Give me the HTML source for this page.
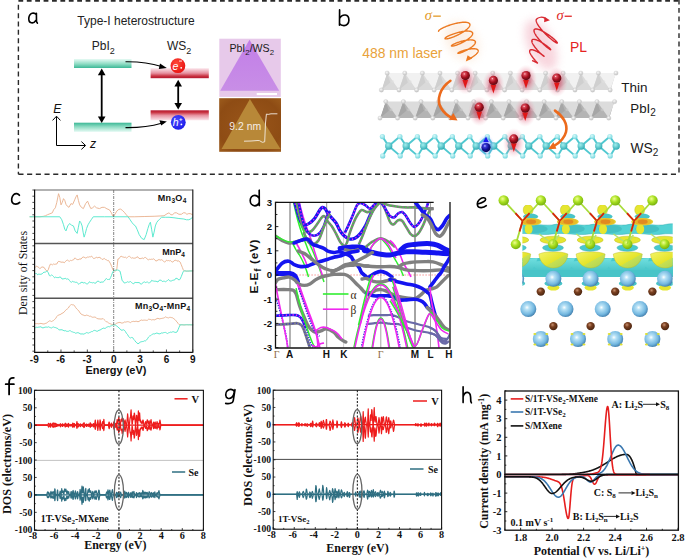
<!DOCTYPE html>
<html><head><meta charset="utf-8"><style>
html,body{margin:0;padding:0;background:#fff;width:685px;height:558px;overflow:hidden;}
svg{display:block;}

</style></head><body>
<svg width="685" height="558" viewBox="0 0 685 558">
<defs><linearGradient id="gT" x1="0" y1="0" x2="0" y2="1"><stop offset="0" stop-color="#e6faf4"/><stop offset="0.55" stop-color="#8fdcc4"/><stop offset="1" stop-color="#3cb896"/></linearGradient>
<linearGradient id="gTb" x1="0" y1="1" x2="0" y2="0"><stop offset="0" stop-color="#e6faf4"/><stop offset="0.55" stop-color="#8fdcc4"/><stop offset="1" stop-color="#3cb896"/></linearGradient>
<linearGradient id="gR" x1="0" y1="0" x2="0" y2="1"><stop offset="0" stop-color="#fbe6ec"/><stop offset="0.5" stop-color="#e6909f"/><stop offset="0.8" stop-color="#c8303f"/><stop offset="1" stop-color="#b41830"/></linearGradient>
<linearGradient id="gRb" x1="0" y1="1" x2="0" y2="0"><stop offset="0" stop-color="#fbe6ec"/><stop offset="0.5" stop-color="#e6909f"/><stop offset="0.8" stop-color="#c8303f"/><stop offset="1" stop-color="#b41830"/></linearGradient>
<radialGradient id="gEr" cx="0.4" cy="0.35" r="0.7"><stop offset="0" stop-color="#ff4a3a"/><stop offset="1" stop-color="#e81010"/></radialGradient>
<radialGradient id="gHb" cx="0.4" cy="0.35" r="0.7"><stop offset="0" stop-color="#4a4aff"/><stop offset="1" stop-color="#1a1ae8"/></radialGradient>
<linearGradient id="gPur" x1="0" y1="0" x2="0" y2="1"><stop offset="0" stop-color="#c27ee8"/><stop offset="1" stop-color="#c88ee6"/></linearGradient>
<radialGradient id="gAfm" cx="0.5" cy="0.5" r="0.75"><stop offset="0" stop-color="#9a561a"/><stop offset="0.7" stop-color="#8e4c14"/><stop offset="1" stop-color="#a0601e"/></radialGradient>
<filter id="blur2" x="-50%" y="-50%" width="200%" height="200%"><feGaussianBlur stdDeviation="2.2"/></filter>
<filter id="blur4" x="-50%" y="-50%" width="200%" height="200%"><feGaussianBlur stdDeviation="4"/></filter>
<radialGradient id="gGlowR"><stop offset="0" stop-color="#c81838" stop-opacity="0.75"/><stop offset="0.45" stop-color="#d84060" stop-opacity="0.42"/><stop offset="0.8" stop-color="#e88098" stop-opacity="0.15"/><stop offset="1" stop-color="#f0a0b0" stop-opacity="0"/></radialGradient>
<radialGradient id="gGlowB"><stop offset="0" stop-color="#1030ff" stop-opacity="0.8"/><stop offset="0.5" stop-color="#4060ff" stop-opacity="0.4"/><stop offset="1" stop-color="#a0b0ff" stop-opacity="0"/></radialGradient>
<radialGradient id="gBallR" cx="0.38" cy="0.32" r="0.7"><stop offset="0" stop-color="#fff0f0"/><stop offset="0.15" stop-color="#e05060"/><stop offset="0.55" stop-color="#a81020"/><stop offset="1" stop-color="#5a0810"/></radialGradient>
<radialGradient id="gBallB" cx="0.38" cy="0.32" r="0.7"><stop offset="0" stop-color="#e0e0ff"/><stop offset="0.18" stop-color="#4040e0"/><stop offset="0.6" stop-color="#101090"/><stop offset="1" stop-color="#080850"/></radialGradient>
<radialGradient id="gAtomW" cx="0.4" cy="0.35" r="0.7"><stop offset="0" stop-color="#f8f8f8"/><stop offset="1" stop-color="#bcbcbc"/></radialGradient>
<radialGradient id="gS" cx="0.4" cy="0.35" r="0.7"><stop offset="0" stop-color="#d8fafa"/><stop offset="1" stop-color="#6cd4dc"/></radialGradient>
<radialGradient id="gW" cx="0.4" cy="0.35" r="0.7"><stop offset="0" stop-color="#a0eeee"/><stop offset="1" stop-color="#2aa8b0"/></radialGradient>
<clipPath id="cl73"><polygon points="387.2,72.1 616,72.1 610.2,91 381.4,91"/></clipPath>
<clipPath id="cl101"><polygon points="385.8,100.6 614.6,100.6 608.8,119.1 380,119.1"/></clipPath>
<clipPath id="cpd"><rect x="275.5" y="202.3" width="174.1" height="145.3"/></clipPath>
<radialGradient id="gLB" cx="0.42" cy="0.4" r="0.62"><stop offset="0" stop-color="#ffffff"/><stop offset="0.22" stop-color="#b8e2f6"/><stop offset="0.7" stop-color="#74b8e0"/><stop offset="0.92" stop-color="#4e8ebc"/><stop offset="1" stop-color="#3c78a4"/></radialGradient>
<radialGradient id="gBr" cx="0.4" cy="0.35" r="0.65"><stop offset="0" stop-color="#c89070"/><stop offset="0.4" stop-color="#7a4020"/><stop offset="1" stop-color="#4a2410"/></radialGradient>
<radialGradient id="gGr" cx="0.4" cy="0.35" r="0.65"><stop offset="0" stop-color="#f0ff90"/><stop offset="0.5" stop-color="#a8e020"/><stop offset="1" stop-color="#78b010"/></radialGradient>
<linearGradient id="gYel" x1="0" y1="0" x2="1" y2="1"><stop offset="0" stop-color="#f4f468"/><stop offset="0.55" stop-color="#e4e42a"/><stop offset="0.56" stop-color="#c8e050"/><stop offset="1" stop-color="#a8d058"/></linearGradient>
<linearGradient id="gCy" x1="0" y1="0" x2="0" y2="1"><stop offset="0" stop-color="#70e0e0"/><stop offset="1" stop-color="#38b8bc"/></linearGradient>
<clipPath id="cpe"><rect x="522.4" y="205" width="150.3" height="90"/></clipPath></defs>
<g stroke="#2a2a2a" stroke-width="1.4" fill="none"><line x1="18.4" y1="0.8" x2="679" y2="0.8" stroke-width="1.7" stroke-dasharray="4.8 3.6"/><line x1="18.4" y1="4.8" x2="18.4" y2="174.3" stroke-dasharray="5 3.35"/><line x1="679" y1="0" x2="679" y2="174.3" stroke-dasharray="4.8 3.6" stroke-dashoffset="0.4"/><line x1="18.4" y1="174.3" x2="679" y2="174.3" stroke-dasharray="5.1 3.6"/></g>
<path d="M36.3,14.6 C34.6,12.3 29.4,12.2 28.8,18.2 C28.4,23.6 33.6,24.2 35.6,20.6 M36.4,13.2 L36.5,21.6 L37.4,23.2" fill="none" stroke="#000" stroke-width="1.6" stroke-linecap="round" stroke-linejoin="round"/>
<text x="77.3" y="25.2" font-family="Liberation Sans" font-size="12" font-weight="normal" fill="#222" text-anchor="start" >Type-I heterostructure</text>
<text x="91.8" y="49.9" font-family="Liberation Sans" font-size="12" font-weight="normal" fill="#222" text-anchor="start" >PbI<tspan font-size="9" dy="3.6">2</tspan></text>
<text x="167" y="49.9" font-family="Liberation Sans" font-size="12" font-weight="normal" fill="#222" text-anchor="start" >WS<tspan font-size="9" dy="3.6">2</tspan></text>
<rect x="74" y="59" width="57.5" height="9" fill="url(#gT)"/>
<rect x="74" y="122.7" width="57.5" height="9.2" fill="url(#gTb)"/>
<rect x="150.6" y="68.2" width="58.2" height="10" fill="url(#gR)"/>
<rect x="150.6" y="110.3" width="58.2" height="10" fill="url(#gRb)"/>
<line x1="101.7" y1="73.6" x2="101.7" y2="118" stroke="#000" stroke-width="1.8"/>
<path d="M101.7,68.6 l-3.8,6.6 l7.6,0 z" fill="#000"/>
<path d="M101.7,123 l-3.8,-6.6 l7.6,0 z" fill="#000"/>
<line x1="178.2" y1="84.8" x2="178.2" y2="104.6" stroke="#000" stroke-width="1.8"/>
<path d="M178.2,79.8 l-3.8,6.6 l7.6,0 z" fill="#000"/>
<path d="M178.2,109.6 l-3.8,-6.6 l7.6,0 z" fill="#000"/>
<path d="M125.5,61.8 C140,61.6 152,63.5 161.5,66.6" fill="none" stroke="#000" stroke-width="1.1"/>
<path d="M166.8,68 l-6.8,-4.6 l-1.2,5.6 z" fill="#000"/>
<path d="M125.5,127.6 C140,127.8 152,126 161.5,123.2" fill="none" stroke="#000" stroke-width="1.1"/>
<path d="M166.8,121.4 l-7.4,-1.2 l1.8,5.4 z" fill="#000"/>
<circle cx="177.9" cy="65.7" r="7.4" fill="url(#gEr)"/>
<circle cx="178.3" cy="122.3" r="7.4" fill="url(#gHb)"/>
<text x="172.6" y="69.6" font-family="Liberation Sans" font-size="10.5" font-weight="normal" fill="#fff" text-anchor="start" font-style="italic">e</text>
<rect x="179" y="60.6" width="3" height="0.9" fill="#fff"/><circle cx="181.2" cy="67.8" r="0.9" fill="#fff"/>
<text x="172.8" y="126.4" font-family="Liberation Sans" font-size="10.5" font-weight="normal" fill="#fff" text-anchor="start" font-style="italic">h</text>
<text x="179" y="121" font-family="Liberation Sans" font-size="6" font-weight="bold" fill="#fff" text-anchor="start" >+</text>
<circle cx="181.4" cy="124.4" r="0.9" fill="#fff"/>
<path d="M56.5,116.5 L56.5,145.5 L85,145.5" fill="none" stroke="#000" stroke-width="1"/>
<path d="M52.6,120.4 L56.5,116.2 L60.4,120.4 M81.4,141.6 L85.6,145.5 L81.4,149.4" fill="none" stroke="#000" stroke-width="1"/>
<text x="53.2" y="112.6" font-family="Liberation Sans" font-size="12.3" font-weight="normal" fill="#111" text-anchor="start" font-style="italic">E</text>
<text x="90" y="148" font-family="Liberation Sans" font-size="12.3" font-weight="normal" fill="#111" text-anchor="start" font-style="italic">z</text>
<rect x="219.3" y="38.7" width="61.5" height="58.2" fill="#e7c9ea"/>
<path d="M249.5,39.7 L279.2,90.8 L220.2,90.8 Z" fill="url(#gPur)"/>
<rect x="256.7" y="93" width="20.3" height="2.1" fill="#fff"/>
<text x="229.4" y="52" font-family="Liberation Sans" font-size="10.6" font-weight="normal" fill="#1a1a1a" text-anchor="start" >PbI<tspan font-size="7.8" dy="2.5">2</tspan><tspan dy="-2.5">/WS</tspan><tspan font-size="7.8" dy="2.5">2</tspan></text>
<rect x="219.2" y="98.2" width="61.8" height="53.6" fill="url(#gAfm)"/>
<path d="M249.9,99.1 L280.5,148.9 L221.5,148.9 Z" fill="#b88838"/>
<text x="229.3" y="130.1" font-family="Liberation Sans" font-size="10.4" font-weight="normal" fill="#f6eee6" text-anchor="start" >9.2 nm</text>
<polyline points="244,141.2 251,141 258,140.5 259.6,140.7 262.3,142.3 264.7,141.8 265.5,123 266.4,114.1 268.2,114.4 271,113.8 277.4,113.8" fill="none" stroke="#f4ece4" stroke-width="0.9"/>
<path d="M339.6,9.9 L339.5,25.2 M339.6,18.5 C341.2,15.2 344,14.9 345.4,15 C348,15.3 348.9,18 348.9,20.3 C348.9,23.4 346.6,25.6 344,25.6 C342,25.6 340.3,24.6 339.6,23.6" fill="none" stroke="#000" stroke-width="1.65" stroke-linecap="round" stroke-linejoin="round"/>
<ellipse cx="462" cy="41" rx="15" ry="22" transform="rotate(-35 462 41)" fill="#fbe6d4" opacity="0.6" filter="url(#blur4)"/>
<ellipse cx="541" cy="45" rx="13" ry="27" transform="rotate(-25 541 45)" fill="#f4c0cc" opacity="0.65" filter="url(#blur4)"/>
<g clip-path="url(#cl73)">
<polygon points="387.2,73.1 616,73.1 610.2,90 381.4,90" fill="#f1f1f1"/>
<polygon points="387.2,73.1 399,90 381.4,90" fill="#dadada"/>
<polygon points="387.2,73.1 381.4,90 390.2,82.39" fill="#cfcfcf"/>
<polygon points="404.8,73.1 416.6,90 399,90" fill="#dadada"/>
<polygon points="404.8,73.1 399,90 407.8,82.39" fill="#cfcfcf"/>
<polygon points="422.4,73.1 434.2,90 416.6,90" fill="#dadada"/>
<polygon points="422.4,73.1 416.6,90 425.4,82.39" fill="#cfcfcf"/>
<polygon points="440,73.1 451.8,90 434.2,90" fill="#dadada"/>
<polygon points="440,73.1 434.2,90 443,82.39" fill="#cfcfcf"/>
<polygon points="457.6,73.1 469.4,90 451.8,90" fill="#dadada"/>
<polygon points="457.6,73.1 451.8,90 460.6,82.39" fill="#cfcfcf"/>
<polygon points="475.2,73.1 487,90 469.4,90" fill="#dadada"/>
<polygon points="475.2,73.1 469.4,90 478.2,82.39" fill="#cfcfcf"/>
<polygon points="492.8,73.1 504.6,90 487,90" fill="#dadada"/>
<polygon points="492.8,73.1 487,90 495.8,82.39" fill="#cfcfcf"/>
<polygon points="510.4,73.1 522.2,90 504.6,90" fill="#dadada"/>
<polygon points="510.4,73.1 504.6,90 513.4,82.39" fill="#cfcfcf"/>
<polygon points="528,73.1 539.8,90 522.2,90" fill="#dadada"/>
<polygon points="528,73.1 522.2,90 531,82.39" fill="#cfcfcf"/>
<polygon points="545.6,73.1 557.4,90 539.8,90" fill="#dadada"/>
<polygon points="545.6,73.1 539.8,90 548.6,82.39" fill="#cfcfcf"/>
<polygon points="563.2,73.1 575,90 557.4,90" fill="#dadada"/>
<polygon points="563.2,73.1 557.4,90 566.2,82.39" fill="#cfcfcf"/>
<polygon points="580.8,73.1 592.6,90 575,90" fill="#dadada"/>
<polygon points="580.8,73.1 575,90 583.8,82.39" fill="#cfcfcf"/>
<polygon points="598.4,73.1 610.2,90 592.6,90" fill="#dadada"/>
<polygon points="598.4,73.1 592.6,90 601.4,82.39" fill="#cfcfcf"/>
<polygon points="616,73.1 627.8,90 610.2,90" fill="#dadada"/>
<polygon points="616,73.1 610.2,90 619,82.39" fill="#cfcfcf"/>
<circle cx="392.5" cy="81.55" r="1.5" fill="#e0e0e0" opacity="0.6"/>
<circle cx="410.1" cy="81.55" r="1.5" fill="#e0e0e0" opacity="0.6"/>
<circle cx="427.7" cy="81.55" r="1.5" fill="#e0e0e0" opacity="0.6"/>
<circle cx="445.3" cy="81.55" r="1.5" fill="#e0e0e0" opacity="0.6"/>
<circle cx="462.9" cy="81.55" r="1.5" fill="#e0e0e0" opacity="0.6"/>
<circle cx="480.5" cy="81.55" r="1.5" fill="#e0e0e0" opacity="0.6"/>
<circle cx="498.1" cy="81.55" r="1.5" fill="#e0e0e0" opacity="0.6"/>
<circle cx="515.7" cy="81.55" r="1.5" fill="#e0e0e0" opacity="0.6"/>
<circle cx="533.3" cy="81.55" r="1.5" fill="#e0e0e0" opacity="0.6"/>
<circle cx="550.9" cy="81.55" r="1.5" fill="#e0e0e0" opacity="0.6"/>
<circle cx="568.5" cy="81.55" r="1.5" fill="#e0e0e0" opacity="0.6"/>
<circle cx="586.1" cy="81.55" r="1.5" fill="#e0e0e0" opacity="0.6"/>
<circle cx="603.7" cy="81.55" r="1.5" fill="#e0e0e0" opacity="0.6"/>
<circle cx="621.3" cy="81.55" r="1.5" fill="#e0e0e0" opacity="0.6"/>
</g>
<circle cx="387.2" cy="73.1" r="2.2" fill="url(#gAtomW)" stroke="#c8c8c8" stroke-width="0.3"/>
<circle cx="404.8" cy="73.1" r="2.2" fill="url(#gAtomW)" stroke="#c8c8c8" stroke-width="0.3"/>
<circle cx="422.4" cy="73.1" r="2.2" fill="url(#gAtomW)" stroke="#c8c8c8" stroke-width="0.3"/>
<circle cx="440" cy="73.1" r="2.2" fill="url(#gAtomW)" stroke="#c8c8c8" stroke-width="0.3"/>
<circle cx="457.6" cy="73.1" r="2.2" fill="url(#gAtomW)" stroke="#c8c8c8" stroke-width="0.3"/>
<circle cx="475.2" cy="73.1" r="2.2" fill="url(#gAtomW)" stroke="#c8c8c8" stroke-width="0.3"/>
<circle cx="492.8" cy="73.1" r="2.2" fill="url(#gAtomW)" stroke="#c8c8c8" stroke-width="0.3"/>
<circle cx="510.4" cy="73.1" r="2.2" fill="url(#gAtomW)" stroke="#c8c8c8" stroke-width="0.3"/>
<circle cx="528" cy="73.1" r="2.2" fill="url(#gAtomW)" stroke="#c8c8c8" stroke-width="0.3"/>
<circle cx="545.6" cy="73.1" r="2.2" fill="url(#gAtomW)" stroke="#c8c8c8" stroke-width="0.3"/>
<circle cx="563.2" cy="73.1" r="2.2" fill="url(#gAtomW)" stroke="#c8c8c8" stroke-width="0.3"/>
<circle cx="580.8" cy="73.1" r="2.2" fill="url(#gAtomW)" stroke="#c8c8c8" stroke-width="0.3"/>
<circle cx="598.4" cy="73.1" r="2.2" fill="url(#gAtomW)" stroke="#c8c8c8" stroke-width="0.3"/>
<circle cx="616" cy="73.1" r="2.2" fill="url(#gAtomW)" stroke="#c8c8c8" stroke-width="0.3"/>
<circle cx="381.4" cy="90" r="2.2" fill="url(#gAtomW)" stroke="#c8c8c8" stroke-width="0.3"/>
<circle cx="399" cy="90" r="2.2" fill="url(#gAtomW)" stroke="#c8c8c8" stroke-width="0.3"/>
<circle cx="416.6" cy="90" r="2.2" fill="url(#gAtomW)" stroke="#c8c8c8" stroke-width="0.3"/>
<circle cx="434.2" cy="90" r="2.2" fill="url(#gAtomW)" stroke="#c8c8c8" stroke-width="0.3"/>
<circle cx="451.8" cy="90" r="2.2" fill="url(#gAtomW)" stroke="#c8c8c8" stroke-width="0.3"/>
<circle cx="469.4" cy="90" r="2.2" fill="url(#gAtomW)" stroke="#c8c8c8" stroke-width="0.3"/>
<circle cx="487" cy="90" r="2.2" fill="url(#gAtomW)" stroke="#c8c8c8" stroke-width="0.3"/>
<circle cx="504.6" cy="90" r="2.2" fill="url(#gAtomW)" stroke="#c8c8c8" stroke-width="0.3"/>
<circle cx="522.2" cy="90" r="2.2" fill="url(#gAtomW)" stroke="#c8c8c8" stroke-width="0.3"/>
<circle cx="539.8" cy="90" r="2.2" fill="url(#gAtomW)" stroke="#c8c8c8" stroke-width="0.3"/>
<circle cx="557.4" cy="90" r="2.2" fill="url(#gAtomW)" stroke="#c8c8c8" stroke-width="0.3"/>
<circle cx="575" cy="90" r="2.2" fill="url(#gAtomW)" stroke="#c8c8c8" stroke-width="0.3"/>
<circle cx="592.6" cy="90" r="2.2" fill="url(#gAtomW)" stroke="#c8c8c8" stroke-width="0.3"/>
<circle cx="610.2" cy="90" r="2.2" fill="url(#gAtomW)" stroke="#c8c8c8" stroke-width="0.3"/>
<g clip-path="url(#cl101)">
<polygon points="385.8,101.6 614.6,101.6 608.8,118.1 380,118.1" fill="#dcdcdc"/>
<polygon points="385.8,101.6 397.6,118.1 380,118.1" fill="#b4b4b4"/>
<polygon points="385.8,101.6 380,118.1 388.8,110.67" fill="#a6a6a6"/>
<polygon points="403.4,101.6 415.2,118.1 397.6,118.1" fill="#b4b4b4"/>
<polygon points="403.4,101.6 397.6,118.1 406.4,110.67" fill="#a6a6a6"/>
<polygon points="421,101.6 432.8,118.1 415.2,118.1" fill="#b4b4b4"/>
<polygon points="421,101.6 415.2,118.1 424,110.67" fill="#a6a6a6"/>
<polygon points="438.6,101.6 450.4,118.1 432.8,118.1" fill="#b4b4b4"/>
<polygon points="438.6,101.6 432.8,118.1 441.6,110.67" fill="#a6a6a6"/>
<polygon points="456.2,101.6 468,118.1 450.4,118.1" fill="#b4b4b4"/>
<polygon points="456.2,101.6 450.4,118.1 459.2,110.67" fill="#a6a6a6"/>
<polygon points="473.8,101.6 485.6,118.1 468,118.1" fill="#b4b4b4"/>
<polygon points="473.8,101.6 468,118.1 476.8,110.67" fill="#a6a6a6"/>
<polygon points="491.4,101.6 503.2,118.1 485.6,118.1" fill="#b4b4b4"/>
<polygon points="491.4,101.6 485.6,118.1 494.4,110.67" fill="#a6a6a6"/>
<polygon points="509,101.6 520.8,118.1 503.2,118.1" fill="#b4b4b4"/>
<polygon points="509,101.6 503.2,118.1 512,110.67" fill="#a6a6a6"/>
<polygon points="526.6,101.6 538.4,118.1 520.8,118.1" fill="#b4b4b4"/>
<polygon points="526.6,101.6 520.8,118.1 529.6,110.67" fill="#a6a6a6"/>
<polygon points="544.2,101.6 556,118.1 538.4,118.1" fill="#b4b4b4"/>
<polygon points="544.2,101.6 538.4,118.1 547.2,110.67" fill="#a6a6a6"/>
<polygon points="561.8,101.6 573.6,118.1 556,118.1" fill="#b4b4b4"/>
<polygon points="561.8,101.6 556,118.1 564.8,110.67" fill="#a6a6a6"/>
<polygon points="579.4,101.6 591.2,118.1 573.6,118.1" fill="#b4b4b4"/>
<polygon points="579.4,101.6 573.6,118.1 582.4,110.67" fill="#a6a6a6"/>
<polygon points="597,101.6 608.8,118.1 591.2,118.1" fill="#b4b4b4"/>
<polygon points="597,101.6 591.2,118.1 600,110.67" fill="#a6a6a6"/>
<polygon points="614.6,101.6 626.4,118.1 608.8,118.1" fill="#b4b4b4"/>
<polygon points="614.6,101.6 608.8,118.1 617.6,110.67" fill="#a6a6a6"/>
<circle cx="391.1" cy="109.85" r="1.5" fill="#cccccc" opacity="0.6"/>
<circle cx="408.7" cy="109.85" r="1.5" fill="#cccccc" opacity="0.6"/>
<circle cx="426.3" cy="109.85" r="1.5" fill="#cccccc" opacity="0.6"/>
<circle cx="443.9" cy="109.85" r="1.5" fill="#cccccc" opacity="0.6"/>
<circle cx="461.5" cy="109.85" r="1.5" fill="#cccccc" opacity="0.6"/>
<circle cx="479.1" cy="109.85" r="1.5" fill="#cccccc" opacity="0.6"/>
<circle cx="496.7" cy="109.85" r="1.5" fill="#cccccc" opacity="0.6"/>
<circle cx="514.3" cy="109.85" r="1.5" fill="#cccccc" opacity="0.6"/>
<circle cx="531.9" cy="109.85" r="1.5" fill="#cccccc" opacity="0.6"/>
<circle cx="549.5" cy="109.85" r="1.5" fill="#cccccc" opacity="0.6"/>
<circle cx="567.1" cy="109.85" r="1.5" fill="#cccccc" opacity="0.6"/>
<circle cx="584.7" cy="109.85" r="1.5" fill="#cccccc" opacity="0.6"/>
<circle cx="602.3" cy="109.85" r="1.5" fill="#cccccc" opacity="0.6"/>
<circle cx="619.9" cy="109.85" r="1.5" fill="#cccccc" opacity="0.6"/>
</g>
<circle cx="385.8" cy="101.6" r="2.2" fill="url(#gAtomW)" stroke="#c8c8c8" stroke-width="0.3"/>
<circle cx="403.4" cy="101.6" r="2.2" fill="url(#gAtomW)" stroke="#c8c8c8" stroke-width="0.3"/>
<circle cx="421" cy="101.6" r="2.2" fill="url(#gAtomW)" stroke="#c8c8c8" stroke-width="0.3"/>
<circle cx="438.6" cy="101.6" r="2.2" fill="url(#gAtomW)" stroke="#c8c8c8" stroke-width="0.3"/>
<circle cx="456.2" cy="101.6" r="2.2" fill="url(#gAtomW)" stroke="#c8c8c8" stroke-width="0.3"/>
<circle cx="473.8" cy="101.6" r="2.2" fill="url(#gAtomW)" stroke="#c8c8c8" stroke-width="0.3"/>
<circle cx="491.4" cy="101.6" r="2.2" fill="url(#gAtomW)" stroke="#c8c8c8" stroke-width="0.3"/>
<circle cx="509" cy="101.6" r="2.2" fill="url(#gAtomW)" stroke="#c8c8c8" stroke-width="0.3"/>
<circle cx="526.6" cy="101.6" r="2.2" fill="url(#gAtomW)" stroke="#c8c8c8" stroke-width="0.3"/>
<circle cx="544.2" cy="101.6" r="2.2" fill="url(#gAtomW)" stroke="#c8c8c8" stroke-width="0.3"/>
<circle cx="561.8" cy="101.6" r="2.2" fill="url(#gAtomW)" stroke="#c8c8c8" stroke-width="0.3"/>
<circle cx="579.4" cy="101.6" r="2.2" fill="url(#gAtomW)" stroke="#c8c8c8" stroke-width="0.3"/>
<circle cx="597" cy="101.6" r="2.2" fill="url(#gAtomW)" stroke="#c8c8c8" stroke-width="0.3"/>
<circle cx="614.6" cy="101.6" r="2.2" fill="url(#gAtomW)" stroke="#c8c8c8" stroke-width="0.3"/>
<circle cx="380" cy="118.1" r="2.2" fill="url(#gAtomW)" stroke="#c8c8c8" stroke-width="0.3"/>
<circle cx="397.6" cy="118.1" r="2.2" fill="url(#gAtomW)" stroke="#c8c8c8" stroke-width="0.3"/>
<circle cx="415.2" cy="118.1" r="2.2" fill="url(#gAtomW)" stroke="#c8c8c8" stroke-width="0.3"/>
<circle cx="432.8" cy="118.1" r="2.2" fill="url(#gAtomW)" stroke="#c8c8c8" stroke-width="0.3"/>
<circle cx="450.4" cy="118.1" r="2.2" fill="url(#gAtomW)" stroke="#c8c8c8" stroke-width="0.3"/>
<circle cx="468" cy="118.1" r="2.2" fill="url(#gAtomW)" stroke="#c8c8c8" stroke-width="0.3"/>
<circle cx="485.6" cy="118.1" r="2.2" fill="url(#gAtomW)" stroke="#c8c8c8" stroke-width="0.3"/>
<circle cx="503.2" cy="118.1" r="2.2" fill="url(#gAtomW)" stroke="#c8c8c8" stroke-width="0.3"/>
<circle cx="520.8" cy="118.1" r="2.2" fill="url(#gAtomW)" stroke="#c8c8c8" stroke-width="0.3"/>
<circle cx="538.4" cy="118.1" r="2.2" fill="url(#gAtomW)" stroke="#c8c8c8" stroke-width="0.3"/>
<circle cx="556" cy="118.1" r="2.2" fill="url(#gAtomW)" stroke="#c8c8c8" stroke-width="0.3"/>
<circle cx="573.6" cy="118.1" r="2.2" fill="url(#gAtomW)" stroke="#c8c8c8" stroke-width="0.3"/>
<circle cx="591.2" cy="118.1" r="2.2" fill="url(#gAtomW)" stroke="#c8c8c8" stroke-width="0.3"/>
<circle cx="608.8" cy="118.1" r="2.2" fill="url(#gAtomW)" stroke="#c8c8c8" stroke-width="0.3"/>
<ellipse cx="465.3" cy="79.6" rx="11" ry="15" fill="url(#gGlowR)"/>
<ellipse cx="493.4" cy="84.4" rx="11" ry="15" fill="url(#gGlowR)"/>
<ellipse cx="526" cy="79.6" rx="11" ry="15" fill="url(#gGlowR)"/>
<ellipse cx="556.8" cy="82" rx="11" ry="15" fill="url(#gGlowR)"/>
<ellipse cx="479.2" cy="111.2" rx="11" ry="15" fill="url(#gGlowR)"/>
<ellipse cx="525.2" cy="112" rx="11" ry="15" fill="url(#gGlowR)"/>
<line x1="388.7" y1="146" x2="382.4" y2="136.6" stroke="#50c8d0" stroke-width="1.9"/>
<line x1="388.7" y1="146" x2="382.7" y2="155.9" stroke="#50c8d0" stroke-width="1.9"/>
<line x1="388.7" y1="146" x2="399.9" y2="136.6" stroke="#50c8d0" stroke-width="1.9"/>
<line x1="388.7" y1="146" x2="400.2" y2="155.9" stroke="#50c8d0" stroke-width="1.9"/>
<line x1="406.2" y1="146" x2="399.9" y2="136.6" stroke="#50c8d0" stroke-width="1.9"/>
<line x1="406.2" y1="146" x2="400.2" y2="155.9" stroke="#50c8d0" stroke-width="1.9"/>
<line x1="406.2" y1="146" x2="417.4" y2="136.6" stroke="#50c8d0" stroke-width="1.9"/>
<line x1="406.2" y1="146" x2="417.7" y2="155.9" stroke="#50c8d0" stroke-width="1.9"/>
<line x1="423.7" y1="146" x2="417.4" y2="136.6" stroke="#50c8d0" stroke-width="1.9"/>
<line x1="423.7" y1="146" x2="417.7" y2="155.9" stroke="#50c8d0" stroke-width="1.9"/>
<line x1="423.7" y1="146" x2="434.9" y2="136.6" stroke="#50c8d0" stroke-width="1.9"/>
<line x1="423.7" y1="146" x2="435.2" y2="155.9" stroke="#50c8d0" stroke-width="1.9"/>
<line x1="441.2" y1="146" x2="434.9" y2="136.6" stroke="#50c8d0" stroke-width="1.9"/>
<line x1="441.2" y1="146" x2="435.2" y2="155.9" stroke="#50c8d0" stroke-width="1.9"/>
<line x1="441.2" y1="146" x2="452.4" y2="136.6" stroke="#50c8d0" stroke-width="1.9"/>
<line x1="441.2" y1="146" x2="452.7" y2="155.9" stroke="#50c8d0" stroke-width="1.9"/>
<line x1="458.7" y1="146" x2="452.4" y2="136.6" stroke="#50c8d0" stroke-width="1.9"/>
<line x1="458.7" y1="146" x2="452.7" y2="155.9" stroke="#50c8d0" stroke-width="1.9"/>
<line x1="458.7" y1="146" x2="469.9" y2="136.6" stroke="#50c8d0" stroke-width="1.9"/>
<line x1="458.7" y1="146" x2="470.2" y2="155.9" stroke="#50c8d0" stroke-width="1.9"/>
<line x1="476.2" y1="146" x2="469.9" y2="136.6" stroke="#50c8d0" stroke-width="1.9"/>
<line x1="476.2" y1="146" x2="470.2" y2="155.9" stroke="#50c8d0" stroke-width="1.9"/>
<line x1="476.2" y1="146" x2="487.4" y2="136.6" stroke="#50c8d0" stroke-width="1.9"/>
<line x1="476.2" y1="146" x2="487.7" y2="155.9" stroke="#50c8d0" stroke-width="1.9"/>
<line x1="493.7" y1="146" x2="487.4" y2="136.6" stroke="#50c8d0" stroke-width="1.9"/>
<line x1="493.7" y1="146" x2="487.7" y2="155.9" stroke="#50c8d0" stroke-width="1.9"/>
<line x1="493.7" y1="146" x2="504.9" y2="136.6" stroke="#50c8d0" stroke-width="1.9"/>
<line x1="493.7" y1="146" x2="505.2" y2="155.9" stroke="#50c8d0" stroke-width="1.9"/>
<line x1="511.2" y1="146" x2="504.9" y2="136.6" stroke="#50c8d0" stroke-width="1.9"/>
<line x1="511.2" y1="146" x2="505.2" y2="155.9" stroke="#50c8d0" stroke-width="1.9"/>
<line x1="511.2" y1="146" x2="522.4" y2="136.6" stroke="#50c8d0" stroke-width="1.9"/>
<line x1="511.2" y1="146" x2="522.7" y2="155.9" stroke="#50c8d0" stroke-width="1.9"/>
<line x1="528.7" y1="146" x2="522.4" y2="136.6" stroke="#50c8d0" stroke-width="1.9"/>
<line x1="528.7" y1="146" x2="522.7" y2="155.9" stroke="#50c8d0" stroke-width="1.9"/>
<line x1="528.7" y1="146" x2="539.9" y2="136.6" stroke="#50c8d0" stroke-width="1.9"/>
<line x1="528.7" y1="146" x2="540.2" y2="155.9" stroke="#50c8d0" stroke-width="1.9"/>
<line x1="546.2" y1="146" x2="539.9" y2="136.6" stroke="#50c8d0" stroke-width="1.9"/>
<line x1="546.2" y1="146" x2="540.2" y2="155.9" stroke="#50c8d0" stroke-width="1.9"/>
<line x1="546.2" y1="146" x2="557.4" y2="136.6" stroke="#50c8d0" stroke-width="1.9"/>
<line x1="546.2" y1="146" x2="557.7" y2="155.9" stroke="#50c8d0" stroke-width="1.9"/>
<line x1="563.7" y1="146" x2="557.4" y2="136.6" stroke="#50c8d0" stroke-width="1.9"/>
<line x1="563.7" y1="146" x2="557.7" y2="155.9" stroke="#50c8d0" stroke-width="1.9"/>
<line x1="563.7" y1="146" x2="574.9" y2="136.6" stroke="#50c8d0" stroke-width="1.9"/>
<line x1="563.7" y1="146" x2="575.2" y2="155.9" stroke="#50c8d0" stroke-width="1.9"/>
<line x1="581.2" y1="146" x2="574.9" y2="136.6" stroke="#50c8d0" stroke-width="1.9"/>
<line x1="581.2" y1="146" x2="575.2" y2="155.9" stroke="#50c8d0" stroke-width="1.9"/>
<line x1="581.2" y1="146" x2="592.4" y2="136.6" stroke="#50c8d0" stroke-width="1.9"/>
<line x1="581.2" y1="146" x2="592.7" y2="155.9" stroke="#50c8d0" stroke-width="1.9"/>
<line x1="598.7" y1="146" x2="592.4" y2="136.6" stroke="#50c8d0" stroke-width="1.9"/>
<line x1="598.7" y1="146" x2="592.7" y2="155.9" stroke="#50c8d0" stroke-width="1.9"/>
<line x1="598.7" y1="146" x2="609.9" y2="136.6" stroke="#50c8d0" stroke-width="1.9"/>
<line x1="598.7" y1="146" x2="610.2" y2="155.9" stroke="#50c8d0" stroke-width="1.9"/>
<line x1="616.2" y1="146" x2="609.9" y2="136.6" stroke="#50c8d0" stroke-width="1.9"/>
<line x1="616.2" y1="146" x2="610.2" y2="155.9" stroke="#50c8d0" stroke-width="1.9"/>
<circle cx="382.4" cy="136.6" r="2.6" fill="url(#gS)"/>
<circle cx="382.7" cy="155.9" r="2.6" fill="url(#gS)"/>
<circle cx="399.9" cy="136.6" r="2.6" fill="url(#gS)"/>
<circle cx="400.2" cy="155.9" r="2.6" fill="url(#gS)"/>
<circle cx="417.4" cy="136.6" r="2.6" fill="url(#gS)"/>
<circle cx="417.7" cy="155.9" r="2.6" fill="url(#gS)"/>
<circle cx="434.9" cy="136.6" r="2.6" fill="url(#gS)"/>
<circle cx="435.2" cy="155.9" r="2.6" fill="url(#gS)"/>
<circle cx="452.4" cy="136.6" r="2.6" fill="url(#gS)"/>
<circle cx="452.7" cy="155.9" r="2.6" fill="url(#gS)"/>
<circle cx="469.9" cy="136.6" r="2.6" fill="url(#gS)"/>
<circle cx="470.2" cy="155.9" r="2.6" fill="url(#gS)"/>
<circle cx="487.4" cy="136.6" r="2.6" fill="url(#gS)"/>
<circle cx="487.7" cy="155.9" r="2.6" fill="url(#gS)"/>
<circle cx="504.9" cy="136.6" r="2.6" fill="url(#gS)"/>
<circle cx="505.2" cy="155.9" r="2.6" fill="url(#gS)"/>
<circle cx="522.4" cy="136.6" r="2.6" fill="url(#gS)"/>
<circle cx="522.7" cy="155.9" r="2.6" fill="url(#gS)"/>
<circle cx="539.9" cy="136.6" r="2.6" fill="url(#gS)"/>
<circle cx="540.2" cy="155.9" r="2.6" fill="url(#gS)"/>
<circle cx="557.4" cy="136.6" r="2.6" fill="url(#gS)"/>
<circle cx="557.7" cy="155.9" r="2.6" fill="url(#gS)"/>
<circle cx="574.9" cy="136.6" r="2.6" fill="url(#gS)"/>
<circle cx="575.2" cy="155.9" r="2.6" fill="url(#gS)"/>
<circle cx="592.4" cy="136.6" r="2.6" fill="url(#gS)"/>
<circle cx="592.7" cy="155.9" r="2.6" fill="url(#gS)"/>
<circle cx="609.9" cy="136.6" r="2.6" fill="url(#gS)"/>
<circle cx="610.2" cy="155.9" r="2.6" fill="url(#gS)"/>
<circle cx="388.7" cy="146" r="3.7" fill="url(#gW)"/>
<circle cx="406.2" cy="146" r="3.7" fill="url(#gW)"/>
<circle cx="423.7" cy="146" r="3.7" fill="url(#gW)"/>
<circle cx="441.2" cy="146" r="3.7" fill="url(#gW)"/>
<circle cx="458.7" cy="146" r="3.7" fill="url(#gW)"/>
<circle cx="476.2" cy="146" r="3.7" fill="url(#gW)"/>
<circle cx="493.7" cy="146" r="3.7" fill="url(#gW)"/>
<circle cx="511.2" cy="146" r="3.7" fill="url(#gW)"/>
<circle cx="528.7" cy="146" r="3.7" fill="url(#gW)"/>
<circle cx="546.2" cy="146" r="3.7" fill="url(#gW)"/>
<circle cx="563.7" cy="146" r="3.7" fill="url(#gW)"/>
<circle cx="581.2" cy="146" r="3.7" fill="url(#gW)"/>
<circle cx="598.7" cy="146" r="3.7" fill="url(#gW)"/>
<circle cx="616.2" cy="146" r="3.7" fill="url(#gW)"/>
<ellipse cx="513.8" cy="142.9" rx="11" ry="15" fill="url(#gGlowR)" opacity="0.85"/>
<ellipse cx="486" cy="145.5" rx="9" ry="11" fill="url(#gGlowB)" opacity="0.85"/>
<path d="M462.5,80 l5.6,0 l-2.8,8.6 z" fill="#e01818"/>
<circle cx="465.3" cy="75.6" r="4.6" fill="url(#gBallR)"/>
<path d="M490.6,84.8 l5.6,0 l-2.8,8.6 z" fill="#e01818"/>
<circle cx="493.4" cy="80.4" r="4.6" fill="url(#gBallR)"/>
<path d="M523.2,80 l5.6,0 l-2.8,8.6 z" fill="#e01818"/>
<circle cx="526" cy="75.6" r="4.6" fill="url(#gBallR)"/>
<path d="M554,82.4 l5.6,0 l-2.8,8.6 z" fill="#e01818"/>
<circle cx="556.8" cy="78" r="4.6" fill="url(#gBallR)"/>
<path d="M476.4,111.6 l5.6,0 l-2.8,8.6 z" fill="#e01818"/>
<circle cx="479.2" cy="107.2" r="4.6" fill="url(#gBallR)"/>
<path d="M522.4,112.4 l5.6,0 l-2.8,8.6 z" fill="#e01818"/>
<circle cx="525.2" cy="108" r="4.6" fill="url(#gBallR)"/>
<path d="M511,143.3 l5.6,0 l-2.8,8.6 z" fill="#e01818"/>
<circle cx="513.8" cy="138.9" r="4.6" fill="url(#gBallR)"/>
<path d="M483.2,142 l5.6,0 l-2.8,-5.4 z" fill="#1818f0"/>
<circle cx="486" cy="147.6" r="4.6" fill="url(#gBallB)"/>
<path d="M450.4,80.8 C440,88 436,100 441,108 C444,113 448,116 452,118" fill="none" stroke="#ec6a1c" stroke-width="2.6" stroke-linecap="round"/>
<path d="M457.5,120.5 l-8.5,-0.8 l4.3,-6.6 z" fill="#ec6a1c"/>
<path d="M555,110.6 C563,116 568,124 566,132 C564.5,138 559,143 554,146" fill="none" stroke="#ec6a1c" stroke-width="2.6" stroke-linecap="round"/>
<path d="M548.2,149.2 l5.2,-7.2 l3,6.8 z" fill="#ec6a1c"/>
<polyline points="438.56,31.23 438.57,31.08 438.63,30.91 438.74,30.71 438.91,30.51 439.12,30.28 439.39,30.04 439.71,29.79 440.08,29.52 440.5,29.25 440.96,28.96 441.47,28.66 442.03,28.36 442.62,28.05 443.25,27.73 443.93,27.42 444.63,27.1 445.37,26.78 446.14,26.46 446.94,26.14 447.76,25.83 448.6,25.52 449.46,25.22 450.34,24.93 451.23,24.65 452.12,24.37 453.03,24.11 453.94,23.86 454.85,23.63 455.76,23.41 456.66,23.21 457.55,23.02 458.44,22.85 459.3,22.7 460.15,22.57 460.98,22.46 461.79,22.37 462.57,22.3 463.32,22.25 464.04,22.23 464.73,22.23 465.38,22.25 466,22.29 466.57,22.36 467.11,22.45 467.6,22.56 468.05,22.69 468.45,22.85 468.81,23.03 469.11,23.23 469.37,23.45 469.58,23.7 469.74,23.96 469.85,24.24 469.91,24.54 469.92,24.86 469.88,25.19 469.79,25.54 469.65,25.9 469.47,26.28 469.24,26.67 468.96,27.07 468.63,27.48 468.26,27.9 467.86,28.33 467.41,28.77 466.92,29.21 466.4,29.65 465.84,30.1 465.25,30.54 464.63,30.99 463.98,31.44 463.31,31.88 462.62,32.32 461.91,32.75 461.18,33.18 460.44,33.6 459.69,34.01 458.93,34.41 458.16,34.79 457.39,35.17 456.63,35.53 455.86,35.88 455.11,36.21 454.36,36.53 453.62,36.83 452.9,37.11 452.2,37.37 451.52,37.61 450.86,37.84 450.22,38.04 449.61,38.22 449.03,38.39 448.49,38.53 447.98,38.65 447.5,38.74 447.06,38.82 446.66,38.88 446.3,38.91 445.98,38.92 445.71,38.92 445.48,38.89 445.29,38.84 445.15,38.77 445.06,38.69 445.02,38.58 445.02,38.46 445.06,38.32 445.16,38.17 445.3,38 445.48,37.81 445.71,37.62 445.99,37.41 446.31,37.18 446.67,36.95 447.08,36.71 447.52,36.46 448,36.21 448.52,35.95 449.07,35.68 449.66,35.42 450.27,35.15 450.92,34.88 451.59,34.61 452.29,34.34 453,34.08 453.74,33.82 454.5,33.56 455.27,33.32 456.05,33.08 456.83,32.84 457.63,32.62 458.43,32.41 459.23,32.22 460.03,32.03 460.82,31.86 461.61,31.7 462.39,31.56 463.15,31.44 463.9,31.33 464.63,31.24 465.35,31.17 466.04,31.11 466.7,31.08 467.34,31.06 467.95,31.07 468.53,31.09 469.08,31.13 469.6,31.2 470.08,31.28 470.52,31.39 470.92,31.51 471.28,31.65 471.61,31.81 471.89,31.99 472.13,32.19 472.33,32.41 472.48,32.64 472.59,32.89 472.66,33.16 472.68,33.44 472.66,33.74 472.6,34.05 472.49,34.37 472.35,34.71 472.16,35.06 471.93,35.41 471.66,35.78 471.36,36.15 471.02,36.53 470.64,36.92 470.23,37.31 469.79,37.7 469.32,38.1 468.82,38.49 468.29,38.89 467.74,39.29 467.17,39.68 466.59,40.07 465.98,40.46 465.36,40.84 464.72,41.21 464.08,41.58 463.43,41.94 462.78,42.29 462.12,42.62 461.46,42.95 460.81,43.26 460.16,43.56 459.52,43.85 458.89,44.12 458.27,44.38 457.66,44.62 457.08,44.84 456.51,45.05 455.96,45.24 455.44,45.41 454.94,45.56 454.47,45.7 454.03,45.82 453.62,45.91 453.24,46 452.89,46.06 452.58,46.1 452.31,46.13 452.07,46.14 451.87,46.13 451.71,46.1 451.59,46.05 451.51,45.99 451.46,45.92 451.46,45.83 451.5,45.72 451.58,45.6 451.7,45.47 451.86,45.32 452.05,45.17 452.29,45 452.56,44.82 452.87,44.64 453.22,44.44 453.6,44.24 454.01,44.04 454.45,43.82 454.93,43.61 455.43,43.39 455.96,43.17 456.51,42.95 457.09,42.73 457.69,42.51 458.31,42.3 458.94,42.09 459.59,41.88 460.25,41.68 460.92,41.48 461.6,41.29 462.29,41.11 462.98,40.94 463.67,40.78 464.36,40.63 465.04,40.5 465.72,40.37 466.39,40.26 467.05,40.16 467.7,40.08 468.33,40.01 468.95,39.96 469.55,39.92 470.13,39.9 470.69,39.89 471.22,39.9 471.72,39.93 472.2,39.98 472.65,40.04 473.07,40.12 473.46,40.21 473.82,40.33 474.14,40.46 474.43,40.6 474.68,40.76 474.9,40.94 475.08,41.13 475.22,41.34 475.33,41.56 475.4,41.8 475.43,42.05 475.43,42.31 475.39,42.58 475.32,42.87 475.2,43.16 475.06,43.46 474.88,43.78 474.66,44.1 474.42,44.42 474.14,44.75 473.83,45.09 473.5,45.43 473.14,45.78 472.75,46.12 472.34,46.47 471.91,46.82 471.46,47.17 470.98,47.51 470.5,47.85 469.99,48.19 469.48,48.53 468.95,48.86 468.42,49.18 467.88,49.49 467.33,49.8 466.79,50.1 466.24,50.39 465.69,50.66 465.15,50.93 464.62,51.19 464.09,51.43 463.58,51.66 463.07,51.88 462.58,52.08 462.11,52.27 461.65,52.44 461.22,52.6 460.8,52.74 460.41,52.87 460.04,52.99 459.7,53.09 459.38,53.17 459.1,53.24 458.84,53.29 458.61,53.32 458.41,53.35 458.24,53.35 458.11,53.34 458.01,53.32 457.94,53.29 457.91,53.24 457.91,53.18 457.94,53.1 458.01,53.02 458.11,52.92 458.24,52.81 458.41,52.7 458.61,52.57 458.84,52.44 459.1,52.3 459.39,52.15 459.71,51.99 460.05,51.84 460.43,51.67 460.82,51.51 461.25,51.34 461.69,51.17 462.16,51 462.64,50.83 463.14,50.66 463.66,50.49 464.19,50.33 464.74,50.17 465.29,50.01 465.86,49.86 466.43,49.72 467,49.58 467.58,49.45 468.16,49.33 468.74,49.22 469.32,49.12 469.89,49.02 470.45,48.94 471.01,48.87 471.55,48.81 472.09,48.77 472.61,48.73 473.12,48.71 473.6,48.71 474.07,48.71 474.52,48.74 474.95,48.77 475.36,48.82 475.74,48.88 476.1,48.96 476.43,49.05 476.74,49.15 477.02,49.27 477.27,49.4 477.49,49.54 477.68,49.7 477.84,49.87 477.97,50.05 478.07,50.25 478.14,50.45 478.18,50.67 478.19,50.9 478.17,51.13 478.12,51.38 478.04,51.63 477.94,51.89 477.8,52.16 477.64,52.44 477.45,52.72 477.23,53 477,53.29 476.73,53.58 476.45,53.88 476.14,54.18 475.82,54.47 475.48,54.77 475.12,55.07 474.74,55.37 474.35,55.66 473.95,55.95 473.54,56.24 473.12,56.52 472.7,56.8 472.27,57.07 471.83,57.33 471.39,57.59 470.96,57.84 470.52,58.08 470.09,58.32 469.66,58.54 469.24,58.75" fill="none" stroke="#ec7a22" stroke-width="1.4" stroke-linejoin="round" stroke-linecap="round" />
<path d="M465.8,61.6 l1.8,-6.4 l4.6,3.4 z" fill="#ec7a22"/>
<text x="424.8" y="20.2" font-family="Liberation Serif" font-size="14.5" font-weight="normal" fill="#e39a2a" text-anchor="start" font-style="italic">σ</text>
<rect x="433.2" y="15.5" width="7.6" height="1.3" fill="#e39a2a"/>
<text x="362.2" y="58.3" font-family="Liberation Sans" font-size="13.9" font-weight="normal" fill="#e9a23a" text-anchor="start" >488 nm laser</text>
<polyline points="532.64,60.73 532.91,60.84 533.18,60.95 533.45,61.07 533.72,61.19 533.98,61.31 534.24,61.43 534.49,61.55 534.74,61.67 534.98,61.79 535.22,61.91 535.45,62.03 535.66,62.14 535.87,62.25 536.07,62.36 536.26,62.46 536.44,62.56 536.6,62.64 536.75,62.73 536.89,62.8 537.02,62.87 537.13,62.92 537.23,62.97 537.31,63 537.38,63.03 537.43,63.05 537.47,63.05 537.49,63.04 537.49,63.02 537.48,62.98 537.46,62.94 537.42,62.88 537.36,62.8 537.29,62.72 537.2,62.61 537.1,62.5 536.98,62.37 536.86,62.23 536.71,62.07 536.56,61.9 536.39,61.72 536.21,61.53 536.02,61.32 535.82,61.1 535.61,60.87 535.4,60.62 535.17,60.37 534.94,60.1 534.7,59.83 534.46,59.54 534.21,59.25 533.96,58.95 533.71,58.64 533.46,58.33 533.2,58.01 532.95,57.68 532.7,57.35 532.46,57.02 532.21,56.68 531.98,56.35 531.75,56.01 531.53,55.67 531.31,55.34 531.11,55 530.91,54.67 530.73,54.35 530.56,54.02 530.4,53.71 530.25,53.4 530.12,53.1 530.01,52.8 529.91,52.52 529.83,52.25 529.76,51.98 529.71,51.73 529.68,51.49 529.67,51.26 529.68,51.05 529.7,50.85 529.75,50.67 529.82,50.5 529.9,50.34 530,50.21 530.13,50.08 530.27,49.98 530.43,49.89 530.61,49.82 530.81,49.76 531.03,49.72 531.26,49.7 531.51,49.7 531.78,49.71 532.06,49.74 532.36,49.78 532.67,49.84 532.99,49.92 533.33,50.01 533.68,50.12 534.04,50.24 534.41,50.37 534.78,50.52 535.17,50.67 535.55,50.84 535.95,51.02 536.35,51.21 536.75,51.41 537.15,51.62 537.55,51.83 537.95,52.05 538.34,52.27 538.73,52.5 539.12,52.73 539.5,52.96 539.87,53.2 540.24,53.43 540.59,53.66 540.93,53.89 541.26,54.11 541.58,54.33 541.88,54.55 542.16,54.75 542.43,54.95 542.68,55.14 542.91,55.32 543.13,55.49 543.32,55.64 543.49,55.79 543.65,55.91 543.78,56.03 543.88,56.13 543.97,56.21 544.03,56.28 544.07,56.32 544.09,56.36 544.08,56.37 544.05,56.36 544,56.33 543.92,56.29 543.82,56.22 543.7,56.14 543.56,56.03 543.39,55.9 543.21,55.76 543,55.59 542.78,55.4 542.53,55.2 542.27,54.97 541.99,54.73 541.7,54.46 541.39,54.18 541.07,53.88 540.74,53.57 540.39,53.24 540.04,52.89 539.68,52.53 539.31,52.16 538.93,51.77 538.55,51.38 538.17,50.97 537.79,50.55 537.4,50.13 537.02,49.7 536.64,49.26 536.27,48.82 535.9,48.37 535.54,47.92 535.19,47.47 534.85,47.03 534.52,46.58 534.21,46.14 533.91,45.7 533.62,45.26 533.35,44.84 533.11,44.42 532.88,44.01 532.67,43.61 532.48,43.23 532.31,42.85 532.17,42.49 532.05,42.15 531.96,41.82 531.89,41.51 531.85,41.22 531.84,40.94 531.85,40.69 531.89,40.46 531.95,40.24 532.04,40.05 532.16,39.88 532.31,39.74 532.48,39.61 532.68,39.51 532.91,39.43 533.16,39.38 533.43,39.35 533.73,39.34 534.05,39.36 534.4,39.39 534.77,39.46 535.15,39.54 535.56,39.65 535.99,39.77 536.43,39.92 536.89,40.09 537.36,40.28 537.85,40.48 538.34,40.71 538.85,40.95 539.36,41.2 539.89,41.47 540.41,41.76 540.94,42.05 541.47,42.36 542.01,42.68 542.54,43 543.06,43.33 543.58,43.67 544.1,44.01 544.6,44.35 545.1,44.7 545.58,45.04 546.05,45.38 546.51,45.72 546.94,46.06 547.36,46.38 547.76,46.7 548.14,47.02 548.5,47.31 548.83,47.6 549.14,47.88 549.43,48.14 549.69,48.38 549.92,48.61 550.12,48.82 550.29,49.01 550.43,49.17 550.55,49.32 550.63,49.45 550.68,49.55 550.7,49.63 550.69,49.68 550.65,49.71 550.58,49.71 550.48,49.69 550.35,49.64 550.19,49.56 550,49.46 549.78,49.33 549.53,49.17 549.26,48.99 548.96,48.78 548.63,48.54 548.29,48.28 547.92,48 547.52,47.69 547.11,47.35 546.68,47 546.24,46.62 545.78,46.22 545.31,45.8 544.82,45.36 544.33,44.9 543.82,44.43 543.32,43.94 542.8,43.43 542.29,42.92 541.77,42.39 541.26,41.86 540.75,41.31 540.25,40.76 539.75,40.21 539.26,39.65 538.79,39.09 538.33,38.53 537.88,37.97 537.45,37.41 537.04,36.86 536.64,36.32 536.27,35.79 535.93,35.26 535.6,34.75 535.31,34.25 535.04,33.77 534.8,33.3 534.59,32.85 534.41,32.42 534.26,32.01 534.15,31.62 534.06,31.25 534.02,30.91 534,30.59 534.02,30.3 534.08,30.04 534.17,29.8 534.29,29.59 534.45,29.41 534.64,29.26 534.87,29.14 535.13,29.05 535.42,28.98 535.75,28.95 536.1,28.95 536.49,28.98 536.91,29.04 537.35,29.12 537.82,29.24 538.32,29.38 538.84,29.55 539.38,29.75 539.94,29.97 540.53,30.22 541.13,30.49 541.74,30.79 542.37,31.11 543,31.44 543.65,31.8 544.31,32.17 544.97,32.56 545.63,32.97 546.29,33.38 546.95,33.81 547.61,34.25 548.26,34.69 548.91,35.14 549.54,35.59 550.16,36.05 550.77,36.51 551.36,36.96 551.94,37.41 552.49,37.86 553.02,38.3 553.53,38.72 554.01,39.14 554.46,39.55 554.89,39.94 555.28,40.31 555.64,40.67 555.97,41.01 556.27,41.32 556.53,41.62 556.76,41.89 556.95,42.13 557.1,42.35 557.21,42.55 557.29,42.71 557.32,42.84 557.32,42.95 557.28,43.02 557.2,43.06 557.09,43.07 556.93,43.04 556.74,42.98 556.51,42.89 556.25,42.77 555.95,42.61 555.61,42.42 555.25,42.2 554.85,41.94 554.42,41.65 553.97,41.34 553.49,40.99 552.98,40.61 552.45,40.2 551.9,39.76 551.32,39.3 550.74,38.81 550.13,38.3 549.52,37.76 548.89,37.2 548.25,36.63 547.61,36.03 546.97,35.42 546.32,34.8 545.68,34.16 545.03,33.51 544.4,32.85 543.77,32.19 543.15,31.52 542.55,30.85 541.96,30.18 541.39,29.51 540.84,28.84 540.31,28.18 539.8,27.52 539.32,26.88 538.87,26.25 538.45,25.63 538.06,25.02 537.7,24.44 537.37,23.87 537.09,23.32 536.84,22.8 536.62,22.3 536.45,21.82 536.32,21.38 536.23,20.96 536.18,20.57 536.17,20.22 536.2,19.89 536.28,19.6 536.4,19.34" fill="none" stroke="#d82830" stroke-width="1.4" stroke-linejoin="round" stroke-linecap="round" />
<path d="M536.4,19.34 C538.4,16.84 542.4,16.84 545.4,18.34" fill="none" stroke="#d82830" stroke-width="1.4"/>
<path d="M549.9,20.34 l-5.4,-3.6 l-0.4,5.4 z" fill="#d82830"/>
<text x="556.6" y="20.2" font-family="Liberation Serif" font-size="14.5" font-weight="normal" fill="#e02828" text-anchor="start" font-style="italic">σ</text>
<rect x="564.6" y="15.6" width="7.2" height="1.3" fill="#e02828"/>
<text x="570" y="52" font-family="Liberation Sans" font-size="13.9" font-weight="normal" fill="#e52222" text-anchor="start" >PL</text>
<text x="621.2" y="92" font-family="Liberation Sans" font-size="13.5" font-weight="normal" fill="#1a1a1a" text-anchor="start" >Thin</text>
<text x="630.3" y="112.5" font-family="Liberation Sans" font-size="13.3" font-weight="normal" fill="#1a1a1a" text-anchor="start" >PbI<tspan font-size="10" dy="3.2">2</tspan></text>
<text x="630.6" y="152.7" font-family="Liberation Sans" font-size="13.8" font-weight="normal" fill="#1a1a1a" text-anchor="start" >WS<tspan font-size="10" dy="3.2">2</tspan></text>
<path d="M19.4,195.3 C18.3,193.5 15.6,193 13.7,194.6 C11.6,196.5 11.1,200.4 12.3,202.5 C13.6,204.7 17.6,204.8 19.7,202.4" fill="none" stroke="#000" stroke-width="1.65" stroke-linecap="round" stroke-linejoin="round"/>
<text transform="translate(26.6,315) rotate(-90)" font-family="Liberation Serif" font-size="12" fill="#111" textLength="84" lengthAdjust="spacingAndGlyphs">Den sity of States</text>
<polyline points="30,216.77 39.93,216.77 43.65,216.27 45.39,215.78 47.37,214.78 49.86,213.79 52.34,212.8 53.58,209.82 55.32,207.83 56.81,202.37 58.54,193.69 59.78,197.41 61.03,204.86 62.27,202.37 63.51,198.65 64.75,200.39 65.99,204.36 67.23,206.1 68.97,207.34 70.95,203.62 72.69,204.36 74.68,199.89 75.92,196.91 77.16,194.93 78.4,200.39 79.64,204.86 81.38,207.34 83.36,208.58 85.6,203.62 87.58,201.13 89.07,204.86 90.81,208.58 92.55,207.83 94.53,206.1 96.52,207.83 99.5,208.58 101.98,207.34 104.46,207.34 106.94,208.83 109.42,209.82 111.41,212.8 113.15,216.77 114.88,214.29 116.87,211.06 118.86,209.32 120.59,209.08 122.33,210.32 124.32,212.3 126.3,214.78 128.04,216.77 134.24,216.77 144.17,216.52 154.1,216.27 164.03,215.78 167.01,213.79 168.99,212.8 170.98,214.78 172.72,214.78 174.45,212.8 176.44,212.8 178.92,214.29 181.4,214.29 183.39,212.8 185.13,212.8 186.86,214.29 188.85,213.54 190.83,213.79 192.57,214.78" fill="none" stroke="#e9b08c" stroke-width="0.9" stroke-linejoin="round" stroke-linecap="round" />
<polyline points="30,216.77 44.89,216.77 59.78,216.77 61.77,219.75 63.51,224.71 64.75,229.18 65.99,230.92 67.73,225.95 69.71,223.47 71.45,225.21 73.44,225.95 75.17,230.92 77.16,233.4 78.4,227.19 79.64,220.99 80.88,222.73 82.12,225.95 83.11,232.16 84.11,237.12 85.35,233.4 86.59,228.44 88.08,224.71 89.57,222.23 91.55,219.25 93.29,216.77 104.46,216.77 128.04,216.77 129.78,219.25 131.76,222.23 133.75,224.71 135.49,225.95 137.22,229.68 139.21,234.64 141.69,238.36 144.17,239.6 146.16,234.64 147.9,228.44 149.14,224.71 150.38,222.23 151.62,229.18 152.86,237.12 154.1,232.16 155.34,225.95 156.58,222.73 157.82,220.99 159.56,219.25 161.55,217.27 165.27,217.27 168.99,217.27 173.96,217.76 178.92,218.51 183.88,219 186.37,219.75 188.85,219.75 190.83,218.76 192.57,217.27" fill="none" stroke="#5eead0" stroke-width="1" stroke-linejoin="round" stroke-linecap="round" />
<polyline points="34.6,266.56 35.65,267.05 36.71,266.21 37.76,266.82 38.82,267.45 39.87,268.71 40.93,267.73 41.98,266.91 43.04,267.11 44.09,267.44 45.15,269.13 46.2,270.53 47.26,271.06 48.31,269.66 49.37,266.36 50.42,264.1 51.48,264.32 52.53,264.84 53.59,263.98 54.64,264.35 55.7,264.13 56.75,264.05 57.81,262.01 58.86,261.27 59.92,261.76 60.97,262.07 62.02,262.31 63.08,261.92 64.13,262.87 65.19,261.73 66.24,260.7 67.3,260.01 68.35,260.79 69.41,261.26 70.46,260.37 71.52,260.62 72.57,260.09 73.63,259.75 74.68,258.08 75.74,258.44 76.79,259.45 77.85,259.67 78.9,259.47 79.96,258.79 81.01,259.2 82.07,257.66 83.12,257.04 84.18,257 85.23,258.06 86.29,258.02 87.34,256.93 88.39,257.18 89.45,256.77 90.5,256.84 91.56,256.09 92.61,257.49 93.67,258.5 94.72,258.29 95.78,257.68 96.83,257.23 97.89,258 98.94,257.14 100,257.63 101.05,258.3 102.11,259.49 103.16,259.12 104.22,258.42 105.27,259.37 106.33,259.76 107.38,260.55 108.44,260.45 109.49,261.97 110.55,263.81 111.6,266.33 112.66,269.18 113.71,270.88 114.76,271.03 115.82,270.94 116.87,268.67 117.93,258.99 118.98,258.82 120.04,257.16 121.09,256.05 122.15,256.8 123.2,257 124.26,257.45 125.31,257.07 126.37,258.12 127.42,257.45 128.48,256.48 129.53,256.33 130.59,257.19 131.64,258.33 132.7,257.65 133.75,258.27 134.81,258.12 135.86,258 136.92,256.81 137.97,257.05 139.03,258.48 140.08,258.58 141.13,258.59 142.19,257.92 143.24,258.66 144.3,257.74 145.35,257.42 146.41,258.1 147.46,259.38 148.52,260.05 149.57,258.99 150.63,259.46 151.68,259.2 152.74,259.31 153.79,258.76 154.85,259.84 155.9,261.12 156.96,260.6 158.01,260.07 159.07,259.39 160.12,260.26 161.18,259.62 162.23,260.07 163.29,261.08 164.34,261.97 165.4,261.64 166.45,260.19 167.5,260.7 168.56,260.54 169.61,260.89 170.67,260.62 171.72,261.76 172.78,262.15 173.83,260.92 174.89,260.33 175.94,260.12 177,261.26 178.05,260.68 179.11,261.25 180.16,262.1 181.22,264.66 182.27,267.29 183.33,269.91 184.38,270.97 185.44,271 186.49,271.06 187.55,271.01 188.6,271.13 189.66,271.06 190.71,270.87 191.77,270.86 192.82,270.95" fill="none" stroke="#e9b08c" stroke-width="0.9" stroke-linejoin="round" stroke-linecap="round" />
<polyline points="34.6,273.98 35.65,273.52 36.71,273.7 37.76,274.82 38.82,274 39.87,274.33 40.93,274.24 41.98,273.97 43.04,272.76 44.09,272.13 45.15,272.35 46.2,271.33 47.26,271.24 48.31,272.72 49.37,275.6 50.42,275.89 51.48,274.99 52.53,275.47 53.59,276.57 54.64,277.84 55.7,277.05 56.75,277.6 57.81,277.57 58.86,277.56 59.92,276.94 60.97,277.41 62.02,279.03 63.08,278.87 64.13,278.78 65.19,278.19 66.24,279.14 67.3,278.84 68.35,279.05 69.41,280.42 70.46,281.71 71.52,282.34 72.57,281.19 73.63,281.86 74.68,281.99 75.74,282.4 76.79,282.32 77.85,283.31 78.9,284.34 79.96,283.26 81.01,282.65 82.07,282.06 83.12,283.06 84.18,282.61 85.23,282.89 86.29,283.72 87.34,283.92 88.39,283.27 89.45,281.71 90.5,282.49 91.56,282.56 92.61,282.87 93.67,282.55 94.72,283.15 95.78,283.18 96.83,281.57 97.89,281.22 98.94,281.3 100,282.61 101.05,282.05 102.11,282.12 103.16,282.04 104.22,281.15 105.27,279.72 106.33,278.41 107.38,279.53 108.44,279.48 109.49,279.58 110.55,277.62 111.6,275.21 112.66,272.12 113.71,270.83 114.76,270.53 115.82,270.05 116.87,270.29 117.93,269.82 118.98,270.67 120.04,271.14 121.09,275.56 122.15,280.67 123.2,281.27 124.26,283.06 125.31,282.77 126.37,282.49 127.42,281.74 128.48,282.23 129.53,281.93 130.59,281.49 131.64,282.69 132.7,283.42 133.75,283.85 134.81,282.32 135.86,282.52 136.92,282.59 137.97,282.57 139.03,282.59 140.08,283.16 141.13,284.41 142.19,283.19 143.24,282.49 144.3,281.82 145.35,282.54 146.41,282.21 147.46,282 148.52,282.87 149.57,282.69 150.63,282.07 151.68,280.29 152.74,280.89 153.79,281.12 154.85,281.25 155.9,281.21 156.96,281.58 158.01,282.01 159.07,280.36 160.12,280.13 161.18,280.27 162.23,281.53 163.29,281.24 164.34,281.2 165.4,281.76 166.45,281.18 167.5,280.49 168.56,279.46 169.61,280.85 170.67,281.04 171.72,280.84 172.78,280.25 173.83,280.09 174.89,279.78 175.94,278.14 177,278.56 178.05,279.12 179.11,280.15 180.16,278.99 181.22,276.7 182.27,273.96 183.33,271.35 184.38,270.89 185.44,270.88 186.49,271.15 187.55,271.12 188.6,271.04 189.66,270.95 190.71,270.97 191.77,270.96 192.82,270.85" fill="none" stroke="#5eead0" stroke-width="1" stroke-linejoin="round" stroke-linecap="round" />
<polyline points="34.6,323.66 35.65,323.6 36.71,323.7 37.76,323.63 38.82,323.85 39.87,323.56 40.93,323.4 41.98,323.68 43.04,323.92 44.09,324.03 45.15,323.48 46.2,323.29 47.26,322.56 48.31,321.7 49.37,320.89 50.42,320.99 51.48,321.52 52.53,321.01 53.59,320.5 54.64,319.34 55.7,318.44 56.75,316.58 57.81,315.39 58.86,315.03 59.92,314.6 60.97,314.2 62.02,313.24 63.08,313.04 64.13,311.94 65.19,310.82 66.24,309.61 67.3,308.95 68.35,308.03 69.41,306.16 70.46,305.18 71.52,304.53 72.57,304.84 73.63,304.81 74.68,305.97 75.74,307.66 76.79,308.93 77.85,309.98 78.9,310.9 79.96,312.9 81.01,313.86 82.07,314.68 83.12,314.92 84.18,315.54 85.23,315.68 86.29,315.11 87.34,315.37 88.39,315.61 89.45,316.31 90.5,316.17 91.56,316.81 92.61,317.28 93.67,317.18 94.72,317.08 95.78,317.3 96.83,318.55 97.89,318.69 98.94,318.96 100,318.91 101.05,319.12 102.11,318.85 103.16,318.62 104.22,319.71 105.27,320.73 106.33,321.81 107.38,321.95 108.44,322.88 109.49,323.44 110.55,323.83 111.6,324.29 112.66,324.67 113.71,324.91 114.76,324.59 115.82,323.91 116.87,323.04 117.93,322.8 118.98,322.47 120.04,322.33 121.09,322.96 122.15,323.04 123.2,322.89 124.26,322 125.31,322.14 126.37,321.91 127.42,321.66 128.48,321.75 129.53,322.16 130.59,322.6 131.64,321.71 132.7,321.51 133.75,321.32 134.81,321.59 135.86,321.26 136.92,321.3 137.97,321.8 139.03,321.37 140.08,320.77 141.13,319.9 142.19,320.34 143.24,320.2 144.3,320.11 145.35,320.18 146.41,320.35 147.46,320.26 148.52,319.22 149.57,319.36 150.63,319.53 151.68,320 152.74,319.66 153.79,319.71 154.85,319.88 155.9,319.15 156.96,318.61 158.01,318.2 159.07,318.96 160.12,318.74 161.18,318.52 162.23,318.32 163.29,318.17 164.34,317.73 165.4,316.86 166.45,317.37 167.5,317.65 168.56,317.93 169.61,317.35 170.67,317.38 171.72,317.66 172.78,317.89 173.83,318.76 174.89,319.53 175.94,320.82 177,321.83 178.05,323.4 179.11,324.6 180.16,324.79 181.22,324.76 182.27,324.72 183.33,324.85 184.38,324.88 185.44,324.87 186.49,324.75 187.55,324.77 188.6,324.78 189.66,324.74 190.71,324.79 191.77,324.84 192.82,324.92" fill="none" stroke="#e9b08c" stroke-width="0.9" stroke-linejoin="round" stroke-linecap="round" />
<polyline points="34.6,327.89 35.65,327.67 36.71,327.19 37.76,327.41 38.82,327.08 39.87,327.01 40.93,326.74 41.98,327.66 43.04,327.89 44.09,327.52 45.15,327.16 46.2,327.04 47.26,327.3 48.31,326.76 49.37,327.25 50.42,327.65 51.48,327.98 52.53,327.32 53.59,326.96 54.64,327.48 55.7,327.62 56.75,328.15 57.81,328.53 58.86,329.79 59.92,329.93 60.97,329.72 62.02,329.79 63.08,330.26 64.13,330.86 65.19,330.56 66.24,331.17 67.3,331.33 68.35,331.36 69.41,330.68 70.46,330.8 71.52,331.65 72.57,331.91 73.63,332.38 74.68,332.55 75.74,333.32 76.79,332.88 77.85,332.65 78.9,332.97 79.96,333.67 81.01,334.13 82.07,333.76 83.12,334.19 84.18,333.87 85.23,333.47 86.29,332.62 87.34,332.77 88.39,333.13 89.45,332.61 90.5,332.2 91.56,331.56 92.61,331.53 93.67,330.55 94.72,330.36 95.78,330.76 96.83,331.29 97.89,331.1 98.94,330.2 100,330.13 101.05,329.35 102.11,328.8 103.16,328.07 104.22,328.37 105.27,328.35 106.33,327.45 107.38,326.93 108.44,326.57 109.49,326.81 110.55,326.09 111.6,325.69 112.66,325.17 113.71,324.89 114.76,325 115.82,325.28 116.87,326.18 117.93,326.9 118.98,327.99 120.04,328.8 121.09,330.11 122.15,330.28 123.2,329.66 124.26,330.14 125.31,331.31 126.37,333.22 127.42,334.34 128.48,336.24 129.53,337.52 130.59,337.96 131.64,337.43 132.7,337.65 133.75,339.37 134.81,340.57 135.86,342.03 136.92,342.89 137.97,343.8 139.03,343.21 140.08,342.18 141.13,341.82 142.19,341.57 143.24,341.52 144.3,340.78 145.35,340.97 146.41,340.17 147.46,338.82 148.52,337.09 149.57,336.05 150.63,335.74 151.68,334.61 152.74,334.12 153.79,333.74 154.85,333.95 155.9,333.29 156.96,333.01 158.01,333.53 159.07,333.84 160.12,333.82 161.18,332.95 162.23,333.12 163.29,332.75 164.34,332.53 165.4,332.38 166.45,332.96 167.5,333.54 168.56,332.84 169.61,332.53 170.67,332.1 171.72,332.3 172.78,331.72 173.83,331.82 174.89,332.36 175.94,332.38 177,332 178.05,329.79 179.11,327.12 180.16,324.92 181.22,324.78 182.27,324.8 183.33,324.88 184.38,324.89 185.44,324.75 186.49,324.74 187.55,324.74 188.6,324.83 189.66,324.78 190.71,324.83 191.77,324.88 192.82,324.83" fill="none" stroke="#5eead0" stroke-width="1" stroke-linejoin="round" stroke-linecap="round" />
<line x1="113.7" y1="190" x2="113.7" y2="352" stroke="#333" stroke-width="0.6" stroke-dasharray="3 1 1 1"/>
<line x1="34.6" y1="190" x2="192.8" y2="190" stroke="#666" stroke-width="1.2"/>
<line x1="34.6" y1="243.4" x2="192.8" y2="243.4" stroke="#555" stroke-width="1.5"/>
<line x1="34.6" y1="298.2" x2="192.8" y2="298.2" stroke="#555" stroke-width="1.5"/>
<line x1="34.6" y1="352.4" x2="192.8" y2="352.4" stroke="#111" stroke-width="1.3"/>
<line x1="34.6" y1="189.4" x2="34.6" y2="353" stroke="#111" stroke-width="1.2"/>
<line x1="192.8" y1="189.4" x2="192.8" y2="353" stroke="#222" stroke-width="1.2"/>
<path d="M34,190 h-1.6 M34,196.2 h-1.6 M34,202.4 h-1.6 M34,208.6 h-1.6 M34,214.8 h-1.6 M34,221 h-1.6 M34,227.2 h-1.6 M34,233.4 h-1.6 M34,239.6 h-1.6 M34,245.8 h-1.6 M34,252 h-1.6 M34,258.2 h-1.6 M34,264.4 h-1.6 M34,270.6 h-1.6 M34,276.8 h-1.6 M34,283 h-1.6 M34,289.2 h-1.6 M34,295.4 h-1.6 M34,301.6 h-1.6 M34,307.8 h-1.6 M34,314 h-1.6 M34,320.2 h-1.6 M34,326.4 h-1.6 M34,332.6 h-1.6 M34,338.8 h-1.6 M34,345 h-1.6 M34,351.2 h-1.6" stroke="#222" stroke-width="0.8"/>
<path d="M34.6,352 v-2.5 M47.78,352 v-1.6 M60.97,352 v-2.5 M74.16,352 v-1.6 M87.34,352 v-2.5 M100.53,352 v-1.6 M113.71,352 v-2.5 M126.89,352 v-1.6 M140.08,352 v-2.5 M153.26,352 v-1.6 M166.45,352 v-2.5 M179.63,352 v-1.6 M192.82,352 v-2.5" stroke="#222" stroke-width="0.8"/>
<text x="34.3" y="362.6" font-family="Liberation Sans" font-size="10" font-weight="bold" fill="#111" text-anchor="middle" >-9</text>
<text x="60.67" y="362.6" font-family="Liberation Sans" font-size="10" font-weight="bold" fill="#111" text-anchor="middle" >-6</text>
<text x="87.04" y="362.6" font-family="Liberation Sans" font-size="10" font-weight="bold" fill="#111" text-anchor="middle" >-3</text>
<text x="113.71" y="362.6" font-family="Liberation Sans" font-size="10" font-weight="bold" fill="#111" text-anchor="middle" >0</text>
<text x="140.08" y="362.6" font-family="Liberation Sans" font-size="10" font-weight="bold" fill="#111" text-anchor="middle" >3</text>
<text x="166.45" y="362.6" font-family="Liberation Sans" font-size="10" font-weight="bold" fill="#111" text-anchor="middle" >6</text>
<text x="192.82" y="362.6" font-family="Liberation Sans" font-size="10" font-weight="bold" fill="#111" text-anchor="middle" >9</text>
<text x="85.4" y="374.2" font-family="Liberation Sans" font-size="10.8" font-weight="bold" fill="#111" text-anchor="start" textLength="61" lengthAdjust="spacingAndGlyphs">Energy (eV)</text>
<text x="157.8" y="201.2" font-family="Liberation Sans" font-size="9" font-weight="bold" fill="#111" text-anchor="start" textLength="28.5" lengthAdjust="spacing">Mn<tspan font-size="6.5" dy="2">3</tspan><tspan dy="-2">O</tspan><tspan font-size="6.5" dy="2">4</tspan></text>
<text x="162.3" y="255.1" font-family="Liberation Sans" font-size="9" font-weight="bold" fill="#111" text-anchor="start" textLength="22.6" lengthAdjust="spacing">MnP<tspan font-size="6.5" dy="2">4</tspan></text>
<text x="135" y="308.8" font-family="Liberation Sans" font-size="9" font-weight="bold" fill="#111" text-anchor="start" textLength="55" lengthAdjust="spacing">Mn<tspan font-size="6.5" dy="2">3</tspan><tspan dy="-2">O</tspan><tspan font-size="6.5" dy="2">4</tspan><tspan dy="-2">-MnP</tspan><tspan font-size="6.5" dy="2">4</tspan></text>
<path d="M259.2,190.2 L259.3,205.6 M259.2,198.5 C258.2,196.2 256.5,195.3 254.8,195.3 C252.2,195.3 250.2,197.6 250.2,200.6 C250.2,203.6 252.2,205.8 254.8,205.8 C256.6,205.8 258.3,204.8 259.2,202.6" fill="none" stroke="#000" stroke-width="1.65" stroke-linecap="round" stroke-linejoin="round"/>
<text transform="translate(257.8,293.6) rotate(-90)" font-family="Liberation Sans" font-size="11.8" font-weight="bold" fill="#111" textLength="54" lengthAdjust="spacing">E-E<tspan font-size="9.5" dy="3">f</tspan><tspan dy="-3"> (eV)</tspan></text>
<text x="272" y="205.8" font-family="Liberation Sans" font-size="9.6" font-weight="bold" fill="#111" text-anchor="end" >3</text>
<text x="272" y="230" font-family="Liberation Sans" font-size="9.6" font-weight="bold" fill="#111" text-anchor="end" >2</text>
<text x="272" y="254.2" font-family="Liberation Sans" font-size="9.6" font-weight="bold" fill="#111" text-anchor="end" >1</text>
<text x="272" y="278.4" font-family="Liberation Sans" font-size="9.6" font-weight="bold" fill="#111" text-anchor="end" >0</text>
<text x="272" y="302.6" font-family="Liberation Sans" font-size="9.6" font-weight="bold" fill="#111" text-anchor="end" >-1</text>
<text x="272" y="326.8" font-family="Liberation Sans" font-size="9.6" font-weight="bold" fill="#111" text-anchor="end" >-2</text>
<text x="272" y="351" font-family="Liberation Sans" font-size="9.6" font-weight="bold" fill="#111" text-anchor="end" >-3</text>
<g clip-path="url(#cpd)">
<line x1="290" y1="202" x2="290" y2="348" stroke="#555" stroke-width="0.9"/>
<line x1="326.7" y1="202" x2="326.7" y2="348" stroke="#888" stroke-width="0.9"/>
<line x1="343.6" y1="202" x2="343.6" y2="348" stroke="#ccc" stroke-width="0.9"/>
<line x1="380.8" y1="202" x2="380.8" y2="348" stroke="#999" stroke-width="0.9"/>
<line x1="415" y1="202" x2="415" y2="348" stroke="#333" stroke-width="0.9"/>
<line x1="430.5" y1="202" x2="430.5" y2="348" stroke="#999" stroke-width="0.9"/>
<line x1="275.5" y1="275" x2="449.6" y2="275" stroke="#f04040" stroke-width="0.7" stroke-dasharray="1.2 1.8"/>
<path d="M294,200 C294.42,202.17 295.5,209.17 296.5,213 C297.5,216.83 298.75,219.83 300,223 C301.25,226.17 302.73,229.17 304,232 C305.27,234.83 306.43,237.5 307.6,240 C308.77,242.5 309.93,244.67 311,247 C312.07,249.33 313,251.5 314,254 C315,256.5 316,259.33 317,262 C318,264.67 318.83,266.67 320,270 C321.17,273.33 323.33,280 324,282" fill="none" stroke="#30ee30" stroke-width="1.5"/>
<path d="M298.5,200 C298.92,201.5 300.17,206 301,209 C301.83,212 302.58,215 303.5,218 C304.42,221 305.58,224.33 306.5,227 C307.42,229.67 308.17,231.67 309,234 C309.83,236.33 310.75,238.67 311.5,241 C312.25,243.33 312.75,245.5 313.5,248 C314.25,250.5 315.08,253.17 316,256 C316.92,258.83 317.83,261.5 319,265 C320.17,268.5 322.33,275 323,277" fill="none" stroke="#f028f0" stroke-width="1.6"/>
<path d="M293,200 C293.38,201.67 294.47,206.5 295.3,210 C296.13,213.5 297.05,217.5 298,221 C298.95,224.5 300.07,228.17 301,231 C301.93,233.83 302.72,235.67 303.6,238 C304.48,240.33 305.4,242.67 306.3,245 C307.2,247.33 308.05,249.83 309,252 C309.95,254.17 311.5,257 312,258" fill="none" stroke="#30ee30" stroke-width="1.5"/>
<path d="M292.5,243 C293.1,244.17 294.85,247.83 296.1,250 C297.35,252.17 298.75,253.83 300,256 C301.25,258.17 302.55,260.67 303.6,263 C304.65,265.33 305.48,267.67 306.3,270 C307.12,272.33 308.13,275.83 308.5,277" fill="none" stroke="#30ee30" stroke-width="1.5"/>
<path d="M295,241 C295.58,242 297.33,244.83 298.5,247 C299.67,249.17 300.85,251.67 302,254 C303.15,256.33 304.4,258.67 305.4,261 C306.4,263.33 307.57,266.83 308,268" fill="none" stroke="#f028f0" stroke-width="1.6"/>
<path d="M294.2,200 C294.75,202.02 296.38,208.52 297.5,212.1 C298.62,215.68 299.77,219.37 300.9,221.5 C302.03,223.63 302.95,224.57 304.3,224.9 C305.65,225.23 307.32,224.52 309,223.5 C310.68,222.48 312.62,221.03 314.4,218.8 C316.18,216.57 318.37,212 319.7,210.1 C321.03,208.2 321.5,207.63 322.4,207.4 C323.3,207.17 324.32,207.92 325.1,208.7 C325.88,209.48 326.2,210.8 327.1,212.1 C328,213.4 329.02,214.7 330.5,216.5 C331.98,218.3 334.4,220.5 336,222.9 C337.6,225.3 338.75,228.77 340.1,230.9 C341.45,233.03 342.53,234.35 344.1,235.7 C345.67,237.05 347.7,238.57 349.5,239 C351.3,239.43 353.1,239.2 354.9,238.3 C356.7,237.4 358.52,235.72 360.3,233.6 C362.08,231.48 364.03,228.52 365.6,225.6 C367.17,222.68 368.35,219.02 369.7,216.1 C371.05,213.18 372.37,210.38 373.7,208.1 C375.03,205.82 377.03,203.35 377.7,202.4" fill="none" stroke="#1414f0" stroke-width="3.2"/>
<path d="M294.2,200 C294.75,202.02 296.38,208.52 297.5,212.1 C298.62,215.68 299.77,219.37 300.9,221.5 C302.03,223.63 302.95,224.57 304.3,224.9 C305.65,225.23 307.32,224.52 309,223.5 C310.68,222.48 312.62,221.03 314.4,218.8 C316.18,216.57 318.37,212 319.7,210.1 C321.03,208.2 321.5,207.63 322.4,207.4 C323.3,207.17 324.32,207.92 325.1,208.7 C325.88,209.48 326.2,210.8 327.1,212.1 C328,213.4 329.02,214.7 330.5,216.5 C331.98,218.3 334.4,220.5 336,222.9 C337.6,225.3 338.75,228.77 340.1,230.9 C341.45,233.03 342.53,234.35 344.1,235.7 C345.67,237.05 347.7,238.57 349.5,239 C351.3,239.43 353.1,239.2 354.9,238.3 C356.7,237.4 358.52,235.72 360.3,233.6 C362.08,231.48 364.03,228.52 365.6,225.6 C367.17,222.68 368.35,219.02 369.7,216.1 C371.05,213.18 372.37,210.38 373.7,208.1 C375.03,205.82 377.03,203.35 377.7,202.4" fill="none" stroke="#f020f0" stroke-width="1.6" stroke-dasharray="1.2 2.6"/>
<path d="M296.2,200 C296.65,202.25 297.88,209.47 298.9,213.5 C299.92,217.53 301.07,221.18 302.3,224.2 C303.53,227.22 304.73,230.48 306.3,231.6 C307.87,232.72 309.92,232.13 311.7,230.9 C313.48,229.67 315.22,226.55 317,224.2 C318.78,221.85 321.05,218.03 322.4,216.8 C323.75,215.57 324.2,216.02 325.1,216.8 C326,217.58 326.65,219.88 327.8,221.5 C328.95,223.12 330.63,224.48 332,226.5 C333.37,228.52 334.65,231.07 336,233.6 C337.35,236.13 338.75,239.68 340.1,241.7 C341.45,243.72 342.98,245.48 344.1,245.7 C345.22,245.92 345.9,245.02 346.8,243 C347.7,240.98 348.38,236.95 349.5,233.6 C350.62,230.25 352.15,226.03 353.5,222.9 C354.85,219.77 356.25,216.93 357.6,214.8 C358.95,212.67 360.03,210.55 361.6,210.1 C363.17,209.65 365.43,211.98 367,212.1 C368.57,212.22 369.67,211.92 371,210.8 C372.33,209.68 373.65,206.87 375,205.4 C376.35,203.93 378.42,202.57 379.1,202" fill="none" stroke="#808080" stroke-width="2.6"/>
<path d="M296.2,200 C296.65,202.25 297.88,209.47 298.9,213.5 C299.92,217.53 301.07,221.18 302.3,224.2 C303.53,227.22 304.73,230.48 306.3,231.6 C307.87,232.72 309.92,232.13 311.7,230.9 C313.48,229.67 315.22,226.55 317,224.2 C318.78,221.85 321.05,218.03 322.4,216.8 C323.75,215.57 324.2,216.02 325.1,216.8 C326,217.58 326.65,219.88 327.8,221.5 C328.95,223.12 330.63,224.48 332,226.5 C333.37,228.52 334.65,231.07 336,233.6 C337.35,236.13 338.75,239.68 340.1,241.7 C341.45,243.72 342.98,245.48 344.1,245.7 C345.22,245.92 345.9,245.02 346.8,243 C347.7,240.98 348.38,236.95 349.5,233.6 C350.62,230.25 352.15,226.03 353.5,222.9 C354.85,219.77 356.25,216.93 357.6,214.8 C358.95,212.67 360.03,210.55 361.6,210.1 C363.17,209.65 365.43,211.98 367,212.1 C368.57,212.22 369.67,211.92 371,210.8 C372.33,209.68 373.65,206.87 375,205.4 C376.35,203.93 378.42,202.57 379.1,202" fill="none" stroke="#30e030" stroke-width="1.5" stroke-dasharray="1.2 2.2"/>
<path d="M298.2,200 C298.65,202.25 299.88,209.23 300.9,213.5 C301.92,217.77 302.95,222.25 304.3,225.6 C305.65,228.95 307.32,231.92 309,233.6 C310.68,235.28 312.62,235.8 314.4,235.7 C316.18,235.6 318.13,234.58 319.7,233 C321.27,231.42 322.78,228.33 323.8,226.2 C324.82,224.07 325.13,222.07 325.8,220.2 C326.47,218.33 327.1,216.53 327.8,215 C328.5,213.47 329.63,211.67 330,211" fill="none" stroke="#1a1af0" stroke-width="2.6"/>
<path d="M298.2,200 C298.65,202.25 299.88,209.23 300.9,213.5 C301.92,217.77 302.95,222.25 304.3,225.6 C305.65,228.95 307.32,231.92 309,233.6 C310.68,235.28 312.62,235.8 314.4,235.7 C316.18,235.6 318.13,234.58 319.7,233 C321.27,231.42 322.78,228.33 323.8,226.2 C324.82,224.07 325.13,222.07 325.8,220.2 C326.47,218.33 327.1,216.53 327.8,215 C328.5,213.47 329.63,211.67 330,211" fill="none" stroke="#f020f0" stroke-width="1.6" stroke-dasharray="1.2 2.2"/>
<path d="M303.6,232.3 C304.17,233.58 305.65,237.98 307,240 C308.35,242.02 309.8,244.33 311.7,244.4 C313.6,244.47 316.38,243.32 318.4,240.4 C320.42,237.48 322.45,230.27 323.8,226.9 C325.15,223.53 325.47,222.35 326.5,220.2 C327.53,218.05 329.42,215.03 330,214" fill="none" stroke="#808080" stroke-width="2.6"/>
<path d="M303.6,232.3 C304.17,233.58 305.65,237.98 307,240 C308.35,242.02 309.8,244.33 311.7,244.4 C313.6,244.47 316.38,243.32 318.4,240.4 C320.42,237.48 322.45,230.27 323.8,226.9 C325.15,223.53 325.47,222.35 326.5,220.2 C327.53,218.05 329.42,215.03 330,214" fill="none" stroke="#30e030" stroke-width="1.5" stroke-dasharray="1.2 2.2"/>
<path d="M344.8,233 C345.58,231.32 348.05,226.15 349.5,222.9 C350.95,219.65 352.27,216.42 353.5,213.5 C354.73,210.58 355.77,207.15 356.9,205.4 C358.03,203.65 358.85,203 360.3,203 C361.75,203 364.03,204.45 365.6,205.4 C367.17,206.35 368.57,208.48 369.7,208.7 C370.83,208.92 371.28,207.7 372.4,206.7 C373.52,205.7 375.73,203.37 376.4,202.7" fill="none" stroke="#1a1af0" stroke-width="2.6"/>
<path d="M344.8,233 C345.58,231.32 348.05,226.15 349.5,222.9 C350.95,219.65 352.27,216.42 353.5,213.5 C354.73,210.58 355.77,207.15 356.9,205.4 C358.03,203.65 358.85,203 360.3,203 C361.75,203 364.03,204.45 365.6,205.4 C367.17,206.35 368.57,208.48 369.7,208.7 C370.83,208.92 371.28,207.7 372.4,206.7 C373.52,205.7 375.73,203.37 376.4,202.7" fill="none" stroke="#f020f0" stroke-width="1.6" stroke-dasharray="1.2 2.2"/>
<path d="M358.9,244.4 C359.57,242.83 361.55,238.37 362.9,235 C364.25,231.63 365.65,227.57 367,224.2 C368.35,220.83 369.67,217.48 371,214.8 C372.33,212.12 373.65,210 375,208.1 C376.35,206.2 378.13,204.37 379.1,203.4 C380.07,202.43 379.9,201.52 380.8,202.3 C381.7,203.08 383.43,206.02 384.5,208.1 C385.57,210.18 386.32,212.57 387.2,214.8 C388.08,217.03 389,219.93 389.8,221.5 C390.6,223.07 391.3,223.75 392,224.2 C392.7,224.65 392.98,224.87 394,224.2 C395.02,223.53 396.75,220.77 398.1,220.2 C399.45,219.63 400.77,219.68 402.1,220.8 C403.43,221.92 404.75,224.77 406.1,226.9 C407.45,229.03 408.85,232.08 410.2,233.6 C411.55,235.12 412.87,236 414.2,236 C415.53,236 416.85,235.12 418.2,233.6 C419.55,232.08 420.95,229.58 422.3,226.9 C423.65,224.22 425.18,219.97 426.3,217.5 C427.42,215.03 428.33,213.45 429,212.1 C429.67,210.75 430.08,209.85 430.3,209.4" fill="none" stroke="#808080" stroke-width="2.6"/>
<path d="M358.9,244.4 C359.57,242.83 361.55,238.37 362.9,235 C364.25,231.63 365.65,227.57 367,224.2 C368.35,220.83 369.67,217.48 371,214.8 C372.33,212.12 373.65,210 375,208.1 C376.35,206.2 378.13,204.37 379.1,203.4 C380.07,202.43 379.9,201.52 380.8,202.3 C381.7,203.08 383.43,206.02 384.5,208.1 C385.57,210.18 386.32,212.57 387.2,214.8 C388.08,217.03 389,219.93 389.8,221.5 C390.6,223.07 391.3,223.75 392,224.2 C392.7,224.65 392.98,224.87 394,224.2 C395.02,223.53 396.75,220.77 398.1,220.2 C399.45,219.63 400.77,219.68 402.1,220.8 C403.43,221.92 404.75,224.77 406.1,226.9 C407.45,229.03 408.85,232.08 410.2,233.6 C411.55,235.12 412.87,236 414.2,236 C415.53,236 416.85,235.12 418.2,233.6 C419.55,232.08 420.95,229.58 422.3,226.9 C423.65,224.22 425.18,219.97 426.3,217.5 C427.42,215.03 428.33,213.45 429,212.1 C429.67,210.75 430.08,209.85 430.3,209.4" fill="none" stroke="#30e030" stroke-width="1.5" stroke-dasharray="1.2 2.2"/>
<path d="M380.8,202.3 C381.33,202.92 383.13,204.72 384,206 C384.87,207.28 385.25,208.67 386,210 C386.75,211.33 387.83,212.98 388.5,214 C389.17,215.02 389.08,215.52 390,216.1 C390.92,216.68 392.65,217.93 394,217.5 C395.35,217.07 396.75,214.4 398.1,213.5 C399.45,212.6 400.77,211.67 402.1,212.1 C403.43,212.53 404.75,214.3 406.1,216.1 C407.45,217.9 408.85,221.1 410.2,222.9 C411.55,224.7 412.87,226.68 414.2,226.9 C415.53,227.12 416.85,225.77 418.2,224.2 C419.55,222.63 420.95,220.18 422.3,217.5 C423.65,214.82 425.3,210.68 426.3,208.1 C427.3,205.52 427.97,203.02 428.3,202" fill="none" stroke="#1a1af0" stroke-width="2.6"/>
<path d="M380.8,202.3 C381.33,202.92 383.13,204.72 384,206 C384.87,207.28 385.25,208.67 386,210 C386.75,211.33 387.83,212.98 388.5,214 C389.17,215.02 389.08,215.52 390,216.1 C390.92,216.68 392.65,217.93 394,217.5 C395.35,217.07 396.75,214.4 398.1,213.5 C399.45,212.6 400.77,211.67 402.1,212.1 C403.43,212.53 404.75,214.3 406.1,216.1 C407.45,217.9 408.85,221.1 410.2,222.9 C411.55,224.7 412.87,226.68 414.2,226.9 C415.53,227.12 416.85,225.77 418.2,224.2 C419.55,222.63 420.95,220.18 422.3,217.5 C423.65,214.82 425.3,210.68 426.3,208.1 C427.3,205.52 427.97,203.02 428.3,202" fill="none" stroke="#f020f0" stroke-width="1.6" stroke-dasharray="1.2 2.2"/>
<path d="M380.8,202.3 C382,202.75 385.12,204.27 388,205 C390.88,205.73 395.08,206.3 398.1,206.7 C401.12,207.1 403.42,207.28 406.1,207.4 C408.78,207.52 411.5,207.28 414.2,207.4 C416.9,207.52 420.05,207.88 422.3,208.1 C424.55,208.32 425.8,208.6 427.7,208.7 C429.6,208.8 432.7,208.7 433.7,208.7" fill="none" stroke="#808080" stroke-width="2.6"/>
<path d="M380.8,202.3 C382,202.75 385.12,204.27 388,205 C390.88,205.73 395.08,206.3 398.1,206.7 C401.12,207.1 403.42,207.28 406.1,207.4 C408.78,207.52 411.5,207.28 414.2,207.4 C416.9,207.52 420.05,207.88 422.3,208.1 C424.55,208.32 425.8,208.6 427.7,208.7 C429.6,208.8 432.7,208.7 433.7,208.7" fill="none" stroke="#30e030" stroke-width="1.5" stroke-dasharray="1.2 2.2"/>
<path d="M415.6,202.7 C416.48,203.82 419.33,207.38 420.9,209.4 C422.47,211.42 423.43,213.23 425,214.8 C426.57,216.37 428.73,216.78 430.3,218.8 C431.87,220.82 433.05,225.1 434.4,226.9 C435.75,228.7 437.05,229.82 438.4,229.6 C439.75,229.38 441.15,227.4 442.5,225.6 C443.85,223.8 445.32,220.48 446.5,218.8 C447.68,217.12 449.08,216.05 449.6,215.5" fill="none" stroke="#1414f0" stroke-width="3.6" stroke-linecap="round"/>
<path d="M422.3,214.8 C423.2,215.47 426.13,217 427.7,218.8 C429.27,220.6 430.37,223.13 431.7,225.6 C433.03,228.07 434.35,231.82 435.7,233.6 C437.05,235.38 438.45,236.52 439.8,236.3 C441.15,236.08 442.47,234.32 443.8,232.3 C445.13,230.28 446.83,226.08 447.8,224.2 C448.77,222.32 449.3,221.53 449.6,221" fill="none" stroke="#808080" stroke-width="3.4" stroke-linecap="round"/>
<rect x="428" y="207" width="5.5" height="3.4" fill="#808080"/>
<path d="M275.5,236.3 C276.6,236.98 279.88,239.28 282.1,240.4 C284.32,241.52 286.78,242.67 288.8,243 C290.82,243.33 292.18,242.83 294.2,242.4 C296.22,241.97 298.88,240.97 300.9,240.4 C302.92,239.83 304.83,239.12 306.3,239 C307.77,238.88 309.13,239.58 309.7,239.7" fill="none" stroke="#808080" stroke-width="3.4" stroke-linecap="round"/>
<path d="M275.5,235.6 C276.6,236.23 279.88,238.33 282.1,239.4 C284.32,240.47 286.82,241.65 288.8,242 C290.78,242.35 293.13,241.58 294,241.5" fill="none" stroke="#30ee30" stroke-width="1.5"/>
<path d="M294.2,243 C295.32,242.57 298.88,241.07 300.9,240.4 C302.92,239.73 304.95,239 306.3,239 C307.65,239 307.88,239.5 309,240.4 C310.12,241.3 311.43,243.4 313,244.4 C314.57,245.4 316.6,245.73 318.4,246.4 C320.2,247.07 322.23,247.62 323.8,248.4 C325.37,249.18 326.1,250.42 327.8,251.1 C329.5,251.78 332.18,252.38 334,252.5 C335.82,252.62 336.78,251.58 338.7,251.8 C340.62,252.02 343.48,253.02 345.5,253.8 C347.52,254.58 349.47,255.38 350.8,256.5 C352.13,257.62 352.15,258.7 353.5,260.5 C354.85,262.3 357.55,265.28 358.9,267.3 C360.25,269.32 360.48,271.15 361.6,272.6 C362.72,274.05 364.37,274.93 365.6,276 C366.83,277.07 368.43,278.5 369,279" fill="none" stroke="#1414f0" stroke-width="3.6" stroke-linecap="round"/>
<path d="M340.1,248.4 C341,248.3 343.48,248.02 345.5,247.8 C347.52,247.58 349.97,247.22 352.2,247.1 C354.43,246.98 356.88,246.88 358.9,247.1 C360.92,247.32 362.5,247.62 364.3,248.4 C366.1,249.18 368.35,251.12 369.7,251.8 C371.05,252.48 371.95,252.38 372.4,252.5" fill="none" stroke="#1414f0" stroke-width="5" stroke-linecap="round"/>
<path d="M345.5,249.8 C346.62,250.02 350.18,251.1 352.2,251.1 C354.22,251.1 356.7,250.02 357.6,249.8" fill="none" stroke="#808080" stroke-width="3.4" stroke-linecap="round"/>
<path d="M365.6,247.1 C366.73,246.2 369.87,243.17 372.4,241.7 C374.93,240.23 378.12,238.3 380.8,238.3 C383.48,238.3 386.63,240.68 388.5,241.7 C390.37,242.72 390.92,243.52 392,244.4 C393.08,245.28 394.5,246.57 395,247" fill="none" stroke="#808080" stroke-width="2.6"/>
<path d="M365.6,247.1 C366.73,246.2 369.87,243.17 372.4,241.7 C374.93,240.23 378.12,238.3 380.8,238.3 C383.48,238.3 386.63,240.68 388.5,241.7 C390.37,242.72 390.92,243.52 392,244.4 C393.08,245.28 394.5,246.57 395,247" fill="none" stroke="#30e030" stroke-width="1.5" stroke-dasharray="1.2 2.2"/>
<path d="M365.6,256.5 C366.73,254.7 370.38,248.38 372.4,245.7 C374.42,243.02 376.3,241.52 377.7,240.4 C379.1,239.28 379.9,239 380.8,239 C381.7,239 381.82,239.05 383.1,240.4 C384.38,241.75 387.02,244.87 388.5,247.1 C389.98,249.33 390.75,251.48 392,253.8 C393.25,256.12 394.67,258.63 396,261 C397.33,263.37 398.77,265.5 400,268 C401.23,270.5 402.83,274.67 403.4,276" fill="none" stroke="#30ee30" stroke-width="1.5"/>
<path d="M367,256 C368.07,254 371.1,246.9 373.4,244 C375.7,241.1 378.37,238.6 380.8,238.6 C383.23,238.6 386.13,241.93 388,244 C389.87,246.07 390.67,248.67 392,251 C393.33,253.33 395.33,256.83 396,258" fill="none" stroke="#f028f0" stroke-width="1.6"/>
<path d="M390,240.4 C390.67,241.07 392.65,242.62 394,244.4 C395.35,246.18 396.97,249.08 398.1,251.1 C399.23,253.12 399.92,254.48 400.8,256.5 C401.68,258.52 402.28,260.95 403.4,263.2 C404.52,265.45 406.23,267.7 407.5,270 C408.77,272.3 410.42,275.83 411,277" fill="none" stroke="#f028f0" stroke-width="1.6"/>
<path d="M275.5,271.3 C276.6,269.95 279.88,264.88 282.1,263.2 C284.32,261.52 286.78,260.97 288.8,261.2 C290.82,261.43 292.18,263.7 294.2,264.6 C296.22,265.5 298.67,266.38 300.9,266.6 C303.13,266.82 305.35,266.47 307.6,265.9 C309.85,265.33 312.15,263.98 314.4,263.2 C316.65,262.42 318.87,261.87 321.1,261.2 C323.33,260.53 325.65,259.87 327.8,259.2 C329.95,258.53 331.97,257.73 334,257.2 C336.03,256.67 338.17,256.53 340,256 C341.83,255.47 343,254.67 345,254 C347,253.33 349.83,252.5 352,252 C354.17,251.5 357,251.17 358,251" fill="none" stroke="#1414f0" stroke-width="3.6" stroke-linecap="round"/>
<path d="M275.5,273.6 C277.93,273.6 286.9,273.23 290.1,273.6 C293.3,273.97 293.48,274.52 294.7,275.8 C295.92,277.08 296.95,280.38 297.4,281.3" fill="none" stroke="#1414f0" stroke-width="5" stroke-linecap="round"/>
<path d="M369,277 C370,276.37 373.03,274.13 375,273.2 C376.97,272.27 378.88,271.4 380.8,271.4 C382.72,271.4 384.63,272.27 386.5,273.2 C388.37,274.13 391.08,276.37 392,277" fill="none" stroke="#1414f0" stroke-width="3.6" stroke-linecap="round"/>
<path d="M400.8,249.8 C401.68,249.12 403.87,246.6 406.1,245.7 C408.33,244.8 411.5,244.73 414.2,244.4 C416.9,244.07 419.62,243.82 422.3,243.7 C424.98,243.58 427.83,243.47 430.3,243.7 C432.77,243.93 434.85,244.32 437.1,245.1 C439.35,245.88 441.72,247.4 443.8,248.4 C445.88,249.4 448.63,250.65 449.6,251.1" fill="none" stroke="#1414f0" stroke-width="5" stroke-linecap="round"/>
<path d="M364.3,250.5 C365.65,250.83 369.65,251.88 372.4,252.5 C375.15,253.12 377.87,253.77 380.8,254.2 C383.73,254.63 387.12,255.28 390,255.1 C392.88,254.92 395.42,253.65 398.1,253.1 C400.78,252.55 403.42,252.02 406.1,251.8 C408.78,251.58 411.5,251.73 414.2,251.8 C416.9,251.87 419.62,252.08 422.3,252.2 C424.98,252.32 427.62,252.35 430.3,252.5 C432.98,252.65 435.18,252.88 438.4,253.1 C441.62,253.32 447.73,253.68 449.6,253.8" fill="none" stroke="#1414f0" stroke-width="5" stroke-linecap="round"/>
<path d="M398.1,267.3 C398.98,266.73 401.38,264.7 403.4,263.9 C405.42,263.1 407.95,262.83 410.2,262.5 C412.45,262.17 414.43,262.05 416.9,261.9 C419.37,261.75 422.32,261.6 425,261.6 C427.68,261.6 430.32,261.4 433,261.9 C435.68,262.4 438.33,263.48 441.1,264.6 C443.87,265.72 448.18,267.93 449.6,268.6" fill="none" stroke="#808080" stroke-width="3.4" stroke-linecap="round"/>
<path d="M364.3,265.9 C365.58,266 369.25,266.35 372,266.5 C374.75,266.65 377.8,266.8 380.8,266.8 C383.8,266.8 387.12,266.42 390,266.5 C392.88,266.58 395.42,266.73 398.1,267.3 C400.78,267.87 402.97,269.35 406.1,269.9 C409.23,270.45 412.87,270.48 416.9,270.6 C420.93,270.72 426.27,270.72 430.3,270.6 C434.33,270.48 437.88,269.78 441.1,269.9 C444.32,270.02 448.18,271.07 449.6,271.3" fill="none" stroke="#808080" stroke-width="3.4" stroke-linecap="round"/>
<path d="M449.6,257.8 C449.08,258.7 447.47,261.62 446.5,263.2 C445.53,264.78 444.7,265.73 443.8,267.3 C442.9,268.87 442.02,271.18 441.1,272.6 C440.18,274.02 439.45,274.35 438.3,275.8 C437.15,277.25 435.58,279.47 434.2,281.3 C432.82,283.13 430.7,285.88 430,286.8" fill="none" stroke="#1414f0" stroke-width="3.6" stroke-linecap="round"/>
<path d="M311.7,259.2 C312.82,260.1 316.17,263.03 318.4,264.6 C320.63,266.17 322.5,267.6 325.1,268.6 C327.7,269.6 330.6,271.05 334,270.6 C337.4,270.15 342.47,266.8 345.5,265.9 C348.53,265 349.97,265.42 352.2,265.2 C354.43,264.98 356.88,264.48 358.9,264.6 C360.92,264.72 362.73,265.68 364.3,265.9 C365.87,266.12 367.63,265.9 368.3,265.9" fill="none" stroke="#808080" stroke-width="3.4" stroke-linecap="round"/>
<path d="M298.2,251.1 C299.32,251.55 302.65,252.45 304.9,253.8 C307.15,255.15 310.57,258.3 311.7,259.2" fill="none" stroke="#808080" stroke-width="3.4" stroke-linecap="round"/>
<path d="M332,272.6 C333.12,271.93 336.45,269.93 338.7,268.6 C340.95,267.27 343.25,265.5 345.5,264.6 C347.75,263.7 349.97,263.98 352.2,263.2 C354.43,262.42 356.67,261.02 358.9,259.9 C361.13,258.78 363.35,257.73 365.6,256.5 C367.85,255.27 371.27,253.17 372.4,252.5" fill="none" stroke="#808080" stroke-width="3.4" stroke-linecap="round"/>
<path d="M275.5,282.7 C275.93,282.12 276.73,280.02 278.1,279.2 C279.47,278.38 281.85,278.15 283.7,277.8 C285.55,277.45 287.37,276.75 289.2,277.1 C291.03,277.45 293.1,278.75 294.7,279.9 C296.3,281.05 297.2,283.08 298.8,284 C300.4,284.92 302.45,285.4 304.3,285.4 C306.15,285.4 308.05,284.92 309.9,284 C311.75,283.08 313.57,281.05 315.4,279.9 C317.23,278.75 318.6,277.9 320.9,277.1 C323.2,276.3 327.02,275.55 329.2,275.1 C331.38,274.65 331.47,274.52 334,274.4 C336.53,274.28 341.75,273.95 344.4,274.4 C347.05,274.85 348.07,275.72 349.9,277.1 C351.73,278.48 353.55,280.85 355.4,282.7 C357.25,284.55 359.38,286.6 361,288.2 C362.62,289.8 363.27,291.62 365.1,292.3 C366.93,292.98 370.17,292.65 372,292.3 C373.83,291.95 374.63,290.65 376.1,290.2 C377.57,289.75 379.18,289.48 380.8,289.6 C382.42,289.72 383.8,290.08 385.8,290.9 C387.8,291.72 390.72,293.57 392.8,294.5 C394.88,295.43 396,295.93 398.3,296.5 C400.6,297.07 403.83,297.57 406.6,297.9 C409.37,298.23 412.6,298.97 414.9,298.5 C417.2,298.03 418.57,296.47 420.4,295.1 C422.23,293.73 424.07,291.33 425.9,290.3 C427.73,289.27 429.57,289.48 431.4,288.9 C433.23,288.32 435.05,288.07 436.9,286.8 C438.75,285.53 440.65,283.13 442.5,281.3 C444.35,279.47 446.62,276.95 448,275.8 C449.38,274.65 450.33,274.63 450.8,274.4" fill="none" stroke="#808080" stroke-width="3.4" stroke-linecap="round"/>
<path d="M362,279 C362.75,278.92 364.6,278.12 366.5,278.5 C368.4,278.88 371.02,280.72 373.4,281.3 C375.78,281.88 378.5,282.12 380.8,282 C383.1,281.88 385.33,281.07 387.2,280.6 C389.07,280.13 390.7,279.3 392,279.2 C393.3,279.1 394.5,279.87 395,280" fill="none" stroke="#808080" stroke-width="3.4" stroke-linecap="round"/>
<path d="M390,279.5 C391.38,279.92 395.53,281.25 398.3,282 C401.07,282.75 403.83,283.43 406.6,284 C409.37,284.57 412.37,284.7 414.9,285.4 C417.43,286.1 419.73,287.05 421.8,288.2 C423.87,289.35 425.93,291.15 427.3,292.3 C428.67,293.45 429.32,293.72 430,295.1 C430.68,296.48 430.7,297.83 431.4,300.6 C432.1,303.37 433.28,308.47 434.2,311.7 C435.12,314.93 436.45,318.62 436.9,320" fill="none" stroke="#1414f0" stroke-width="3.6" stroke-linecap="round"/>
<path d="M366.5,293.7 C367.65,294.05 371.02,295.45 373.4,295.8 C375.78,296.15 378.5,295.8 380.8,295.8 C383.1,295.8 385.33,295.7 387.2,295.8 C389.07,295.9 390.15,295.72 392,296.4 C393.85,297.08 395.87,299.32 398.3,299.9 C400.73,300.48 403.83,300.02 406.6,299.9 C409.37,299.78 412.6,299.08 414.9,299.2 C417.2,299.32 418.8,299.9 420.4,300.6 C422,301.3 423.35,302.25 424.5,303.4 C425.65,304.55 426.15,306.23 427.3,307.5 C428.45,308.77 430.72,310.42 431.4,311" fill="none" stroke="#1414f0" stroke-width="3.6" stroke-linecap="round"/>
<path d="M427.3,307.5 C427.98,308.2 430.02,310.32 431.4,311.7 C432.78,313.08 434.22,314.2 435.6,315.8 C436.98,317.4 438.32,319.45 439.7,321.3 C441.08,323.15 442.52,325.52 443.9,326.9 C445.28,328.28 447.32,329.15 448,329.6" fill="none" stroke="#808080" stroke-width="3.4" stroke-linecap="round"/>
<path d="M275.5,289.6 C277.55,289.6 284.83,289.5 287.8,289.6 C290.77,289.7 291.92,289.52 293.3,290.2 C294.68,290.88 295.3,291.97 296.1,293.7 C296.9,295.43 297.42,298.3 298.1,300.6 C298.78,302.9 299.38,305.2 300.2,307.5 C301.02,309.8 301.85,311.65 303,314.4 C304.15,317.15 305.73,321.47 307.1,324 C308.47,326.53 309.82,328.22 311.2,329.6 C312.58,330.98 313.78,332.08 315.4,332.3 C317.02,332.52 319.07,331.47 320.9,330.9 C322.73,330.33 324.22,328.67 326.4,328.9 C328.58,329.13 332.15,331.05 334,332.3 C335.85,333.55 336,335.02 337.5,336.4 C339,337.78 341.62,339.67 343,340.6 C344.38,341.53 345.33,341.77 345.8,342" fill="none" stroke="#808080" stroke-width="3.4" stroke-linecap="round"/>
<path d="M275.5,297.8 C275.93,298.95 277.2,301.93 278.1,304.7 C279,307.47 279.97,310.95 280.9,314.4 C281.83,317.85 282.78,321.5 283.7,325.4 C284.62,329.3 285.72,334.03 286.4,337.8 C287.08,341.57 287.57,346.3 287.8,348" fill="none" stroke="#3030e0" stroke-width="1.6" stroke-dasharray="1.4 1.2"/>
<path d="M275.5,284 C275.93,286.3 277.2,293.2 278.1,297.8 C279,302.4 279.97,307 280.9,311.6 C281.83,316.2 282.78,320.8 283.7,325.4 C284.62,330 285.72,335.43 286.4,339.2 C287.08,342.97 287.57,346.53 287.8,348" fill="none" stroke="#f028f0" stroke-width="1.6"/>
<path d="M275.5,315.8 C277.55,315.68 284.37,315.22 287.8,315.1 C291.23,314.98 294.03,314.77 296.1,315.1 C298.17,315.43 299.05,316.07 300.2,317.1 C301.35,318.13 302.08,319.45 303,321.3 C303.92,323.15 304.78,325.68 305.7,328.2 C306.62,330.72 307.58,333.65 308.5,336.4 C309.42,339.15 310.4,342.73 311.2,344.7 C312,346.67 312.95,347.62 313.3,348.2" fill="none" stroke="#3030e0" stroke-width="1.6" stroke-dasharray="1.4 1.2"/>
<path d="M275.5,315.8 C277.55,315.68 284.37,315.22 287.8,315.1 C291.23,314.98 294.03,314.77 296.1,315.1 C298.17,315.43 299.05,316.07 300.2,317.1 C301.35,318.13 302.08,319.45 303,321.3 C303.92,323.15 305.25,327.05 305.7,328.2" fill="none" stroke="#1a1af0" stroke-width="2.6"/>
<path d="M275.5,315.8 C277.55,315.68 284.37,315.22 287.8,315.1 C291.23,314.98 294.03,314.77 296.1,315.1 C298.17,315.43 299.05,316.07 300.2,317.1 C301.35,318.13 302.08,319.45 303,321.3 C303.92,323.15 305.25,327.05 305.7,328.2" fill="none" stroke="#f020f0" stroke-width="1.6" stroke-dasharray="1.2 2.2"/>
<path d="M275.5,324.7 C277.55,324.58 284.15,324.23 287.8,324 C291.45,323.77 295.1,323.07 297.4,323.3 C299.7,323.53 300.45,324.13 301.6,325.4 C302.75,326.67 303.38,328.6 304.3,330.9 C305.22,333.2 306.17,336.35 307.1,339.2 C308.03,342.05 309.43,346.53 309.9,348" fill="none" stroke="#7a7a8a" stroke-width="2.8"/>
<path d="M275.5,324.7 C277.55,324.58 284.15,324.23 287.8,324 C291.45,323.77 295.1,323.07 297.4,323.3 C299.7,323.53 300.45,324.13 301.6,325.4 C302.75,326.67 303.38,328.6 304.3,330.9 C305.22,333.2 306.17,336.35 307.1,339.2 C308.03,342.05 309.43,346.53 309.9,348" fill="none" stroke="#3030d0" stroke-width="1.2" stroke-dasharray="1 2.4"/>
<path d="M296.1,288.2 C296.55,290.27 297.88,296.93 298.8,300.6 C299.72,304.27 300.68,306.98 301.6,310.2 C302.52,313.42 303.38,316.9 304.3,319.9 C305.22,322.9 306.17,325.45 307.1,328.2 C308.03,330.95 308.98,333.88 309.9,336.4 C310.82,338.92 311.68,341.37 312.6,343.3 C313.52,345.23 314.93,347.22 315.4,348" fill="none" stroke="#30ee30" stroke-width="1.5"/>
<path d="M297.4,284 C298.1,285.85 300.22,291.42 301.6,295.1 C302.98,298.78 304.32,302.43 305.7,306.1 C307.08,309.77 308.52,313.42 309.9,317.1 C311.28,320.78 312.85,324.98 314,328.2 C315.15,331.42 316.12,333.1 316.8,336.4 C317.48,339.7 317.88,346.07 318.1,348" fill="none" stroke="#f028f0" stroke-width="1.6"/>
<path d="M298.8,288.2 C299.5,290.27 301.62,296.47 303,300.6 C304.38,304.73 305.73,309.1 307.1,313 C308.47,316.9 309.82,320.78 311.2,324 C312.58,327.22 314.02,330.23 315.4,332.3 C316.78,334.37 318.82,335.72 319.5,336.4" fill="none" stroke="#3030e0" stroke-width="1.6" stroke-dasharray="1.4 1.2"/>
<path d="M299.5,286 C300.2,288 302.28,294 303.7,298 C305.12,302 306.53,306 308,310 C309.47,314 311.08,318 312.5,322 C313.92,326 315.25,329.67 316.5,334 C317.75,338.33 319.42,345.67 320,348" fill="none" stroke="#f028f0" stroke-width="1.6"/>
<path d="M315.4,330.9 C316.32,330.33 319.07,328.07 320.9,327.5 C322.73,326.93 324.78,327.15 326.4,327.5 C328.02,327.85 329.33,329.03 330.6,329.6 C331.87,330.17 332.77,330.17 334,330.9 C335.23,331.63 336.67,332.65 338,334 C339.33,335.35 341.33,338.17 342,339" fill="none" stroke="#f028f0" stroke-width="1.6"/>
<path d="M312,345 C312.67,345.33 314.67,347.17 316,347 C317.33,346.83 318.67,344.67 320,344 C321.33,343.33 323.33,343.17 324,343" fill="none" stroke="#f028f0" stroke-width="1.6"/>
<path d="M367.9,315.8 C368.82,315.68 371.25,315.22 373.4,315.1 C375.55,314.98 378.5,315.1 380.8,315.1 C383.1,315.1 385.33,315.1 387.2,315.1 C389.07,315.1 390.15,314.75 392,315.1 C393.85,315.45 395.87,316.17 398.3,317.2 C400.73,318.23 403.83,320.27 406.6,321.3 C409.37,322.33 412.15,322.7 414.9,323.4 C417.65,324.1 420.58,324.82 423.1,325.5 C425.62,326.18 427.92,326.58 430,327.5 C432.08,328.42 433.77,329.25 435.6,331 C437.43,332.75 439.1,336.67 441,338 C442.9,339.33 446,338.83 447,339" fill="none" stroke="#6a6aa8" stroke-width="2.2"/>
<path d="M367.9,324 C368.82,323.88 371.25,323.52 373.4,323.3 C375.55,323.08 378.5,322.7 380.8,322.7 C383.1,322.7 385.33,323.08 387.2,323.3 C389.07,323.52 390.15,323.87 392,324 C393.85,324.13 395.87,323.52 398.3,324.1 C400.73,324.68 403.83,326.47 406.6,327.5 C409.37,328.53 412.15,329.6 414.9,330.3 C417.65,331 420.58,331.23 423.1,331.7 C425.62,332.17 427.92,332.53 430,333.1 C432.08,333.67 433.77,333.78 435.6,335.1 C437.43,336.42 439.1,339.85 441,341 C442.9,342.15 446,341.83 447,342" fill="none" stroke="#6a6aa8" stroke-width="2.2"/>
<path d="M361.3,348 C361.84,345.38 363.47,337.03 364.55,332.26 C365.63,327.5 366.72,323.2 367.8,319.39 C368.88,315.57 369.97,312.24 371.05,309.38 C372.13,306.51 373.22,304.13 374.3,302.22 C375.38,300.31 376.47,298.88 377.55,297.93 C378.63,296.98 379.72,296.5 380.8,296.5 C381.88,296.5 382.97,296.98 384.05,297.93 C385.13,298.88 386.22,300.31 387.3,302.22 C388.38,304.13 389.47,306.51 390.55,309.38 C391.63,312.24 392.72,315.57 393.8,319.39 C394.88,323.2 395.97,327.5 397.05,332.26 C398.13,337.03 399.76,345.38 400.3,348" fill="none" stroke="#3030e0" stroke-width="1.6" stroke-dasharray="1.4 1.2"/>
<path d="M362.3,348 C362.81,345.43 364.36,337.25 365.38,332.57 C366.41,327.89 367.44,323.69 368.47,319.94 C369.49,316.2 370.52,312.93 371.55,310.12 C372.58,307.32 373.61,304.98 374.63,303.11 C375.66,301.24 376.69,299.84 377.72,298.9 C378.74,297.97 379.77,297.5 380.8,297.5 C381.83,297.5 382.86,297.97 383.88,298.9 C384.91,299.84 385.94,301.24 386.97,303.11 C387.99,304.98 389.02,307.32 390.05,310.12 C391.08,312.93 392.11,316.2 393.13,319.94 C394.16,323.69 395.19,327.89 396.22,332.57 C397.24,337.25 398.79,345.43 399.3,348" fill="none" stroke="#f028f0" stroke-width="1.6"/>
<path d="M372,348 C372.24,346.47 372.98,341.61 373.47,338.83 C373.96,336.06 374.44,333.56 374.93,331.33 C375.42,329.11 375.91,327.17 376.4,325.5 C376.89,323.83 377.38,322.44 377.87,321.33 C378.36,320.22 378.84,319.39 379.33,318.83 C379.82,318.28 380.31,318 380.8,318 C381.29,318 381.78,318.28 382.27,318.83 C382.76,319.39 383.24,320.22 383.73,321.33 C384.22,322.44 384.71,323.83 385.2,325.5 C385.69,327.17 386.18,329.11 386.67,331.33 C387.16,333.56 387.64,336.06 388.13,338.83 C388.62,341.61 389.36,346.47 389.6,348" fill="none" stroke="#30ee30" stroke-width="1.5"/>
<path d="M372.6,348 C372.83,346.52 373.51,341.82 373.97,339.14 C374.42,336.45 374.88,334.04 375.33,331.89 C375.79,329.74 376.24,327.86 376.7,326.25 C377.16,324.64 377.61,323.3 378.07,322.22 C378.52,321.15 378.98,320.34 379.43,319.81 C379.89,319.27 380.34,319 380.8,319 C381.26,319 381.71,319.27 382.17,319.81 C382.62,320.34 383.08,321.15 383.53,322.22 C383.99,323.3 384.44,324.64 384.9,326.25 C385.36,327.86 385.81,329.74 386.27,331.89 C386.72,334.04 387.18,336.45 387.63,339.14 C388.09,341.82 388.77,346.52 389,348" fill="none" stroke="#f028f0" stroke-width="1.6"/>
<path d="M353.8,348 C354.36,345.5 356.05,337.67 357.18,333 C358.3,328.33 359.43,324 360.55,320 C361.68,316 362.8,312.33 363.93,309 C365.05,305.67 366.18,302.67 367.3,300 C368.43,297.33 369.55,295 370.68,293 C371.8,291 372.93,289.33 374.05,288 C375.18,286.67 376.3,285.67 377.43,285 C378.55,284.33 379.68,284 380.8,284 C381.93,284 383.05,284.33 384.18,285 C385.3,285.67 386.43,286.67 387.55,288 C388.68,289.33 389.8,291 390.93,293 C392.05,295 393.18,297.33 394.3,300 C395.43,302.67 396.55,305.67 397.68,309 C398.8,312.33 399.93,316 401.05,320 C402.18,324 403.3,328.33 404.43,333 C405.55,337.67 407.24,345.5 407.8,348" fill="none" stroke="#30ee30" stroke-width="1.5"/>
<path d="M354.8,348 C355.34,345.54 356.97,337.83 358.05,333.23 C359.13,328.64 360.22,324.38 361.3,320.44 C362.38,316.5 363.47,312.89 364.55,309.61 C365.63,306.33 366.72,303.38 367.8,300.75 C368.88,298.12 369.97,295.83 371.05,293.86 C372.13,291.89 373.22,290.25 374.3,288.94 C375.38,287.62 376.47,286.64 377.55,285.98 C378.63,285.33 379.72,285 380.8,285 C381.88,285 382.97,285.33 384.05,285.98 C385.13,286.64 386.22,287.62 387.3,288.94 C388.38,290.25 389.47,291.89 390.55,293.86 C391.63,295.83 392.72,298.12 393.8,300.75 C394.88,303.38 395.97,306.33 397.05,309.61 C398.13,312.89 399.22,316.5 400.3,320.44 C401.38,324.38 402.47,328.64 403.55,333.23 C404.63,337.83 406.26,345.54 406.8,348" fill="none" stroke="#f028f0" stroke-width="1.6"/>
<path d="M360,325.1 C360.7,322.08 362.8,312.82 364.2,307 C365.6,301.18 367.23,294.63 368.4,290.2 C369.57,285.77 370.27,282.97 371.2,280.4 C372.13,277.83 373.53,275.73 374,274.8" fill="none" stroke="#f028f0" stroke-width="1.6"/>
<path d="M358.5,325.1 C359.2,322.08 361.3,312.82 362.7,307 C364.1,301.18 365.73,294.63 366.9,290.2 C368.07,285.77 368.77,282.97 369.7,280.4 C370.63,277.83 372.03,275.73 372.5,274.8" fill="none" stroke="#30ee30" stroke-width="1.5"/>
<path d="M392.2,280.4 C392.9,282.5 395.02,288.57 396.4,293 C397.78,297.43 399.12,302.12 400.5,307 C401.88,311.88 403.3,317.18 404.7,322.3 C406.1,327.42 407.5,333.42 408.9,337.7 C410.3,341.98 412.4,346.28 413.1,348" fill="none" stroke="#30ee30" stroke-width="1.5"/>
<path d="M393.5,280.4 C394.2,282.5 396.32,288.57 397.7,293 C399.08,297.43 400.42,302.12 401.8,307 C403.18,311.88 404.6,317.18 406,322.3 C407.4,327.42 408.8,333.42 410.2,337.7 C411.6,341.98 413.7,346.28 414.4,348" fill="none" stroke="#f028f0" stroke-width="1.6"/>
<path d="M390,300.6 C391.38,302.9 395.53,309.33 398.3,314.4 C401.07,319.47 403.83,325.65 406.6,331 C409.37,336.35 412.15,346.97 414.9,346.5 C417.65,346.03 420.58,333.78 423.1,328.2 C425.62,322.62 427.92,314.6 430,313 C432.08,311.4 433.52,316.07 435.6,318.6 C437.68,321.13 440.2,326.13 442.5,328.2 C444.8,330.27 448.25,330.53 449.4,331" fill="none" stroke="#30ee30" stroke-width="1.5"/>
<path d="M391,299 C392.38,301.4 396.53,308.23 399.3,313.4 C402.07,318.57 404.95,324.57 407.6,330 C410.25,335.43 412.7,346.17 415.2,346 C417.7,345.83 420.25,334.33 422.6,329 C424.95,323.67 427.3,315.5 429.3,314 C431.3,312.5 432.57,317.33 434.6,320 C436.63,322.67 439.2,327.67 441.5,330 C443.8,332.33 447.25,333.33 448.4,334" fill="none" stroke="#f028f0" stroke-width="1.6"/>
<path d="M392.8,286.8 C393.48,289.1 395.53,296 396.9,300.6 C398.27,305.2 399.38,309.33 401,314.4 C402.62,319.47 404.75,325.93 406.6,331 C408.45,336.07 410.83,341.97 412.1,344.8 C413.37,347.63 413.85,347.47 414.2,348" fill="none" stroke="#30ee30" stroke-width="1.5"/>
<path d="M394,286.8 C394.67,289.1 396.67,296 398,300.6 C399.33,305.2 400.4,309.33 402,314.4 C403.6,319.47 405.77,325.93 407.6,331 C409.43,336.07 411.77,341.97 413,344.8 C414.23,347.63 414.67,347.47 415,348" fill="none" stroke="#f028f0" stroke-width="1.6"/>
<path d="M430,286.8 C430.23,289.1 430.7,296 431.4,300.6 C432.1,305.2 433.28,309.33 434.2,314.4 C435.12,319.47 436.1,325.4 436.9,331 C437.7,336.6 438.65,345.17 439,348" fill="none" stroke="#f028f0" stroke-width="1.6"/>
<path d="M430,327.5 C430.93,328.08 434.1,329.58 435.6,331 C437.1,332.42 437.93,334.5 439,336 C440.07,337.5 441,339.17 442,340 C443,340.83 444,341.33 445,341 C446,340.67 447.17,339.17 448,338 C448.83,336.83 449.67,334.67 450,334" fill="none" stroke="#6a6aa8" stroke-width="2.2"/>
<path d="M430,333.1 C430.93,333.43 434.02,333.95 435.6,335.1 C437.18,336.25 438.35,338.68 439.5,340 C440.65,341.32 441.42,342.42 442.5,343 C443.58,343.58 444.92,343.83 446,343.5 C447.08,343.17 448.5,341.42 449,341" fill="none" stroke="#6a6aa8" stroke-width="2.2"/>
</g>
<path d="M275.5,202.3 L433.7,202.3" stroke="#111" stroke-width="1.3"/>
<path d="M275.5,201.8 L275.5,348 L450,348 L450,202" fill="none" stroke="#111" stroke-width="1.3"/>
<path d="M276,202.4 h2.4 M276,214.5 h1.4 M276,226.6 h2.4 M276,238.7 h1.4 M276,250.8 h2.4 M276,262.9 h1.4 M276,275 h2.4 M276,287.1 h1.4 M276,299.2 h2.4 M276,311.3 h1.4 M276,323.4 h2.4 M276,335.5 h1.4 M276,347.6 h2.4" stroke="#111" stroke-width="0.9"/>
<line x1="322.9" y1="294" x2="348.5" y2="294" stroke="#30ee30" stroke-width="1.6"/>
<line x1="322.9" y1="309.2" x2="348.5" y2="309.2" stroke="#f028f0" stroke-width="1.6"/>
<text x="350.5" y="298.5" font-family="Liberation Serif" font-size="11.5" font-weight="normal" fill="#3a2a10" text-anchor="start" >α</text>
<text x="350.5" y="313.6" font-family="Liberation Serif" font-size="11.5" font-weight="normal" fill="#3a2a10" text-anchor="start" >β</text>
<text x="276.6" y="358" font-family="Liberation Serif" font-size="10" font-weight="normal" fill="#8a6a40" text-anchor="middle" >Γ</text>
<text x="289.6" y="358" font-family="Liberation Sans" font-size="10" font-weight="bold" fill="#111" text-anchor="middle" >A</text>
<text x="326.4" y="358" font-family="Liberation Sans" font-size="10" font-weight="bold" fill="#111" text-anchor="middle" >H</text>
<text x="343.8" y="358" font-family="Liberation Sans" font-size="10" font-weight="bold" fill="#111" text-anchor="middle" >K</text>
<text x="380.6" y="358" font-family="Liberation Serif" font-size="10" font-weight="normal" fill="#8a6a40" text-anchor="middle" >Γ</text>
<text x="415" y="358" font-family="Liberation Sans" font-size="10" font-weight="bold" fill="#111" text-anchor="middle" >M</text>
<text x="430.6" y="358" font-family="Liberation Sans" font-size="10" font-weight="bold" fill="#111" text-anchor="middle" >L</text>
<text x="448.8" y="358" font-family="Liberation Sans" font-size="10" font-weight="bold" fill="#111" text-anchor="middle" >H</text>
<path d="M478.6,203.7 C481.5,202.9 485.4,201.3 485.6,199.4 C485.7,197.6 482.7,197.1 480.6,198.6 C478.1,200.3 477,203.4 477.6,205.6 C478.3,208.3 483.5,208.3 486.3,205.7" fill="none" stroke="#000" stroke-width="1.65" stroke-linecap="round" stroke-linejoin="round"/>
<circle cx="540.8" cy="291.6" r="4.2" fill="url(#gBr)"/>
<circle cx="578" cy="291.6" r="4.2" fill="url(#gBr)"/>
<circle cx="615.2" cy="291.6" r="4.2" fill="url(#gBr)"/>
<circle cx="652.4" cy="291.6" r="4.2" fill="url(#gBr)"/>
<circle cx="528.3" cy="309.1" r="8" fill="url(#gLB)"/>
<circle cx="565.5" cy="309.1" r="8" fill="url(#gLB)"/>
<circle cx="602.7" cy="309.1" r="8" fill="url(#gLB)"/>
<circle cx="639.9" cy="309.1" r="8" fill="url(#gLB)"/>
<circle cx="553.4" cy="326.1" r="4.2" fill="url(#gBr)"/>
<circle cx="590.6" cy="326.1" r="4.2" fill="url(#gBr)"/>
<circle cx="627.8" cy="326.1" r="4.2" fill="url(#gBr)"/>
<circle cx="665" cy="326.1" r="4.2" fill="url(#gBr)"/>
<circle cx="540.8" cy="339" r="8" fill="url(#gLB)"/>
<ellipse cx="534.8" cy="334" rx="1.5" ry="1.1" fill="#e0e030"/>
<ellipse cx="546.8" cy="334" rx="1.5" ry="1.1" fill="#e0e030"/>
<ellipse cx="534.8" cy="344.5" rx="1.5" ry="1.1" fill="#e0e030"/>
<ellipse cx="546.8" cy="344.5" rx="1.5" ry="1.1" fill="#e0e030"/>
<circle cx="578" cy="339" r="8" fill="url(#gLB)"/>
<ellipse cx="572" cy="334" rx="1.5" ry="1.1" fill="#e0e030"/>
<ellipse cx="584" cy="334" rx="1.5" ry="1.1" fill="#e0e030"/>
<ellipse cx="572" cy="344.5" rx="1.5" ry="1.1" fill="#e0e030"/>
<ellipse cx="584" cy="344.5" rx="1.5" ry="1.1" fill="#e0e030"/>
<circle cx="615.2" cy="339" r="8" fill="url(#gLB)"/>
<ellipse cx="609.2" cy="334" rx="1.5" ry="1.1" fill="#e0e030"/>
<ellipse cx="621.2" cy="334" rx="1.5" ry="1.1" fill="#e0e030"/>
<ellipse cx="609.2" cy="344.5" rx="1.5" ry="1.1" fill="#e0e030"/>
<ellipse cx="621.2" cy="344.5" rx="1.5" ry="1.1" fill="#e0e030"/>
<circle cx="652.4" cy="339" r="8" fill="url(#gLB)"/>
<ellipse cx="646.4" cy="334" rx="1.5" ry="1.1" fill="#e0e030"/>
<ellipse cx="658.4" cy="334" rx="1.5" ry="1.1" fill="#e0e030"/>
<ellipse cx="646.4" cy="344.5" rx="1.5" ry="1.1" fill="#e0e030"/>
<ellipse cx="658.4" cy="344.5" rx="1.5" ry="1.1" fill="#e0e030"/>
<g clip-path="url(#cpe)">
<path d="M515,258 C530,262 535,270 545,274 L690,274 L690,258 Z" fill="#48c8cc"/>
<rect x="515" y="262" width="175" height="14" fill="#4cc8cc"/>
<path d="M491.8,262 C499.8,270 507.8,276 515.8,277 L523.8,277 C529.8,276 533.8,268 537.8,258 Z" fill="url(#gCy)"/>
<path d="M529,262 C537,270 545,276 553,277 L561,277 C567,276 571,268 575,258 Z" fill="url(#gCy)"/>
<path d="M566.2,262 C574.2,270 582.2,276 590.2,277 L598.2,277 C604.2,276 608.2,268 612.2,258 Z" fill="url(#gCy)"/>
<path d="M603.4,262 C611.4,270 619.4,276 627.4,277 L635.4,277 C641.4,276 645.4,268 649.4,258 Z" fill="url(#gCy)"/>
<path d="M640.6,262 C648.6,270 656.6,276 664.6,277 L672.6,277 C678.6,276 682.6,268 686.6,258 Z" fill="url(#gCy)"/>
<rect x="515" y="270" width="175" height="7" fill="#48c4c8"/>
<path d="M501.7,254 C508.2,251 524.2,251 530.7,254 C530.2,262 524.2,268 516.2,268 C508.2,268 502.2,262 501.7,254 Z" fill="url(#gYel)" stroke="#b8b820" stroke-width="0.4"/>
<path d="M538.9,254 C545.4,251 561.4,251 567.9,254 C567.4,262 561.4,268 553.4,268 C545.4,268 539.4,262 538.9,254 Z" fill="url(#gYel)" stroke="#b8b820" stroke-width="0.4"/>
<path d="M576.1,254 C582.6,251 598.6,251 605.1,254 C604.6,262 598.6,268 590.6,268 C582.6,268 576.6,262 576.1,254 Z" fill="url(#gYel)" stroke="#b8b820" stroke-width="0.4"/>
<path d="M613.3,254 C619.8,251 635.8,251 642.3,254 C641.8,262 635.8,268 627.8,268 C619.8,268 613.8,262 613.3,254 Z" fill="url(#gYel)" stroke="#b8b820" stroke-width="0.4"/>
<path d="M650.5,254 C657,251 673,251 679.5,254 C679,262 673,268 665,268 C657,268 651,262 650.5,254 Z" fill="url(#gYel)" stroke="#b8b820" stroke-width="0.4"/>
<path d="M515,226 C530,222 540,226 552,225 C565,222 575,226 589,225 C602,222 612,226 626,225 C639,222 649,226 663,225 C670,223 680,224 690,224 L690,234 C680,235 670,233 663,234 C650,236 640,232 626,234 C613,236 603,232 589,234 C576,236 566,232 552,234 C539,236 529,232 515,234 Z" fill="#52d2d4" stroke="#3cb0b4" stroke-width="0.5"/>
<ellipse cx="535.6" cy="229" rx="12" ry="4" fill="#44c0c4"/>
<ellipse cx="572.8" cy="229" rx="12" ry="4" fill="#44c0c4"/>
<ellipse cx="610" cy="229" rx="12" ry="4" fill="#44c0c4"/>
<ellipse cx="647.2" cy="229" rx="12" ry="4" fill="#44c0c4"/>
<ellipse cx="515.8" cy="247.8" rx="10.5" ry="3.4" fill="#48c8cc" stroke="#38a8ac" stroke-width="0.4"/>
<ellipse cx="515.8" cy="240" rx="13" ry="3.8" fill="#e6e630" stroke="#b0b020" stroke-width="0.4"/>
<ellipse cx="553" cy="247.8" rx="10.5" ry="3.4" fill="#48c8cc" stroke="#38a8ac" stroke-width="0.4"/>
<ellipse cx="553" cy="240" rx="13" ry="3.8" fill="#e6e630" stroke="#b0b020" stroke-width="0.4"/>
<ellipse cx="590.2" cy="247.8" rx="10.5" ry="3.4" fill="#48c8cc" stroke="#38a8ac" stroke-width="0.4"/>
<ellipse cx="590.2" cy="240" rx="13" ry="3.8" fill="#e6e630" stroke="#b0b020" stroke-width="0.4"/>
<ellipse cx="627.4" cy="247.8" rx="10.5" ry="3.4" fill="#48c8cc" stroke="#38a8ac" stroke-width="0.4"/>
<ellipse cx="627.4" cy="240" rx="13" ry="3.8" fill="#e6e630" stroke="#b0b020" stroke-width="0.4"/>
<ellipse cx="664.6" cy="247.8" rx="10.5" ry="3.4" fill="#48c8cc" stroke="#38a8ac" stroke-width="0.4"/>
<ellipse cx="664.6" cy="240" rx="13" ry="3.8" fill="#e6e630" stroke="#b0b020" stroke-width="0.4"/>
<ellipse cx="528.1" cy="210" rx="5" ry="5.5" fill="#e6e630" stroke="#b8b820" stroke-width="0.4"/>
<ellipse cx="530.6" cy="216.5" rx="7.5" ry="3" fill="#48c4c8"/>
<ellipse cx="530.6" cy="221.8" rx="11" ry="3.8" fill="#e8d030"/>
<ellipse cx="529.6" cy="221.8" rx="6.5" ry="2.6" fill="#e08a20"/>
<ellipse cx="528.6" cy="229" rx="4" ry="5" fill="#e6e630"/>
<ellipse cx="565.3" cy="210" rx="5" ry="5.5" fill="#e6e630" stroke="#b8b820" stroke-width="0.4"/>
<ellipse cx="567.8" cy="216.5" rx="7.5" ry="3" fill="#48c4c8"/>
<ellipse cx="567.8" cy="221.8" rx="11" ry="3.8" fill="#e8d030"/>
<ellipse cx="566.8" cy="221.8" rx="6.5" ry="2.6" fill="#e08a20"/>
<ellipse cx="565.8" cy="229" rx="4" ry="5" fill="#e6e630"/>
<ellipse cx="602.5" cy="210" rx="5" ry="5.5" fill="#e6e630" stroke="#b8b820" stroke-width="0.4"/>
<ellipse cx="605" cy="216.5" rx="7.5" ry="3" fill="#48c4c8"/>
<ellipse cx="605" cy="221.8" rx="11" ry="3.8" fill="#e8d030"/>
<ellipse cx="604" cy="221.8" rx="6.5" ry="2.6" fill="#e08a20"/>
<ellipse cx="603" cy="229" rx="4" ry="5" fill="#e6e630"/>
<ellipse cx="639.7" cy="210" rx="5" ry="5.5" fill="#e6e630" stroke="#b8b820" stroke-width="0.4"/>
<ellipse cx="642.2" cy="216.5" rx="7.5" ry="3" fill="#48c4c8"/>
<ellipse cx="642.2" cy="221.8" rx="11" ry="3.8" fill="#e8d030"/>
<ellipse cx="641.2" cy="221.8" rx="6.5" ry="2.6" fill="#e08a20"/>
<ellipse cx="640.2" cy="229" rx="4" ry="5" fill="#e6e630"/>
<line x1="539.03" y1="234" x2="553" y2="244" stroke="#b8e070" stroke-width="1.5"/>
<line x1="521.7" y1="235" x2="515.8" y2="244" stroke="#b8e070" stroke-width="1.5"/>
<line x1="576.23" y1="234" x2="590.2" y2="244" stroke="#b8e070" stroke-width="1.5"/>
<line x1="558.9" y1="235" x2="553" y2="244" stroke="#b8e070" stroke-width="1.5"/>
<line x1="613.43" y1="234" x2="627.4" y2="244" stroke="#b8e070" stroke-width="1.5"/>
<line x1="596.1" y1="235" x2="590.2" y2="244" stroke="#b8e070" stroke-width="1.5"/>
<line x1="650.63" y1="234" x2="664.6" y2="244" stroke="#b8e070" stroke-width="1.5"/>
<line x1="633.3" y1="235" x2="627.4" y2="244" stroke="#b8e070" stroke-width="1.5"/>
<circle cx="515.8" cy="244.2" r="5" fill="url(#gGr)"/>
<circle cx="553" cy="244.2" r="5" fill="url(#gGr)"/>
<circle cx="590.2" cy="244.2" r="5" fill="url(#gGr)"/>
<circle cx="627.4" cy="244.2" r="5" fill="url(#gGr)"/>
<circle cx="664.6" cy="244.2" r="5" fill="url(#gGr)"/>
<ellipse cx="516.2" cy="283.5" rx="9" ry="3.2" fill="#48c4c8"/>
<ellipse cx="516.2" cy="287.6" rx="6" ry="3" fill="#e6e630"/>
<circle cx="516.2" cy="278.8" r="8" fill="url(#gLB)"/>
<ellipse cx="553.4" cy="283.5" rx="9" ry="3.2" fill="#48c4c8"/>
<ellipse cx="553.4" cy="287.6" rx="6" ry="3" fill="#e6e630"/>
<circle cx="553.4" cy="278.8" r="8" fill="url(#gLB)"/>
<ellipse cx="590.6" cy="283.5" rx="9" ry="3.2" fill="#48c4c8"/>
<ellipse cx="590.6" cy="287.6" rx="6" ry="3" fill="#e6e630"/>
<circle cx="590.6" cy="278.8" r="8" fill="url(#gLB)"/>
<ellipse cx="627.8" cy="283.5" rx="9" ry="3.2" fill="#48c4c8"/>
<ellipse cx="627.8" cy="287.6" rx="6" ry="3" fill="#e6e630"/>
<circle cx="627.8" cy="278.8" r="8" fill="url(#gLB)"/>
<ellipse cx="665" cy="283.5" rx="9" ry="3.2" fill="#48c4c8"/>
<ellipse cx="665" cy="287.6" rx="6" ry="3" fill="#e6e630"/>
<circle cx="665" cy="278.8" r="8" fill="url(#gLB)"/>
</g>
<line x1="503.7" y1="200.5" x2="522.6" y2="221" stroke="#a8dc38" stroke-width="1.8"/>
<line x1="515.42" y1="213.21" x2="522.6" y2="221" stroke="#d8200c" stroke-width="1.8"/>
<line x1="540.9" y1="200.5" x2="522.6" y2="221" stroke="#a8dc38" stroke-width="1.8"/>
<line x1="529.55" y1="213.21" x2="522.6" y2="221" stroke="#d8200c" stroke-width="1.8"/>
<line x1="522.6" y1="221" x2="515.8" y2="244.2" stroke="#a8dc38" stroke-width="1.8"/>
<line x1="522.6" y1="221" x2="519.54" y2="231.44" stroke="#d8200c" stroke-width="1.8"/>
<ellipse cx="531.6" cy="221.8" rx="8.5" ry="3.2" fill="#e8b828" opacity="0.9"/>
<ellipse cx="531.1" cy="221.8" rx="5" ry="2.2" fill="#e08420" opacity="0.9"/>
<ellipse cx="528.6" cy="229.5" rx="3.5" ry="4.2" fill="#e6e630" opacity="0.9"/>
<line x1="540.9" y1="200.5" x2="559.8" y2="221" stroke="#a8dc38" stroke-width="1.8"/>
<line x1="552.62" y1="213.21" x2="559.8" y2="221" stroke="#d8200c" stroke-width="1.8"/>
<line x1="578.1" y1="200.5" x2="559.8" y2="221" stroke="#a8dc38" stroke-width="1.8"/>
<line x1="566.75" y1="213.21" x2="559.8" y2="221" stroke="#d8200c" stroke-width="1.8"/>
<line x1="559.8" y1="221" x2="553" y2="244.2" stroke="#a8dc38" stroke-width="1.8"/>
<line x1="559.8" y1="221" x2="556.74" y2="231.44" stroke="#d8200c" stroke-width="1.8"/>
<ellipse cx="568.8" cy="221.8" rx="8.5" ry="3.2" fill="#e8b828" opacity="0.9"/>
<ellipse cx="568.3" cy="221.8" rx="5" ry="2.2" fill="#e08420" opacity="0.9"/>
<ellipse cx="565.8" cy="229.5" rx="3.5" ry="4.2" fill="#e6e630" opacity="0.9"/>
<line x1="578.1" y1="200.5" x2="597" y2="221" stroke="#a8dc38" stroke-width="1.8"/>
<line x1="589.82" y1="213.21" x2="597" y2="221" stroke="#d8200c" stroke-width="1.8"/>
<line x1="615.3" y1="200.5" x2="597" y2="221" stroke="#a8dc38" stroke-width="1.8"/>
<line x1="603.95" y1="213.21" x2="597" y2="221" stroke="#d8200c" stroke-width="1.8"/>
<line x1="597" y1="221" x2="590.2" y2="244.2" stroke="#a8dc38" stroke-width="1.8"/>
<line x1="597" y1="221" x2="593.94" y2="231.44" stroke="#d8200c" stroke-width="1.8"/>
<ellipse cx="606" cy="221.8" rx="8.5" ry="3.2" fill="#e8b828" opacity="0.9"/>
<ellipse cx="605.5" cy="221.8" rx="5" ry="2.2" fill="#e08420" opacity="0.9"/>
<ellipse cx="603" cy="229.5" rx="3.5" ry="4.2" fill="#e6e630" opacity="0.9"/>
<line x1="615.3" y1="200.5" x2="634.2" y2="221" stroke="#a8dc38" stroke-width="1.8"/>
<line x1="627.02" y1="213.21" x2="634.2" y2="221" stroke="#d8200c" stroke-width="1.8"/>
<line x1="652.5" y1="200.5" x2="634.2" y2="221" stroke="#a8dc38" stroke-width="1.8"/>
<line x1="641.15" y1="213.21" x2="634.2" y2="221" stroke="#d8200c" stroke-width="1.8"/>
<line x1="634.2" y1="221" x2="627.4" y2="244.2" stroke="#a8dc38" stroke-width="1.8"/>
<line x1="634.2" y1="221" x2="631.14" y2="231.44" stroke="#d8200c" stroke-width="1.8"/>
<ellipse cx="643.2" cy="221.8" rx="8.5" ry="3.2" fill="#e8b828" opacity="0.9"/>
<ellipse cx="642.7" cy="221.8" rx="5" ry="2.2" fill="#e08420" opacity="0.9"/>
<ellipse cx="640.2" cy="229.5" rx="3.5" ry="4.2" fill="#e6e630" opacity="0.9"/>
<circle cx="515.8" cy="244.2" r="5" fill="url(#gGr)"/>
<circle cx="503.7" cy="200.4" r="5.2" fill="url(#gGr)"/>
<circle cx="540.9" cy="200.4" r="5.2" fill="url(#gGr)"/>
<circle cx="578.1" cy="200.4" r="5.2" fill="url(#gGr)"/>
<circle cx="615.3" cy="200.4" r="5.2" fill="url(#gGr)"/>
<circle cx="652.5" cy="200.4" r="5.2" fill="url(#gGr)"/>
<text x="5.2" y="394.4" font-family="Liberation Sans" font-size="19.5" fill="#000" ></text>
<line x1="34.5" y1="425.2" x2="203.4" y2="425.2" stroke="#ee1c1c" stroke-width="1.3"/>
<polyline points="34.5,425.2 34.82,425.2 35.13,425.2 35.45,425.2 35.77,425.2 36.08,425.2 36.4,425.2 36.72,425.2 37.03,425.2 37.35,425.2 37.67,425.2 37.98,425.2 38.3,425.2 38.62,425.2 38.93,425.2 39.25,425.2 39.57,425.2 39.88,425.2 40.2,425.2 40.52,425.2 40.83,425.2 41.15,425.2 41.47,425.2 41.78,425.2 42.1,425.2 42.42,425.2 42.73,425.2 43.05,425.2 43.37,425.2 43.68,425.2 44,425.2 44.32,425.2 44.63,425.2 44.95,425.2 45.27,425.2 45.58,425.2 45.9,425.2 46.22,425.2 46.53,425.2 46.85,425.2 47.17,425.2 47.48,425.2 47.8,424.87 48.12,424.27 48.43,423.6 48.75,423.33 49.07,423.77 49.38,424.36 49.7,424.94 50.02,425.11 50.33,424.08 50.65,423.32 50.97,424.16 51.28,425.2 51.6,425.2 51.92,425.2 52.23,424.92 52.55,423.53 52.87,423.17 53.18,424.55 53.5,423.8 53.82,422.92 54.13,423.26 54.45,423.94 54.77,424.61 55.08,423.89 55.4,423.3 55.72,424.03 56.03,424.66 56.35,423.86 56.67,424.22 56.98,425.07 57.3,424.99 57.62,424.67 57.93,424.3 58.25,424.71 58.57,425.01 58.88,425.2 59.2,425.2 59.52,425.12 59.84,424.54 60.15,423.97 60.47,423.74 60.79,424.3 61.1,424.8 61.42,425.2 61.74,425.2 62.05,424.79 62.37,424.06 62.69,423.83 63,424.63 63.32,425.2 63.64,425.2 63.95,425.2 64.27,425.2 64.59,424.69 64.9,423.96 65.22,423.21 65.54,423.63 65.85,424.21 66.17,424.95 66.49,424.49 66.8,424.02 67.12,424.73 67.44,425.2 67.75,425.1 68.07,424.17 68.39,423.41 68.7,423.66 69.02,424.52 69.34,425.2 69.65,425.2 69.97,425.2 70.29,425.2 70.6,424.84 70.92,424.4 71.24,424.72 71.55,425.1 71.87,425.2 72.19,424.77 72.5,423.85 72.82,423.02 73.14,423.71 73.45,424.73 73.77,424.86 74.09,423.53 74.4,423.48 74.72,424.73 75.04,425.2 75.35,425.2 75.67,425.2 75.99,425.2 76.3,425.2 76.62,423.6 76.94,421.68 77.25,423.36 77.57,424.5 77.89,423.95 78.2,423.61 78.52,424.03 78.84,424.55 79.15,425.11 79.47,425.09 79.79,424.63 80.1,424.26 80.42,423.95 80.74,424.27 81.05,424.77 81.37,425.19 81.69,425.2 82,424.77 82.32,424.26 82.64,424.16 82.95,424.68 83.27,424.46 83.59,423.5 83.9,422.76 84.22,422.88 84.54,423.81 84.85,424.63 85.17,425.2 85.49,425.2 85.8,425.2 86.12,424.65 86.44,424.07 86.75,424.15 87.07,424.64 87.39,425.2 87.7,425.06 88.02,424.78 88.34,424.42 88.65,424.12 88.97,424.26 89.29,424.58 89.6,424.8 89.92,423.84 90.24,422.72 90.55,423.93 90.87,424.72 91.19,424.26 91.5,424.13 91.82,424.56 92.14,424.99 92.45,425.2 92.77,424.95 93.09,424.34 93.4,423.59 93.72,423.96 94.04,424.65 94.35,425.2 94.67,424.6 94.99,421.79 95.3,420.06 95.62,422.98 95.94,425.2 96.25,425.2 96.57,425.2 96.89,425.2 97.2,424.82 97.52,422.28 97.84,420.17 98.15,422.3 98.47,424.8 98.79,425.2 99.1,425.2 99.42,425.2 99.74,422.99 100.05,419.81 100.37,421.37 100.69,424.21 101,425.2 101.32,425.2 101.64,425.2 101.95,424.84 102.27,423.16 102.59,421.59 102.9,422.05 103.22,423.81 103.54,421.65 103.85,419.37 104.17,422.28 104.49,425.2 104.8,425.2 105.12,425.2 105.44,425.2 105.75,425.2 106.07,425.2 106.39,425.2 106.7,425.2 107.02,425.2 107.34,425.2 107.65,425.2 107.97,425.2 108.29,425.2 108.6,424.06 108.92,422.28 109.24,422.05 109.55,423.68 109.87,425.2 110.19,425.2 110.5,425.2 110.82,424.91 111.14,423.86 111.46,423.08 111.77,424.24 112.09,425.2 112.41,425.2 112.72,425.2 113.04,425.2 113.36,424.26 113.67,422.33 113.99,421.78 114.31,423.55 114.62,425.13 114.94,424.29 115.26,423.37 115.57,423.97 115.89,424.88 116.21,425.2 116.52,423.79 116.84,421.82 117.16,419.47 117.47,421.69 117.79,423.56 118.11,421.83 118.42,419.65 118.74,417.25 119.06,418.74 119.37,420.72 119.69,423.09 120.01,425.2 120.32,425.2 120.64,423.02 120.96,419.52 121.27,420.74 121.59,421.17 121.91,418.43 122.22,417.86 122.54,419.94 122.86,421.45 123.17,418.53 123.49,420.35 123.81,422.97 124.12,425.2 124.44,423.69 124.76,421.32 125.07,419.92 125.39,421.7 125.71,423.6 126.02,425.2 126.34,425.2 126.66,425.2 126.97,421.55 127.29,418.21 127.61,413.77 127.92,416.86 128.24,420.76 128.56,424.37 128.87,425.2 129.19,425.2 129.51,423.45 129.82,420.37 130.14,417.55 130.46,418.06 130.77,412.76 131.09,409.88 131.41,415.17 131.72,419.29 132.04,424.16 132.36,424.01 132.67,420.42 132.99,416.14 133.31,415.96 133.62,419.66 133.94,416.5 134.26,413.13 134.57,413.68 134.89,418.15 135.21,421.79 135.52,425.2 135.84,422.95 136.16,419.21 136.47,415.29 136.79,415.45 137.11,419.28 137.42,423.11 137.74,425.2 138.06,418.81 138.37,410.95 138.69,416.55 139.01,420.28 139.32,415.57 139.64,412.94 139.96,418.27 140.27,421.89 140.59,420.04 140.91,421.99 141.22,423.1 141.54,421.88 141.86,422.23 142.17,423.53 142.49,422.61 142.81,420.19 143.12,420.22 143.44,422.09 143.76,423.92 144.07,425.2 144.39,425.2 144.71,424.87 145.02,423.63 145.34,422.46 145.66,421.64 145.97,423.11 146.29,424.3 146.61,423.21 146.92,421.53 147.24,419.79 147.56,420.33 147.87,421.99 148.19,423.83 148.51,423.97 148.82,422.01 149.14,420.86 149.46,423.12 149.77,425.14 150.09,424.11 150.41,422.55 150.72,420.9 151.04,419.65 151.36,421.87 151.67,423.32 151.99,425.08 152.31,425.2 152.62,425.2 152.94,425.2 153.26,423.74 153.57,422.08 153.89,423.25 154.21,425.01 154.52,424.5 154.84,423.24 155.16,421.98 155.47,423.48 155.79,424.65 156.11,424.69 156.42,423.62 156.74,422.73 157.06,421.55 157.37,422.79 157.69,423.93 158.01,424.95 158.32,425.06 158.64,423.58 158.96,423.1 159.27,424.09 159.59,422.23 159.91,419.98 160.22,421.39 160.54,423.41 160.86,425.2 161.18,425.2 161.49,425.2 161.81,425.2 162.13,425.2 162.44,425.2 162.76,425.2 163.08,425.2 163.39,425.2 163.71,425.2 164.03,425.2 164.34,425.2 164.66,425.2 164.98,425.2 165.29,425.2 165.61,425.2 165.93,425.2 166.24,425.2 166.56,425.2 166.88,425.2 167.19,425.2 167.51,425.2 167.83,425.2 168.14,425.2 168.46,425.2 168.78,425.2 169.09,425.2 169.41,425.2 169.73,425.2 170.04,425.2 170.36,425.2 170.68,425.2 170.99,425.2 171.31,425.2 171.63,425.2 171.94,425.2 172.26,425.2 172.58,425.2 172.89,425.2 173.21,425.2 173.53,425.2 173.84,425.2 174.16,425.2 174.48,425.2 174.79,425.2 175.11,425.2 175.43,425.2 175.74,425.2 176.06,425.2 176.38,425.2 176.69,425.2 177.01,425.2 177.33,425.2 177.64,425.2 177.96,425.2 178.28,425.2 178.59,425.2 178.91,425.2 179.23,425.2 179.54,425.2 179.86,425.2 180.18,425.2 180.49,425.2 180.81,425.2 181.13,425.2 181.44,425.2 181.76,425.2 182.08,425.2 182.39,425.2 182.71,425.2 183.03,425.2 183.34,425.2 183.66,425.2 183.98,425.2 184.29,425.2 184.61,425.2 184.93,425.2 185.24,425.2 185.56,425.2 185.88,425.2 186.19,425.2 186.51,425.2 186.83,425.2 187.14,425.2 187.46,425.2 187.78,425.2 188.09,425.2 188.41,425.2 188.73,425.2 189.04,425.2 189.36,425.2 189.68,425.2 189.99,425.2 190.31,425.2 190.63,425.2 190.94,425.2 191.26,425.2 191.58,425.2 191.89,425.2 192.21,425.2 192.53,425.2 192.84,425.2 193.16,425.2 193.48,425.2 193.79,425.2 194.11,425.2 194.43,425.2 194.74,425.2 195.06,425.2 195.38,425.2 195.69,425.2 196.01,425.2 196.33,425.2 196.64,425.2 196.96,425.2 197.28,425.2 197.59,425.2 197.91,425.2 198.23,425.2 198.54,425.2 198.86,425.2 199.18,425.2 199.49,425.2 199.81,425.2 200.13,425.2 200.44,425.2 200.76,425.2 201.08,425.2 201.39,425.2 201.71,425.2 202.03,425.2 202.34,425.2 202.66,425.2 202.98,425.2 203.29,425.2" fill="none" stroke="#ee1c1c" stroke-width="1.2" stroke-linejoin="round" stroke-linecap="round" />
<polyline points="34.5,425.2 34.82,425.2 35.13,425.2 35.45,425.2 35.77,425.2 36.08,425.2 36.4,425.2 36.72,425.2 37.03,425.2 37.35,425.2 37.67,425.2 37.98,425.2 38.3,425.2 38.62,425.2 38.93,425.2 39.25,425.2 39.57,425.2 39.88,425.2 40.2,425.2 40.52,425.2 40.83,425.2 41.15,425.2 41.47,425.2 41.78,425.2 42.1,425.2 42.42,425.2 42.73,425.2 43.05,425.2 43.37,425.2 43.68,425.2 44,425.2 44.32,425.2 44.63,425.2 44.95,425.2 45.27,425.2 45.58,425.2 45.9,425.2 46.22,425.2 46.53,425.2 46.85,425.2 47.17,425.2 47.48,425.2 47.8,425.53 48.12,426.05 48.43,426.63 48.75,427.01 49.07,426.57 49.38,426.03 49.7,425.46 50.02,425.29 50.33,426.25 50.65,427.2 50.97,426.14 51.28,425.2 51.6,425.2 51.92,425.2 52.23,425.46 52.55,426.73 52.87,427.15 53.18,425.85 53.5,426.31 53.82,427.2 54.13,427.05 54.45,426.4 54.77,425.77 55.08,426.4 55.4,426.84 55.72,426.21 56.03,425.71 56.35,426.48 56.67,426.23 56.98,425.32 57.3,425.44 57.62,425.83 57.93,426.11 58.25,425.77 58.57,425.41 58.88,425.2 59.2,425.2 59.52,425.28 59.84,425.78 60.15,426.31 60.47,426.75 60.79,426.09 61.1,425.61 61.42,425.2 61.74,425.2 62.05,425.63 62.37,426.35 62.69,426.49 63,425.85 63.32,425.2 63.64,425.2 63.95,425.2 64.27,425.2 64.59,425.72 64.9,426.34 65.22,426.99 65.54,426.69 65.85,426.14 66.17,425.46 66.49,425.92 66.8,426.4 67.12,425.7 67.44,425.2 67.75,425.29 68.07,426.17 68.39,427.13 68.7,426.74 69.02,425.83 69.34,425.2 69.65,425.2 69.97,425.2 70.29,425.2 70.6,425.64 70.92,426.2 71.24,425.82 71.55,425.33 71.87,425.2 72.19,425.6 72.5,426.38 72.82,427.31 73.14,426.38 73.45,425.58 73.77,425.54 74.09,426.78 74.4,427 74.72,425.72 75.04,425.2 75.35,425.2 75.67,425.2 75.99,425.2 76.3,425.2 76.62,426.79 76.94,428.46 77.25,426.89 77.57,425.91 77.89,426.39 78.2,426.93 78.52,426.36 78.84,425.83 79.15,425.28 79.47,425.3 79.79,425.71 80.1,426.21 80.42,426.58 80.74,426 81.05,425.65 81.37,425.21 81.69,425.2 82,425.61 82.32,426.05 82.64,426.29 82.95,425.75 83.27,425.91 83.59,426.57 83.9,427.55 84.22,427.42 84.54,426.47 84.85,425.72 85.17,425.2 85.49,425.2 85.8,425.2 86.12,425.82 86.44,426.39 86.75,426.38 87.07,425.85 87.39,425.2 87.7,425.32 88.02,425.7 88.34,426.03 88.65,426.32 88.97,426.14 89.29,425.77 89.6,425.59 89.92,426.54 90.24,427.41 90.55,426.39 90.87,425.65 91.19,426.15 91.5,426.32 91.82,425.83 92.14,425.42 92.45,425.2 92.77,425.47 93.09,426.24 93.4,426.97 93.72,426.47 94.04,425.81 94.35,425.2 94.67,425.76 94.99,428.15 95.3,429.44 95.62,427.28 95.94,425.2 96.25,425.2 96.57,425.2 96.89,425.2 97.2,425.58 97.52,427.89 97.84,430.4 98.15,427.74 98.47,425.56 98.79,425.2 99.1,425.2 99.42,425.2 99.74,427.36 100.05,430.31 100.37,429.07 100.69,426.05 101,425.2 101.32,425.2 101.64,425.2 101.95,425.54 102.27,427.13 102.59,428.63 102.9,427.99 103.22,426.63 103.54,428.63 103.85,430.53 104.17,427.88 104.49,425.2 104.8,425.2 105.12,425.2 105.44,425.2 105.75,425.2 106.07,425.2 106.39,425.2 106.7,425.2 107.02,425.2 107.34,425.2 107.65,425.2 107.97,425.2 108.29,425.2 108.6,426.15 108.92,428 109.24,428.6 109.55,426.7 109.87,425.2 110.19,425.2 110.5,425.2 110.82,425.54 111.14,426.57 111.46,427.37 111.77,426.29 112.09,425.2 112.41,425.2 112.72,425.2 113.04,425.2 113.36,426.17 113.67,428.14 113.99,429.01 114.31,426.84 114.62,425.27 114.94,426.31 115.26,427.38 115.57,426.42 115.89,425.55 116.21,425.2 116.52,426.73 116.84,428.44 117.16,430.05 117.47,428.75 117.79,426.7 118.11,428.4 118.42,430.19 118.74,432.73 119.06,431.33 119.37,429.27 119.69,427.32 120.01,425.2 120.32,425.2 120.64,427.14 120.96,430.27 121.27,429.13 121.59,429.22 121.91,431.48 122.22,433.56 122.54,430.36 122.86,428.93 123.17,431.8 123.49,430.13 123.81,427.25 124.12,425.2 124.44,427.16 124.76,429.67 125.07,431.33 125.39,429.35 125.71,426.9 126.02,425.2 126.34,425.2 126.66,425.2 126.97,428.6 127.29,432.93 127.61,436.84 127.92,433.72 128.24,429.76 128.56,426.05 128.87,425.2 129.19,425.2 129.51,427.13 129.82,430.33 130.14,432.83 130.46,432.01 130.77,436.48 131.09,440.87 131.41,435.31 131.72,431.1 132.04,426.2 132.36,426.59 132.67,430.13 132.99,434.43 133.31,434.16 133.62,430.29 133.94,434.83 134.26,438.1 134.57,437 134.89,432.29 135.21,428.92 135.52,425.2 135.84,427.41 136.16,431.21 136.47,435.4 136.79,434.49 137.11,430.81 137.42,427.37 137.74,425.2 138.06,431.47 138.37,439.55 138.69,433.75 139.01,429.83 139.32,434.85 139.64,436.32 139.96,431.47 140.27,428.64 140.59,429.64 140.91,428.5 141.22,427.19 141.54,428.28 141.86,427.76 142.17,426.88 142.49,427.66 142.81,430.06 143.12,430.37 143.44,428.44 143.76,426.34 144.07,425.2 144.39,425.2 144.71,425.55 145.02,426.78 145.34,427.82 145.66,428.49 145.97,427.23 146.29,426.07 146.61,427.05 146.92,428.81 147.24,430.61 147.56,430.14 147.87,428.28 148.19,426.62 148.51,426.28 148.82,428.04 149.14,429.4 149.46,427.07 149.77,425.26 150.09,426.39 150.41,427.92 150.72,429.82 151.04,430.16 151.36,428.7 151.67,427.15 151.99,425.32 152.31,425.2 152.62,425.2 152.94,425.2 153.26,426.7 153.57,428.65 153.89,427.08 154.21,425.4 154.52,426.03 154.84,427.39 155.16,428.49 155.47,427.25 155.79,425.74 156.11,425.8 156.42,426.89 156.74,428.38 157.06,429.01 157.37,427.89 157.69,426.79 158.01,425.46 158.32,425.38 158.64,427.27 158.96,427.66 159.27,426.25 159.59,427.98 159.91,429.87 160.22,429.01 160.54,426.96 160.86,425.2 161.18,425.2 161.49,425.2 161.81,425.2 162.13,425.2 162.44,425.2 162.76,425.2 163.08,425.2 163.39,425.2 163.71,425.2 164.03,425.2 164.34,425.2 164.66,425.2 164.98,425.2 165.29,425.2 165.61,425.2 165.93,425.2 166.24,425.2 166.56,425.2 166.88,425.2 167.19,425.2 167.51,425.2 167.83,425.2 168.14,425.2 168.46,425.2 168.78,425.2 169.09,425.2 169.41,425.2 169.73,425.2 170.04,425.2 170.36,425.2 170.68,425.2 170.99,425.2 171.31,425.2 171.63,425.2 171.94,425.2 172.26,425.2 172.58,425.2 172.89,425.2 173.21,425.2 173.53,425.2 173.84,425.2 174.16,425.2 174.48,425.2 174.79,425.2 175.11,425.2 175.43,425.2 175.74,425.2 176.06,425.2 176.38,425.2 176.69,425.2 177.01,425.2 177.33,425.2 177.64,425.2 177.96,425.2 178.28,425.2 178.59,425.2 178.91,425.2 179.23,425.2 179.54,425.2 179.86,425.2 180.18,425.2 180.49,425.2 180.81,425.2 181.13,425.2 181.44,425.2 181.76,425.2 182.08,425.2 182.39,425.2 182.71,425.2 183.03,425.2 183.34,425.2 183.66,425.2 183.98,425.2 184.29,425.2 184.61,425.2 184.93,425.2 185.24,425.2 185.56,425.2 185.88,425.2 186.19,425.2 186.51,425.2 186.83,425.2 187.14,425.2 187.46,425.2 187.78,425.2 188.09,425.2 188.41,425.2 188.73,425.2 189.04,425.2 189.36,425.2 189.68,425.2 189.99,425.2 190.31,425.2 190.63,425.2 190.94,425.2 191.26,425.2 191.58,425.2 191.89,425.2 192.21,425.2 192.53,425.2 192.84,425.2 193.16,425.2 193.48,425.2 193.79,425.2 194.11,425.2 194.43,425.2 194.74,425.2 195.06,425.2 195.38,425.2 195.69,425.2 196.01,425.2 196.33,425.2 196.64,425.2 196.96,425.2 197.28,425.2 197.59,425.2 197.91,425.2 198.23,425.2 198.54,425.2 198.86,425.2 199.18,425.2 199.49,425.2 199.81,425.2 200.13,425.2 200.44,425.2 200.76,425.2 201.08,425.2 201.39,425.2 201.71,425.2 202.03,425.2 202.34,425.2 202.66,425.2 202.98,425.2 203.29,425.2" fill="none" stroke="#ee1c1c" stroke-width="1.2" stroke-linejoin="round" stroke-linecap="round" />
<line x1="34.5" y1="494.9" x2="203.4" y2="494.9" stroke="#2f6f82" stroke-width="1.3"/>
<polyline points="34.5,494.9 34.82,494.9 35.13,494.9 35.45,494.9 35.77,494.9 36.08,494.9 36.4,494.9 36.72,494.9 37.03,494.9 37.35,494.9 37.67,494.9 37.98,494.9 38.3,494.9 38.62,494.9 38.93,494.9 39.25,494.9 39.57,494.9 39.88,494.9 40.2,494.9 40.52,494.9 40.83,494.9 41.15,494.9 41.47,494.9 41.78,494.9 42.1,494.9 42.42,494.9 42.73,494.9 43.05,494.9 43.37,494.9 43.68,494.9 44,494.9 44.32,494.9 44.63,494.9 44.95,494.9 45.27,494.9 45.58,494.9 45.9,494.9 46.22,494.9 46.53,494.9 46.85,494.44 47.17,493.24 47.48,492.13 47.8,491.93 48.12,493.03 48.43,493.45 48.75,492.35 49.07,493.47 49.38,494.63 49.7,494.9 50.02,494.9 50.33,493.93 50.65,492.66 50.97,491.43 51.28,492.84 51.6,493.87 51.92,493.58 52.23,492.28 52.55,493.35 52.87,492.35 53.18,491.49 53.5,492.57 53.82,493.67 54.13,494.89 54.45,493.75 54.77,488.8 55.08,489.31 55.4,494.11 55.72,494.9 56.03,494.9 56.35,494.9 56.67,494.9 56.98,494.33 57.3,490.96 57.62,489.97 57.93,493.15 58.25,494.9 58.57,494.9 58.88,494.9 59.2,494.9 59.52,494.18 59.84,492.61 60.15,491.2 60.47,492.39 60.79,494.08 61.1,494.9 61.42,491.88 61.74,488.71 62.05,491.42 62.37,492.76 62.69,491.3 63,490.98 63.32,492.59 63.64,493.59 63.95,493.95 64.27,491.39 64.59,488.97 64.9,490.47 65.22,491.44 65.54,489.71 65.85,489.05 66.17,490.39 66.49,492.36 66.8,493.67 67.12,492.27 67.44,490.96 67.75,492.37 68.07,493.46 68.39,493.04 68.7,491.67 69.02,493.13 69.34,494.41 69.65,494.9 69.97,494.9 70.29,494.9 70.6,494.62 70.92,491.97 71.24,491.54 71.55,494.01 71.87,494.9 72.19,494.9 72.5,493.32 72.82,491.14 73.14,490.45 73.45,492.46 73.77,494.45 74.09,494.9 74.4,494.9 74.72,493.95 75.04,492.42 75.35,490.93 75.67,491.96 75.99,493.5 76.3,494.9 76.62,494.9 76.94,494.86 77.25,493.11 77.57,491.6 77.89,492.57 78.2,494.13 78.52,494.9 78.84,494.9 79.15,494.9 79.47,494.9 79.79,492.05 80.1,489.35 80.42,491.35 80.74,494.39 81.05,494.9 81.37,492.66 81.69,489.36 82,486.18 82.32,489.58 82.64,492.9 82.95,490.43 83.27,486.95 83.59,489.12 83.9,492.69 84.22,494.9 84.54,494.9 84.85,494.9 85.17,494.15 85.49,489.47 85.8,488.43 86.12,493.75 86.44,494.9 86.75,494.9 87.07,494.9 87.39,494.5 87.7,492.09 88.02,489.96 88.34,492.37 88.65,491.16 88.97,489.35 89.29,488.64 89.6,490.85 89.92,492.57 90.24,492.5 90.55,490.8 90.87,491.35 91.19,492.82 91.5,494.03 91.82,494.9 92.14,494.01 92.45,492.6 92.77,491.42 93.09,492.39 93.4,493.62 93.72,494.9 94.04,494.04 94.35,492.9 94.67,491.8 94.99,490.81 95.3,492.18 95.62,493.05 95.94,491.9 96.25,490.78 96.57,492.15 96.89,493.15 97.2,494.35 97.52,494.9 97.84,494.9 98.15,493.71 98.47,491.83 98.79,489.99 99.1,490.41 99.42,492.46 99.74,494.21 100.05,494.9 100.37,494.9 100.69,494.9 101,494.9 101.32,494.9 101.64,494.9 101.95,494.9 102.27,494.9 102.59,494.9 102.9,494.9 103.22,494.9 103.54,494.9 103.85,494.9 104.17,494.9 104.49,494.9 104.8,494.9 105.12,494.9 105.44,494.9 105.75,494.78 106.07,493.84 106.39,492.91 106.7,491.96 107.02,492.87 107.34,493.58 107.65,491.56 107.97,489.8 108.29,491.67 108.6,493.88 108.92,494.52 109.24,492.46 109.55,490.71 109.87,490.08 110.19,492.04 110.5,494.13 110.82,494.9 111.14,494.9 111.46,494.26 111.77,492.29 112.09,490.82 112.41,489.65 112.72,491.54 113.04,492.95 113.36,494.86 113.67,494.9 113.99,494.9 114.31,494.9 114.62,494.9 114.94,494.9 115.26,494.9 115.57,494.9 115.89,494.26 116.21,493.34 116.52,492.26 116.84,492.9 117.16,493.9 117.47,494.53 117.79,493.68 118.11,492.49 118.42,492.76 118.74,493.77 119.06,494.7 119.37,494.9 119.69,494.2 120.01,493.3 120.32,492.38 120.64,492.18 120.96,493.11 121.27,494.13 121.59,494.9 121.91,494.9 122.22,494.9 122.54,494.9 122.86,494.9 123.17,494.9 123.49,494.9 123.81,494.9 124.12,494.33 124.44,492.83 124.76,491.14 125.07,492.43 125.39,494.04 125.71,494.01 126.02,493.33 126.34,492.42 126.66,492.84 126.97,493.68 127.29,494.35 127.61,494.9 127.92,494.16 128.24,492.49 128.56,492.35 128.87,494.18 129.19,494.9 129.51,494.9 129.82,494.9 130.14,494.11 130.46,492.82 130.77,492.81 131.09,493.96 131.41,494.9 131.72,494.35 132.04,492.45 132.36,491.78 132.67,493.88 132.99,494.29 133.31,493.02 133.62,492.01 133.94,491.49 134.26,492.91 134.57,493.9 134.89,494.9 135.21,494.9 135.52,494.9 135.84,494.9 136.16,493.79 136.47,492.5 136.79,493.9 137.11,494.9 137.42,494.67 137.74,493.88 138.06,493.23 138.37,493.12 138.69,493.67 139.01,494.04 139.32,493.13 139.64,492.69 139.96,492.75 140.27,493.55 140.59,494.3 140.91,494.24 141.22,492.97 141.54,492.9 141.86,494.17 142.17,493.78 142.49,492.34 142.81,490.37 143.12,492.05 143.44,493.87 143.76,493.33 144.07,491.97 144.39,492.61 144.71,493.78 145.02,493.57 145.34,492.87 145.66,492.2 145.97,492.86 146.29,493.74 146.61,493.21 146.92,492.35 147.24,492.36 147.56,493.33 147.87,494.31 148.19,494.67 148.51,493.64 148.82,492.86 149.14,491.77 149.46,492.05 149.77,492.98 150.09,494.01 150.41,494.9 150.72,494.18 151.04,493.27 151.36,492.45 151.67,492.97 151.99,493.64 152.31,494.54 152.62,494.9 152.94,493.78 153.26,492.72 153.57,492.99 153.89,494.24 154.21,494.45 154.52,493.08 154.84,491.9 155.16,493.45 155.47,494.85 155.79,494.9 156.11,494.86 156.42,494.22 156.74,493.42 157.06,492.64 157.37,492.85 157.69,493.6 158.01,494.25 158.32,492.95 158.64,492.02 158.96,490.56 159.27,492.03 159.59,493.28 159.91,494.47 160.22,494.9 160.54,494.9 160.86,494.9 161.18,494.9 161.49,494.9 161.81,494.9 162.13,494.9 162.44,494.9 162.76,494.9 163.08,494.9 163.39,494.9 163.71,494.9 164.03,494.9 164.34,494.9 164.66,494.9 164.98,494.9 165.29,494.9 165.61,494.9 165.93,494.9 166.24,494.9 166.56,494.9 166.88,494.9 167.19,494.9 167.51,494.9 167.83,494.9 168.14,494.9 168.46,494.9 168.78,494.9 169.09,494.9 169.41,494.9 169.73,494.9 170.04,494.9 170.36,494.9 170.68,494.9 170.99,494.9 171.31,494.9 171.63,494.9 171.94,494.9 172.26,494.9 172.58,494.9 172.89,494.9 173.21,494.9 173.53,494.9 173.84,494.9 174.16,494.9 174.48,494.9 174.79,494.9 175.11,494.9 175.43,494.9 175.74,494.9 176.06,494.9 176.38,494.9 176.69,494.9 177.01,494.9 177.33,494.9 177.64,494.9 177.96,494.9 178.28,494.9 178.59,494.9 178.91,494.9 179.23,494.9 179.54,494.9 179.86,494.9 180.18,494.9 180.49,494.9 180.81,494.9 181.13,494.9 181.44,494.9 181.76,494.9 182.08,494.9 182.39,494.9 182.71,494.9 183.03,494.9 183.34,494.9 183.66,494.9 183.98,494.9 184.29,494.9 184.61,494.9 184.93,494.9 185.24,494.9 185.56,494.9 185.88,494.9 186.19,494.9 186.51,494.9 186.83,494.9 187.14,494.9 187.46,494.9 187.78,494.9 188.09,494.9 188.41,494.9 188.73,494.9 189.04,494.9 189.36,494.9 189.68,494.9 189.99,494.9 190.31,494.9 190.63,494.9 190.94,494.9 191.26,494.9 191.58,494.9 191.89,494.9 192.21,494.9 192.53,494.9 192.84,494.9 193.16,494.9 193.48,494.9 193.79,494.9 194.11,494.9 194.43,494.9 194.74,494.9 195.06,494.9 195.38,494.9 195.69,494.9 196.01,494.9 196.33,494.9 196.64,494.9 196.96,494.9 197.28,494.9 197.59,494.9 197.91,494.9 198.23,494.9 198.54,494.9 198.86,494.9 199.18,494.9 199.49,494.9 199.81,494.9 200.13,494.9 200.44,494.9 200.76,494.9 201.08,494.9 201.39,494.9 201.71,494.9 202.03,494.9 202.34,494.9 202.66,494.9 202.98,494.9 203.29,494.9" fill="none" stroke="#2f6f82" stroke-width="1.2" stroke-linejoin="round" stroke-linecap="round" />
<polyline points="34.5,494.9 34.82,494.9 35.13,494.9 35.45,494.9 35.77,494.9 36.08,494.9 36.4,494.9 36.72,494.9 37.03,494.9 37.35,494.9 37.67,494.9 37.98,494.9 38.3,494.9 38.62,494.9 38.93,494.9 39.25,494.9 39.57,494.9 39.88,494.9 40.2,494.9 40.52,494.9 40.83,494.9 41.15,494.9 41.47,494.9 41.78,494.9 42.1,494.9 42.42,494.9 42.73,494.9 43.05,494.9 43.37,494.9 43.68,494.9 44,494.9 44.32,494.9 44.63,494.9 44.95,494.9 45.27,494.9 45.58,494.9 45.9,494.9 46.22,494.9 46.53,494.9 46.85,495.34 47.17,496.48 47.48,497.56 47.8,497.72 48.12,496.63 48.43,496.55 48.75,497.64 49.07,496.61 49.38,495.17 49.7,494.9 50.02,494.9 50.33,495.88 50.65,496.99 50.97,498.15 51.28,497.23 51.6,495.84 51.92,496.14 52.23,497.57 52.55,496.55 52.87,497.41 53.18,498.49 53.5,497.57 53.82,496.09 54.13,494.91 54.45,495.96 54.77,500.56 55.08,500.08 55.4,495.64 55.72,494.9 56.03,494.9 56.35,494.9 56.67,494.9 56.98,495.51 57.3,499.24 57.62,500.73 57.93,496.88 58.25,494.9 58.57,494.9 58.88,494.9 59.2,494.9 59.52,495.64 59.84,497.08 60.15,498.69 60.47,497.41 60.79,495.71 61.1,494.9 61.42,497.92 61.74,501.08 62.05,498.32 62.37,497.1 62.69,498.64 63,499.1 63.32,497.38 63.64,496.17 63.95,495.9 64.27,498.36 64.59,500.56 64.9,499.56 65.22,498.26 65.54,500.05 65.85,500.5 66.17,499.05 66.49,497.1 66.8,496.24 67.12,497.69 67.44,498.76 67.75,497.76 68.07,496.29 68.39,496.99 68.7,498.19 69.02,496.8 69.34,495.37 69.65,494.9 69.97,494.9 70.29,494.9 70.6,495.21 70.92,497.73 71.24,498.23 71.55,495.82 71.87,494.9 72.19,494.9 72.5,496.62 72.82,498.74 73.14,499.4 73.45,497.66 73.77,495.37 74.09,494.9 74.4,494.9 74.72,495.81 75.04,497.31 75.35,498.92 75.67,498.13 75.99,496.31 76.3,494.9 76.62,494.9 76.94,494.94 77.25,496.85 77.57,498.78 77.89,497.45 78.2,495.75 78.52,494.9 78.84,494.9 79.15,494.9 79.47,494.9 79.79,497.44 80.1,500.12 80.42,498.01 80.74,495.43 81.05,494.9 81.37,497.12 81.69,500.87 82,504.29 82.32,500.28 82.64,497.01 82.95,498.68 83.27,502.43 83.59,500.34 83.9,496.96 84.22,494.9 84.54,494.9 84.85,494.9 85.17,495.59 85.49,500.69 85.8,500.53 86.12,495.96 86.44,494.9 86.75,494.9 87.07,494.9 87.39,495.32 87.7,497.47 88.02,499.62 88.34,497.25 88.65,498.95 88.97,500.68 89.29,501.02 89.6,499.23 89.92,497.05 90.24,497.78 90.55,499.37 90.87,498.66 91.19,497.43 91.5,495.82 91.82,494.9 92.14,495.75 92.45,497.43 92.77,498.84 93.09,497.8 93.4,496.19 93.72,494.9 94.04,495.79 94.35,497.09 94.67,498.18 94.99,499.2 95.3,498.07 95.62,496.65 95.94,498 96.25,499.32 96.57,497.98 96.89,496.65 97.2,495.38 97.52,494.9 97.84,494.9 98.15,496.19 98.47,497.94 98.79,499.85 99.1,499.34 99.42,497.36 99.74,495.62 100.05,494.9 100.37,494.9 100.69,494.9 101,494.9 101.32,494.9 101.64,494.9 101.95,494.9 102.27,494.9 102.59,494.9 102.9,494.9 103.22,494.9 103.54,494.9 103.85,494.9 104.17,494.9 104.49,494.9 104.8,494.9 105.12,494.9 105.44,494.9 105.75,495.05 106.07,496.13 106.39,497.36 106.7,497.89 107.02,497.1 107.34,495.99 107.65,498.12 107.97,499.85 108.29,497.91 108.6,495.83 108.92,495.3 109.24,497.15 109.55,499.35 109.87,499.34 110.19,497.61 110.5,495.67 110.82,494.9 111.14,494.9 111.46,495.5 111.77,497.33 112.09,499.1 112.41,500.35 112.72,498.21 113.04,496.66 113.36,494.93 113.67,494.9 113.99,494.9 114.31,494.9 114.62,494.9 114.94,494.9 115.26,494.9 115.57,494.9 115.89,495.6 116.21,496.4 116.52,497.55 116.84,496.89 117.16,495.79 117.47,495.2 117.79,496.18 118.11,497.01 118.42,496.75 118.74,495.9 119.06,495.1 119.37,494.9 119.69,495.61 120.01,496.54 120.32,497.54 120.64,497.73 120.96,496.64 121.27,495.62 121.59,494.9 121.91,494.9 122.22,494.9 122.54,494.9 122.86,494.9 123.17,494.9 123.49,494.9 123.81,494.9 124.12,495.42 124.44,496.81 124.76,498.2 125.07,497.05 125.39,495.65 125.71,495.83 126.02,496.52 126.34,497.52 126.66,497.08 126.97,496.29 127.29,495.5 127.61,494.9 127.92,495.58 128.24,497.47 128.56,497.57 128.87,495.6 129.19,494.9 129.51,494.9 129.82,494.9 130.14,495.65 130.46,496.93 130.77,497.28 131.09,495.9 131.41,494.9 131.72,495.41 132.04,497.05 132.36,497.5 132.67,495.85 132.99,495.57 133.31,496.71 133.62,497.58 133.94,497.92 134.26,496.95 134.57,495.79 134.89,494.9 135.21,494.9 135.52,494.9 135.84,494.9 136.16,496.19 136.47,497.64 136.79,495.94 137.11,494.9 137.42,495.15 137.74,495.93 138.06,496.49 138.37,496.76 138.69,496.18 139.01,495.75 139.32,496.35 139.64,497.03 139.96,496.72 140.27,496.04 140.59,495.42 140.91,495.59 141.22,496.73 141.54,496.76 141.86,495.64 142.17,495.85 142.49,497.57 142.81,498.9 143.12,497.56 143.44,495.92 143.76,496.62 144.07,497.87 144.39,497.34 144.71,496.14 145.02,496.31 145.34,497.33 145.66,497.88 145.97,497.07 146.29,496.03 146.61,496.67 146.92,497.74 147.24,497.41 147.56,496.53 147.87,495.47 148.19,495.13 148.51,496.2 148.82,497.06 149.14,497.95 149.46,497.59 149.77,496.73 150.09,495.78 150.41,494.9 150.72,495.59 151.04,496.47 151.36,497.12 151.67,497.09 151.99,496.15 152.31,495.3 152.62,494.9 152.94,495.89 153.26,497.23 153.57,496.56 153.89,495.6 154.21,495.32 154.52,496.59 154.84,497.63 155.16,496.22 155.47,494.94 155.79,494.9 156.11,494.94 156.42,495.7 156.74,496.44 157.06,497 157.37,497.06 157.69,496.45 158.01,495.7 158.32,496.81 158.64,497.99 158.96,498.85 159.27,497.62 159.59,496.51 159.91,495.3 160.22,494.9 160.54,494.9 160.86,494.9 161.18,494.9 161.49,494.9 161.81,494.9 162.13,494.9 162.44,494.9 162.76,494.9 163.08,494.9 163.39,494.9 163.71,494.9 164.03,494.9 164.34,494.9 164.66,494.9 164.98,494.9 165.29,494.9 165.61,494.9 165.93,494.9 166.24,494.9 166.56,494.9 166.88,494.9 167.19,494.9 167.51,494.9 167.83,494.9 168.14,494.9 168.46,494.9 168.78,494.9 169.09,494.9 169.41,494.9 169.73,494.9 170.04,494.9 170.36,494.9 170.68,494.9 170.99,494.9 171.31,494.9 171.63,494.9 171.94,494.9 172.26,494.9 172.58,494.9 172.89,494.9 173.21,494.9 173.53,494.9 173.84,494.9 174.16,494.9 174.48,494.9 174.79,494.9 175.11,494.9 175.43,494.9 175.74,494.9 176.06,494.9 176.38,494.9 176.69,494.9 177.01,494.9 177.33,494.9 177.64,494.9 177.96,494.9 178.28,494.9 178.59,494.9 178.91,494.9 179.23,494.9 179.54,494.9 179.86,494.9 180.18,494.9 180.49,494.9 180.81,494.9 181.13,494.9 181.44,494.9 181.76,494.9 182.08,494.9 182.39,494.9 182.71,494.9 183.03,494.9 183.34,494.9 183.66,494.9 183.98,494.9 184.29,494.9 184.61,494.9 184.93,494.9 185.24,494.9 185.56,494.9 185.88,494.9 186.19,494.9 186.51,494.9 186.83,494.9 187.14,494.9 187.46,494.9 187.78,494.9 188.09,494.9 188.41,494.9 188.73,494.9 189.04,494.9 189.36,494.9 189.68,494.9 189.99,494.9 190.31,494.9 190.63,494.9 190.94,494.9 191.26,494.9 191.58,494.9 191.89,494.9 192.21,494.9 192.53,494.9 192.84,494.9 193.16,494.9 193.48,494.9 193.79,494.9 194.11,494.9 194.43,494.9 194.74,494.9 195.06,494.9 195.38,494.9 195.69,494.9 196.01,494.9 196.33,494.9 196.64,494.9 196.96,494.9 197.28,494.9 197.59,494.9 197.91,494.9 198.23,494.9 198.54,494.9 198.86,494.9 199.18,494.9 199.49,494.9 199.81,494.9 200.13,494.9 200.44,494.9 200.76,494.9 201.08,494.9 201.39,494.9 201.71,494.9 202.03,494.9 202.34,494.9 202.66,494.9 202.98,494.9 203.29,494.9" fill="none" stroke="#2f6f82" stroke-width="1.2" stroke-linejoin="round" stroke-linecap="round" />
<line x1="118.95" y1="390.3" x2="118.95" y2="530.3" stroke="#333" stroke-width="1.2" stroke-dasharray="2 1.6"/>
<ellipse cx="118.75" cy="427.2" rx="4.6" ry="17" fill="none" stroke="#666" stroke-width="1.3"/>
<ellipse cx="118.95" cy="492.4" rx="4.6" ry="17.5" fill="none" stroke="#666" stroke-width="1.3"/>
<line x1="34.5" y1="460.4" x2="203.4" y2="460.4" stroke="#bbb" stroke-width="0.9"/>
<rect x="34.5" y="390.3" width="168.9" height="140" fill="none" stroke="#111" stroke-width="1.1"/>
<path d="M34.5,451.38 h1.3 M34.5,442.65 h2.2 M34.5,433.92 h1.3 M34.5,425.2 h2.2 M34.5,416.48 h1.3 M34.5,407.75 h2.2 M34.5,399.02 h1.3 M34.5,390.3 h2.2 M34.5,529.8 h2.2 M34.5,521.07 h1.3 M34.5,512.35 h2.2 M34.5,503.62 h1.3 M34.5,494.9 h2.2 M34.5,486.17 h1.3 M34.5,477.45 h2.2 M34.5,468.73 h1.3 M34.5,460 h2.2 M34.5,530.3 v-2.2 M45.06,530.3 v-1.3 M55.61,530.3 v-2.2 M66.17,530.3 v-1.3 M76.72,530.3 v-2.2 M87.28,530.3 v-1.3 M97.84,530.3 v-2.2 M108.39,530.3 v-1.3 M118.95,530.3 v-2.2 M129.51,530.3 v-1.3 M140.06,530.3 v-2.2 M150.62,530.3 v-1.3 M161.18,530.3 v-2.2 M171.73,530.3 v-1.3 M182.29,530.3 v-2.2 M192.84,530.3 v-1.3 M203.4,530.3 v-2.2" stroke="#111" stroke-width="0.8"/>
<text x="32.3" y="393.7" font-family="Liberation Serif" font-size="10" font-weight="bold" fill="#111" text-anchor="end" textLength="14.2" lengthAdjust="spacingAndGlyphs">100</text>
<text x="32.3" y="411.15" font-family="Liberation Serif" font-size="10" font-weight="bold" fill="#111" text-anchor="end" textLength="9.6" lengthAdjust="spacingAndGlyphs">50</text>
<text x="32.3" y="428.6" font-family="Liberation Serif" font-size="10" font-weight="bold" fill="#111" text-anchor="end" textLength="4.8" lengthAdjust="spacingAndGlyphs">0</text>
<text x="32.3" y="446.05" font-family="Liberation Serif" font-size="10" font-weight="bold" fill="#111" text-anchor="end" textLength="13.0" lengthAdjust="spacingAndGlyphs">-50</text>
<text x="32.3" y="463.5" font-family="Liberation Serif" font-size="10" font-weight="bold" fill="#111" text-anchor="end" textLength="17.599999999999998" lengthAdjust="spacingAndGlyphs">-100</text>
<text x="32.3" y="480.85" font-family="Liberation Serif" font-size="10" font-weight="bold" fill="#111" text-anchor="end" textLength="9.6" lengthAdjust="spacingAndGlyphs">50</text>
<text x="32.3" y="498.3" font-family="Liberation Serif" font-size="10" font-weight="bold" fill="#111" text-anchor="end" textLength="4.8" lengthAdjust="spacingAndGlyphs">0</text>
<text x="32.3" y="515.75" font-family="Liberation Serif" font-size="10" font-weight="bold" fill="#111" text-anchor="end" textLength="13.0" lengthAdjust="spacingAndGlyphs">-50</text>
<text x="32.3" y="533.2" font-family="Liberation Serif" font-size="10" font-weight="bold" fill="#111" text-anchor="end" textLength="17.599999999999998" lengthAdjust="spacingAndGlyphs">-100</text>
<text x="32.9" y="539.3" font-family="Liberation Serif" font-size="10.2" font-weight="bold" fill="#111" text-anchor="middle">-8</text>
<text x="54.01" y="539.3" font-family="Liberation Serif" font-size="10.2" font-weight="bold" fill="#111" text-anchor="middle">-6</text>
<text x="75.12" y="539.3" font-family="Liberation Serif" font-size="10.2" font-weight="bold" fill="#111" text-anchor="middle">-4</text>
<text x="96.24" y="539.3" font-family="Liberation Serif" font-size="10.2" font-weight="bold" fill="#111" text-anchor="middle">-2</text>
<text x="118.95" y="539.3" font-family="Liberation Serif" font-size="10.2" font-weight="bold" fill="#111" text-anchor="middle">0</text>
<text x="140.06" y="539.3" font-family="Liberation Serif" font-size="10.2" font-weight="bold" fill="#111" text-anchor="middle">2</text>
<text x="161.18" y="539.3" font-family="Liberation Serif" font-size="10.2" font-weight="bold" fill="#111" text-anchor="middle">4</text>
<text x="182.29" y="539.3" font-family="Liberation Serif" font-size="10.2" font-weight="bold" fill="#111" text-anchor="middle">6</text>
<text x="203.4" y="539.3" font-family="Liberation Serif" font-size="10.2" font-weight="bold" fill="#111" text-anchor="middle">8</text>
<text transform="translate(10.9,514) rotate(-90)" font-family="Liberation Serif" font-size="12" font-weight="bold" fill="#111" textLength="100" lengthAdjust="spacingAndGlyphs">DOS (electrons/eV)</text>
<line x1="174.5" y1="398.8" x2="187.6" y2="398.8" stroke="#ee1c1c" stroke-width="1.5"/>
<text x="191.6" y="402.6" font-family="Liberation Serif" font-size="10.5" font-weight="bold" fill="#111" text-anchor="start" >V</text>
<line x1="172" y1="472" x2="185.2" y2="472" stroke="#2f6f82" stroke-width="1.5"/>
<text x="188.5" y="475.8" font-family="Liberation Serif" font-size="10" font-weight="bold" fill="#111" text-anchor="start" >Se</text>
<text x="40.8" y="521.9" font-family="Liberation Serif" font-size="9.8" font-weight="bold" fill="#111" text-anchor="start" >1T-VSe<tspan font-size="7" dy="2">2</tspan><tspan dy="-2">-MXene</tspan></text>
<text x="115.3" y="548.6" font-family="Liberation Serif" font-size="12" font-weight="bold" fill="#111" text-anchor="middle" >Energy (eV)</text>
<text x="224.2" y="401.5" font-family="Liberation Sans" font-size="20.5" fill="#000" ></text>
<text transform="translate(251.6,506) rotate(-90)" font-family="Liberation Serif" font-size="11.5" font-weight="bold" fill="#111" textLength="102" lengthAdjust="spacingAndGlyphs">DOS (electrons/eV)</text>
<line x1="273.2" y1="424.7" x2="441.6" y2="424.7" stroke="#ee1c1c" stroke-width="1.3"/>
<polyline points="273.2,424.7 273.52,424.7 273.83,424.7 274.15,424.7 274.46,424.7 274.78,424.7 275.09,424.7 275.41,424.7 275.73,424.7 276.04,424.7 276.36,424.7 276.67,424.7 276.99,424.7 277.3,424.7 277.62,424.7 277.94,424.7 278.25,424.7 278.57,424.7 278.88,424.7 279.2,424.7 279.51,424.7 279.83,424.7 280.15,424.7 280.46,424.7 280.78,424.7 281.09,424.7 281.41,424.7 281.73,424.7 282.04,424.7 282.36,424.7 282.67,424.7 282.99,424.7 283.3,424.7 283.62,424.7 283.94,424.7 284.25,424.7 284.57,424.7 284.88,424.7 285.2,424.7 285.51,424.7 285.83,424.7 286.15,424.7 286.46,424.7 286.78,424.7 287.09,424.7 287.41,424.7 287.72,424.7 288.04,424.7 288.36,424.7 288.67,424.7 288.99,424.7 289.3,424.7 289.62,424.7 289.93,424.7 290.25,424.7 290.57,424.7 290.88,424.7 291.2,424.7 291.51,424.7 291.83,424.7 292.14,424.7 292.46,424.7 292.78,424.7 293.09,424.7 293.41,424.7 293.72,424.7 294.04,424.7 294.36,424.7 294.67,424.7 294.99,424.7 295.3,424.7 295.62,424.7 295.93,424.25 296.25,423.58 296.57,422.69 296.88,423.19 297.2,423.75 297.51,424.51 297.83,424.7 298.14,424.13 298.46,423.4 298.78,422.74 299.09,422.93 299.41,423.55 299.72,424.22 300.04,424.7 300.35,424.7 300.67,424.7 300.99,424.7 301.3,424.7 301.62,423.96 301.93,423.61 302.25,424.35 302.56,424.7 302.88,424.7 303.2,424.7 303.51,424.7 303.83,424.7 304.14,424.54 304.46,424.23 304.77,423.88 305.09,423.69 305.41,424.02 305.72,424.35 306.04,424.69 306.35,424.5 306.67,424.24 306.99,423.92 307.3,423.79 307.62,424.01 307.93,424.28 308.25,424.54 308.56,424.7 308.88,424.7 309.2,424.7 309.51,424.7 309.83,424.7 310.14,424.15 310.46,423.52 310.77,423.34 311.09,424.13 311.41,424.7 311.72,424.7 312.04,423.7 312.35,422.13 312.67,421.03 312.98,422.51 313.3,424.3 313.62,424.7 313.93,424.7 314.25,424.7 314.56,424.7 314.88,424.7 315.19,424.7 315.51,424.27 315.83,423.78 316.14,423.26 316.46,423.01 316.77,423.62 317.09,424.1 317.4,424.58 317.72,424.7 318.04,424.7 318.35,424.7 318.67,424.52 318.98,423.58 319.3,422.7 319.62,422.77 319.93,423.75 320.25,424.62 320.56,424.6 320.88,422.68 321.19,421.22 321.51,422.41 321.83,424.34 322.14,424.7 322.46,424.26 322.77,423.13 323.09,421.72 323.4,420.43 323.72,421.64 324.04,422.76 324.35,424.04 324.67,424.7 324.98,424.7 325.3,424.7 325.61,424.7 325.93,423.3 326.25,419.48 326.56,419.63 326.88,423.27 327.19,424.7 327.51,424.7 327.82,424.7 328.14,424.7 328.46,424.7 328.77,424.7 329.09,424.62 329.4,423.45 329.72,422.49 330.03,421.17 330.35,421.47 330.67,422.61 330.98,423.6 331.3,424.7 331.61,424.7 331.93,424.7 332.25,423.69 332.56,421.98 332.88,419.84 333.19,421.49 333.51,423.5 333.82,424.7 334.14,424.7 334.46,424.7 334.77,424.7 335.09,424.7 335.4,424.7 335.72,424.7 336.03,424.7 336.35,424.7 336.67,423.55 336.98,420.96 337.3,421.55 337.61,424.51 337.93,424.7 338.24,424.7 338.56,424.7 338.88,424.7 339.19,424.7 339.51,424.7 339.82,424.7 340.14,424.7 340.45,424.7 340.77,423.99 341.09,422.83 341.4,421.71 341.72,423.04 342.03,423.98 342.35,424.7 342.66,424.7 342.98,424.7 343.3,424.7 343.61,424.7 343.93,424.7 344.24,424.26 344.56,423.58 344.88,422.71 345.19,423.25 345.51,423.83 345.82,424.56 346.14,424.7 346.45,424.7 346.77,424.7 347.09,424.7 347.4,424.7 347.72,424.34 348.03,423.33 348.35,423.18 348.66,424.08 348.98,424.7 349.3,424.7 349.61,424.7 349.93,424.7 350.24,424.7 350.56,424.7 350.87,424.7 351.19,424.7 351.51,424.27 351.82,423.47 352.14,422.63 352.45,422.8 352.77,423.68 353.08,424.52 353.4,424.7 353.72,422.73 354.03,420.05 354.35,418.04 354.66,417.75 354.98,420.34 355.3,423.01 355.61,424.7 355.93,424.7 356.24,424.7 356.56,424.7 356.87,424.26 357.19,422.01 357.51,420.15 357.82,417.95 358.14,419.04 358.45,421 358.77,423.05 359.08,424.7 359.4,424.7 359.72,422.68 360.03,420 360.35,417.69 360.66,416.41 360.98,418.23 361.29,420.63 361.61,423.59 361.93,424.7 362.24,424.7 362.56,423.61 362.87,418.38 363.19,411.68 363.5,418.14 363.82,423.86 364.14,424.7 364.45,422.97 364.77,420.32 365.08,418.23 365.4,417.04 365.71,420.14 366.03,422.3 366.35,424.7 366.66,424.7 366.98,424.7 367.29,424.7 367.61,424.7 367.93,414.85 368.24,408.87 368.56,418.75 368.87,424.7 369.19,424.7 369.5,424.7 369.82,424.7 370.14,421.28 370.45,415.12 370.77,414.78 371.08,420.47 371.4,414.44 371.71,409.54 372.03,410.27 372.35,415.22 372.66,420.79 372.98,424.7 373.29,424.7 373.61,419.06 373.92,411.63 374.24,407.55 374.56,414.53 374.87,421.01 375.19,422.1 375.5,419.16 375.82,416.5 376.13,416.85 376.45,419.85 376.77,422.81 377.08,424.7 377.4,424.7 377.71,424.7 378.03,424.7 378.34,423.08 378.66,420.54 378.98,417.66 379.29,419.64 379.61,422.25 379.92,424.62 380.24,424.7 380.56,424.7 380.87,423.86 381.19,420.55 381.5,417.14 381.82,420.09 382.13,423.88 382.45,421.92 382.77,419.06 383.08,416.96 383.4,416.62 383.71,419.45 384.03,422.24 384.34,424.7 384.66,424.7 384.98,424.7 385.29,424.7 385.61,422.25 385.92,419.54 386.24,417.14 386.55,416.82 386.87,420.03 387.19,422.57 387.5,424.7 387.82,423.26 388.13,421.33 388.45,419.51 388.76,417.66 389.08,419.57 389.4,421.89 389.71,423.79 390.03,424.7 390.34,423.2 390.66,420.81 390.97,421.69 391.29,424.34 391.61,424.7 391.92,424.7 392.24,424.7 392.55,424.38 392.87,422.84 393.19,421.41 393.5,420 393.82,420.81 394.13,422.37 394.45,423.74 394.76,424.7 395.08,424.7 395.4,424.7 395.71,424.7 396.03,424.7 396.34,424.7 396.66,424.7 396.97,424.7 397.29,424.7 397.61,424.7 397.92,424.7 398.24,424.7 398.55,424.7 398.87,424.7 399.18,424.7 399.5,424.7 399.82,424.7 400.13,424.7 400.45,424.7 400.76,424.7 401.08,424.7 401.39,424.7 401.71,424.7 402.03,424.7 402.34,424.7 402.66,424.7 402.97,424.7 403.29,424.7 403.6,424.7 403.92,424.7 404.24,424.7 404.55,424.7 404.87,424.7 405.18,424.7 405.5,424.7 405.81,424.7 406.13,424.7 406.45,424.7 406.76,424.7 407.08,424.7 407.39,424.7 407.71,424.7 408.03,424.7 408.34,424.7 408.66,424.7 408.97,424.7 409.29,424.7 409.6,424.7 409.92,424.7 410.24,424.7 410.55,424.7 410.87,424.7 411.18,424.7 411.5,424.7 411.81,424.7 412.13,424.7 412.45,424.7 412.76,424.7 413.08,424.7 413.39,424.7 413.71,424.7 414.02,424.7 414.34,424.7 414.66,424.7 414.97,424.7 415.29,424.28 415.6,423.81 415.92,423.56 416.23,424.05 416.55,424.51 416.87,424.7 417.18,424.69 417.5,424.26 417.81,423.75 418.13,423.88 418.44,424.31 418.76,424.7 419.08,424.7 419.39,424.7 419.71,424.7 420.02,424.7 420.34,424.45 420.66,424.12 420.97,423.8 421.29,424.09 421.6,424.36 421.92,424.63 422.23,424.7 422.55,424.7 422.87,424.7 423.18,424.7 423.5,424.7 423.81,424.7 424.13,424.68 424.44,423.54 424.76,423.02 425.08,424.27 425.39,424.7 425.71,424.7 426.02,424.18 426.34,423.16 426.65,423.22 426.97,424.19 427.29,424.7 427.6,424.7 427.92,424.7 428.23,424.34 428.55,423.51 428.86,423.06 429.18,423.82 429.5,424.58 429.81,424.7 430.13,424.7 430.44,424.64 430.76,424.27 431.08,423.91 431.39,423.55 431.71,423.69 432.02,424.02 432.34,424.42 432.65,424.7 432.97,424.7 433.29,424.7 433.6,424.27 433.92,423.86 434.23,423.41 434.55,423.14 434.86,423.7 435.18,424.15 435.5,424.59 435.81,424.7 436.13,424.7 436.44,424.7 436.76,424.53 437.07,424.05 437.39,423.56 437.71,423.34 438.02,423.78 438.34,424.22 438.65,424.7 438.97,424.7 439.28,424.63 439.6,423.99 439.92,423.36 440.23,423.15 440.55,423.82 440.86,424.45 441.18,424.7 441.49,424.7" fill="none" stroke="#ee1c1c" stroke-width="1.2" stroke-linejoin="round" stroke-linecap="round" />
<polyline points="273.2,424.7 273.52,424.7 273.83,424.7 274.15,424.7 274.46,424.7 274.78,424.7 275.09,424.7 275.41,424.7 275.73,424.7 276.04,424.7 276.36,424.7 276.67,424.7 276.99,424.7 277.3,424.7 277.62,424.7 277.94,424.7 278.25,424.7 278.57,424.7 278.88,424.7 279.2,424.7 279.51,424.7 279.83,424.7 280.15,424.7 280.46,424.7 280.78,424.7 281.09,424.7 281.41,424.7 281.73,424.7 282.04,424.7 282.36,424.7 282.67,424.7 282.99,424.7 283.3,424.7 283.62,424.7 283.94,424.7 284.25,424.7 284.57,424.7 284.88,424.7 285.2,424.7 285.51,424.7 285.83,424.7 286.15,424.7 286.46,424.7 286.78,424.7 287.09,424.7 287.41,424.7 287.72,424.7 288.04,424.7 288.36,424.7 288.67,424.7 288.99,424.7 289.3,424.7 289.62,424.7 289.93,424.7 290.25,424.7 290.57,424.7 290.88,424.7 291.2,424.7 291.51,424.7 291.83,424.7 292.14,424.7 292.46,424.7 292.78,424.7 293.09,424.7 293.41,424.7 293.72,424.7 294.04,424.7 294.36,424.7 294.67,424.7 294.99,424.7 295.3,424.7 295.62,424.7 295.93,425.1 296.25,425.67 296.57,426.21 296.88,426.01 297.2,425.52 297.51,424.87 297.83,424.7 298.14,425.23 298.46,425.81 298.78,426.36 299.09,426.15 299.41,425.64 299.72,425.11 300.04,424.7 300.35,424.7 300.67,424.7 300.99,424.7 301.3,424.7 301.62,425.46 301.93,425.9 302.25,425.08 302.56,424.7 302.88,424.7 303.2,424.7 303.51,424.7 303.83,424.7 304.14,424.86 304.46,425.22 304.77,425.63 305.09,425.8 305.41,425.44 305.72,425.08 306.04,424.71 306.35,425.02 306.67,425.54 306.99,426.08 307.3,426.38 307.62,425.93 307.93,425.49 308.25,424.99 308.56,424.7 308.88,424.7 309.2,424.7 309.51,424.7 309.83,424.7 310.14,425.49 310.46,426.34 310.77,426.64 311.09,425.56 311.41,424.7 311.72,424.7 312.04,425.33 312.35,426.49 312.67,426.96 312.98,425.93 313.3,424.93 313.62,424.7 313.93,424.7 314.25,424.7 314.56,424.7 314.88,424.7 315.19,424.7 315.51,425.22 315.83,425.99 316.14,426.54 316.46,426.75 316.77,426.13 317.09,425.46 317.4,424.83 317.72,424.7 318.04,424.7 318.35,424.7 318.67,424.85 318.98,425.54 319.3,426.25 319.62,426.35 319.93,425.46 320.25,424.76 320.56,424.8 320.88,426.47 321.19,428.38 321.51,426.79 321.83,425.05 322.14,424.7 322.46,425.1 322.77,426.24 323.09,427.42 323.4,428.04 323.72,427.23 324.04,426.41 324.35,425.24 324.67,424.7 324.98,424.7 325.3,424.7 325.61,424.7 325.93,426.05 326.25,429.14 326.56,429.24 326.88,425.9 327.19,424.7 327.51,424.7 327.82,424.7 328.14,424.7 328.46,424.7 328.77,424.7 329.09,424.82 329.4,426.78 329.72,428.23 330.03,430.49 330.35,429.92 330.67,428.02 330.98,426.51 331.3,424.7 331.61,424.7 331.93,424.7 332.25,425.62 332.56,427.75 332.88,429.37 333.19,427.87 333.51,425.8 333.82,424.7 334.14,424.7 334.46,424.7 334.77,424.7 335.09,424.7 335.4,424.7 335.72,424.7 336.03,424.7 336.35,424.7 336.67,425.48 336.98,427.63 337.3,427.08 337.61,424.85 337.93,424.7 338.24,424.7 338.56,424.7 338.88,424.7 339.19,424.7 339.51,424.7 339.82,424.7 340.14,424.7 340.45,424.7 340.77,425.38 341.09,426.58 341.4,427.63 341.72,426.54 342.03,425.39 342.35,424.7 342.66,424.7 342.98,424.7 343.3,424.7 343.61,424.7 343.93,424.7 344.24,425.26 344.56,426.23 344.88,427.14 345.19,426.63 345.51,425.79 345.82,424.87 346.14,424.7 346.45,424.7 346.77,424.7 347.09,424.7 347.4,424.7 347.72,425.15 348.03,426.29 348.35,426.6 348.66,425.41 348.98,424.7 349.3,424.7 349.61,424.7 349.93,424.7 350.24,424.7 350.56,424.7 350.87,424.7 351.19,424.7 351.51,425.11 351.82,425.8 352.14,426.56 352.45,426.54 352.77,425.61 353.08,424.88 353.4,424.7 353.72,426.08 354.03,428.01 354.35,430.52 354.66,430.34 354.98,427.83 355.3,426.04 355.61,424.7 355.93,424.7 356.24,424.7 356.56,424.7 356.87,425.21 357.19,427.74 357.51,430.08 357.82,432.61 358.14,431.49 358.45,428.66 358.77,426.53 359.08,424.7 359.4,424.7 359.72,426.33 360.03,428.7 360.35,430.44 360.66,432.25 360.98,429.98 361.29,427.63 361.61,425.68 361.93,424.7 362.24,424.7 362.56,426.09 362.87,433.7 363.19,441.39 363.5,433.44 363.82,425.83 364.14,424.7 364.45,427.79 364.77,431.86 365.08,436.93 365.4,438.27 365.71,433.47 366.03,428.35 366.35,424.7 366.66,424.7 366.98,424.7 367.29,424.7 367.61,424.7 367.93,431.96 368.24,437.06 368.56,429.15 368.87,424.7 369.19,424.7 369.5,424.7 369.82,424.7 370.14,427.11 370.45,431.87 370.77,431.24 371.08,427.77 371.4,432.23 371.71,436.23 372.03,436.99 372.35,431.63 372.66,427.6 372.98,424.7 373.29,424.7 373.61,430.33 373.92,436.07 374.24,441.11 374.56,434.15 374.87,427.85 375.19,428.84 375.5,432.74 375.82,436.37 376.13,435.02 376.45,431.72 376.77,427.7 377.08,424.7 377.4,424.7 377.71,424.7 378.03,424.7 378.34,426.61 378.66,429.73 378.98,433.05 379.29,431.04 379.61,427.9 379.92,424.81 380.24,424.7 380.56,424.7 380.87,425.56 381.19,429.73 381.5,433.67 381.82,429.46 382.13,425.6 382.45,426.44 382.77,427.86 383.08,429.7 383.4,429.39 383.71,427.57 384.03,426.2 384.34,424.7 384.66,424.7 384.98,424.7 385.29,424.7 385.61,426.83 385.92,429.03 386.24,432.33 386.55,431.97 386.87,429.69 387.19,427.03 387.5,424.7 387.82,426.61 388.13,428.95 388.45,432.03 388.76,433.73 389.08,430.78 389.4,428.35 389.71,426.01 390.03,424.7 390.34,425.86 390.66,427.9 390.97,427.18 391.29,425.01 391.61,424.7 391.92,424.7 392.24,424.7 392.55,425.14 392.87,427.4 393.19,429.59 393.5,431.4 393.82,430.24 394.13,428.04 394.45,426 394.76,424.7 395.08,424.7 395.4,424.7 395.71,424.7 396.03,424.7 396.34,424.7 396.66,424.7 396.97,424.7 397.29,424.7 397.61,424.7 397.92,424.7 398.24,424.7 398.55,424.7 398.87,424.7 399.18,424.7 399.5,424.7 399.82,424.7 400.13,424.7 400.45,424.7 400.76,424.7 401.08,424.7 401.39,424.7 401.71,424.7 402.03,424.7 402.34,424.7 402.66,424.7 402.97,424.7 403.29,424.7 403.6,424.7 403.92,424.7 404.24,424.7 404.55,424.7 404.87,424.7 405.18,424.7 405.5,424.7 405.81,424.7 406.13,424.7 406.45,424.7 406.76,424.7 407.08,424.7 407.39,424.7 407.71,424.7 408.03,424.7 408.34,424.7 408.66,424.7 408.97,424.7 409.29,424.7 409.6,424.7 409.92,424.7 410.24,424.7 410.55,424.7 410.87,424.7 411.18,424.7 411.5,424.7 411.81,424.7 412.13,424.7 412.45,424.7 412.76,424.7 413.08,424.7 413.39,424.7 413.71,424.7 414.02,424.7 414.34,424.7 414.66,424.7 414.97,424.7 415.29,425.06 415.6,425.56 415.92,425.75 416.23,425.31 416.55,424.88 416.87,424.7 417.18,424.71 417.5,425.37 417.81,426.05 418.13,425.86 418.44,425.27 418.76,424.7 419.08,424.7 419.39,424.7 419.71,424.7 420.02,424.7 420.34,425.23 420.66,425.79 420.97,426.4 421.29,426.01 421.6,425.35 421.92,424.82 422.23,424.7 422.55,424.7 422.87,424.7 423.18,424.7 423.5,424.7 423.81,424.7 424.13,424.72 424.44,425.65 424.76,426.04 425.08,425.06 425.39,424.7 425.71,424.7 426.02,425.21 426.34,426.22 426.65,426.17 426.97,425.23 427.29,424.7 427.6,424.7 427.92,424.7 428.23,424.91 428.55,425.39 428.86,425.76 429.18,425.23 429.5,424.78 429.81,424.7 430.13,424.7 430.44,424.75 430.76,425.08 431.08,425.43 431.39,425.84 431.71,425.65 432.02,425.28 432.34,424.98 432.65,424.7 432.97,424.7 433.29,424.7 433.6,425 433.92,425.31 434.23,425.64 434.55,425.66 434.86,425.45 435.18,425.1 435.5,424.77 435.81,424.7 436.13,424.7 436.44,424.7 436.76,424.89 437.07,425.51 437.39,426.13 437.71,426.69 438.02,425.97 438.34,425.34 438.65,424.7 438.97,424.7 439.28,424.76 439.6,425.41 439.92,426.09 440.23,426.1 440.55,425.52 440.86,424.93 441.18,424.7 441.49,424.7" fill="none" stroke="#ee1c1c" stroke-width="1.2" stroke-linejoin="round" stroke-linecap="round" />
<line x1="273.2" y1="494.3" x2="441.6" y2="494.3" stroke="#2f6f82" stroke-width="1.3"/>
<polyline points="273.2,494.3 273.52,494.3 273.83,494.3 274.15,494.3 274.46,494.3 274.78,494.3 275.09,494.3 275.41,494.3 275.73,494.3 276.04,494.3 276.36,494.3 276.67,494.3 276.99,494.3 277.3,494.3 277.62,494.3 277.94,494.3 278.25,494.3 278.57,494.3 278.88,494.3 279.2,494.3 279.51,494.3 279.83,494.3 280.15,494.3 280.46,494.3 280.78,494.3 281.09,494.3 281.41,494.3 281.73,494.3 282.04,494.3 282.36,494.3 282.67,494.3 282.99,494.3 283.3,494.3 283.62,494.3 283.94,494.3 284.25,494.3 284.57,494.3 284.88,494.3 285.2,494.3 285.51,494.3 285.83,494.3 286.15,494.3 286.46,494.3 286.78,494.3 287.09,494.3 287.41,494.3 287.72,494.3 288.04,494.3 288.36,494.3 288.67,494.3 288.99,494.3 289.3,494.3 289.62,494.3 289.93,494.3 290.25,494.3 290.57,494.3 290.88,494.3 291.2,494.3 291.51,494.3 291.83,494.3 292.14,494.3 292.46,494.3 292.78,494.3 293.09,494.3 293.41,494.3 293.72,494.3 294.04,494.3 294.36,494.3 294.67,494.3 294.99,494.3 295.3,494.3 295.62,494.3 295.93,494.3 296.25,494.3 296.57,494.3 296.88,493.03 297.2,491.65 297.51,493.33 297.83,494.3 298.14,494.3 298.46,494.06 298.78,493.16 299.09,492.42 299.41,491.78 299.72,492.68 300.04,493.71 300.35,494.3 300.67,494.3 300.99,494.3 301.3,494.3 301.62,494.3 301.93,494.3 302.25,493.94 302.56,492.98 302.88,492.14 303.2,491.38 303.51,491.7 303.83,492.65 304.14,493.62 304.46,494.3 304.77,494.3 305.09,494.3 305.41,494.3 305.72,492.92 306.04,491.13 306.35,489.08 306.67,489.77 306.99,491.64 307.3,493.64 307.62,494.3 307.93,494.3 308.25,494.3 308.56,494.3 308.88,494.22 309.2,493.48 309.51,492.81 309.83,491.96 310.14,492.52 310.46,493.08 310.77,493.81 311.09,494.3 311.41,494.1 311.72,493.29 312.04,492.22 312.35,491.44 312.67,492.08 312.98,493.01 313.3,493.83 313.62,494.3 313.93,494.3 314.25,494.3 314.56,494.3 314.88,494.3 315.19,493.39 315.51,490.05 315.83,485.66 316.14,485.91 316.46,489.76 316.77,493.1 317.09,494.3 317.4,494.3 317.72,494.3 318.04,494.3 318.35,493.03 318.67,491.58 318.98,489.96 319.3,488.85 319.62,490.83 319.93,492.17 320.25,493.77 320.56,494.3 320.88,494.3 321.19,494.3 321.51,494.3 321.83,494.3 322.14,492.2 322.46,488.87 322.77,485.27 323.09,486.6 323.4,489.53 323.72,493.16 324.04,494.3 324.35,494.3 324.67,494.3 324.98,494.3 325.3,494.3 325.61,494.3 325.93,494.3 326.25,491.28 326.56,487.56 326.88,489.03 327.19,492.98 327.51,494.3 327.82,494.3 328.14,494.3 328.46,494.3 328.77,493.59 329.09,492.52 329.4,491.27 329.72,490.47 330.03,491.52 330.35,492.7 330.67,493.87 330.98,494.3 331.3,494.3 331.61,494.3 331.93,492.96 332.25,490.9 332.56,488.66 332.88,489.5 333.19,491.38 333.51,493.6 333.82,494.3 334.14,494.3 334.46,492.8 334.77,490.85 335.09,488.63 335.4,489.98 335.72,492.12 336.03,494.03 336.35,493.01 336.67,491.98 336.98,491.24 337.3,492.32 337.61,493.47 337.93,494.3 338.24,493.06 338.56,490.86 338.88,489.64 339.19,491.87 339.51,493.9 339.82,494.3 340.14,494.3 340.45,493.97 340.77,492.57 341.09,490.95 341.4,489.81 341.72,490.49 342.03,491.46 342.35,493.06 342.66,494.3 342.98,494.3 343.3,493.92 343.61,493.35 343.93,492.81 344.24,492.27 344.56,492.84 344.88,493.52 345.19,494.09 345.51,494.3 345.82,494.3 346.14,494.3 346.45,494.3 346.77,493.3 347.09,492.11 347.4,491.71 347.72,493.19 348.03,494.3 348.35,494.3 348.66,494.11 348.98,493.4 349.3,492.56 349.61,492.63 349.93,493.51 350.24,494.15 350.56,494.3 350.87,494.3 351.19,494.3 351.51,494.3 351.82,494.3 352.14,494.3 352.45,494.3 352.77,494.3 353.08,494.3 353.4,494.3 353.72,494.3 354.03,494.3 354.35,494.3 354.66,494.3 354.98,494.3 355.3,493.24 355.61,492.06 355.93,493.14 356.24,494.3 356.56,494.3 356.87,494.3 357.19,494.3 357.51,494.3 357.82,494.3 358.14,494.3 358.45,494.3 358.77,493.62 359.08,492.54 359.4,491.47 359.72,492.46 360.03,493.57 360.35,492.89 360.66,491.95 360.98,490.95 361.29,491.31 361.61,492.26 361.93,493.24 362.24,494.27 362.56,494.3 362.87,494.3 363.19,493.66 363.5,492.03 363.82,490.88 364.14,490.86 364.45,492.03 364.77,493.69 365.08,494.3 365.4,494.3 365.71,494.3 366.03,494.3 366.35,494.3 366.66,494.3 366.98,493.03 367.29,491.48 367.61,490.19 367.93,491.01 368.24,492.71 368.56,493.87 368.87,492.67 369.19,491.54 369.5,491.42 369.82,492.45 370.14,493.67 370.45,494.3 370.77,493.91 371.08,492.2 371.4,490.47 371.71,491.24 372.03,492.98 372.35,494.3 372.66,493.42 372.98,491.27 373.29,489.58 373.61,491.42 373.92,493.6 374.24,494.3 374.56,493.99 374.87,493.24 375.19,492.3 375.5,491.68 375.82,492.41 376.13,493.21 376.45,493.94 376.77,494.3 377.08,494.27 377.4,493.37 377.71,492.62 378.03,492.42 378.34,493.33 378.66,494.15 378.98,494.3 379.29,494.3 379.61,493.24 379.92,492.04 380.24,490.77 380.56,490.21 380.87,491.68 381.19,492.86 381.5,493.23 381.82,492.36 382.13,491.43 382.45,491.79 382.77,492.79 383.08,493.66 383.4,494.3 383.71,494.02 384.03,492.47 384.34,491.12 384.66,492.06 384.98,493.28 385.29,494.3 385.61,494.3 385.92,494.3 386.24,494.3 386.55,494.3 386.87,494.3 387.19,494.3 387.5,492.92 387.82,491.31 388.13,491.98 388.45,493.53 388.76,494.3 389.08,494.3 389.4,494.17 389.71,493.51 390.03,492.78 390.34,492.51 390.66,493.02 390.97,493.74 391.29,494.3 391.61,494.3 391.92,494.3 392.24,494.3 392.55,494.3 392.87,494.3 393.19,494.3 393.5,494.3 393.82,493.15 394.13,491.01 394.45,491.98 394.76,494.25 395.08,494.3 395.4,494.3 395.71,494.3 396.03,494.3 396.34,494.3 396.66,494.3 396.97,494.3 397.29,494.3 397.61,494.3 397.92,494.3 398.24,494.3 398.55,494.3 398.87,494.3 399.18,494.3 399.5,494.3 399.82,494.3 400.13,494.3 400.45,494.3 400.76,494.3 401.08,494.3 401.39,494.3 401.71,494.3 402.03,494.3 402.34,494.3 402.66,494.3 402.97,494.3 403.29,494.3 403.6,494.3 403.92,494.3 404.24,494.3 404.55,494.3 404.87,494.3 405.18,494.3 405.5,494.3 405.81,494.3 406.13,494.3 406.45,494.3 406.76,494.3 407.08,494.3 407.39,494.3 407.71,494.3 408.03,494.3 408.34,494.3 408.66,494.3 408.97,494.3 409.29,494.3 409.6,494.3 409.92,494.3 410.24,494.3 410.55,494.3 410.87,494.3 411.18,494.3 411.5,494.3 411.81,494.3 412.13,494.3 412.45,494.3 412.76,494.3 413.08,494.3 413.39,494.3 413.71,494.3 414.02,494.3 414.34,494.3 414.66,494.3 414.97,494.3 415.29,494.3 415.6,494.3 415.92,494.3 416.23,493.74 416.55,492.78 416.87,493.52 417.18,494.21 417.5,493.72 417.81,493.29 418.13,492.81 418.44,492.82 418.76,493.28 419.08,493.8 419.39,494.26 419.71,494.3 420.02,494.06 420.34,493.26 420.66,492.95 420.97,493.77 421.29,494.3 421.6,494.3 421.92,494.3 422.23,494.3 422.55,494.3 422.87,494.3 423.18,494.3 423.5,494.3 423.81,494.3 424.13,493.4 424.44,492.38 424.76,493.6 425.08,494.3 425.39,494.3 425.71,494.3 426.02,494.3 426.34,494.3 426.65,494.3 426.97,494 427.29,493.64 427.6,493.39 427.92,493.44 428.23,493.8 428.55,494.09 428.86,494.3 429.18,494.3 429.5,494.3 429.81,494.2 430.13,493.83 430.44,493.33 430.76,492.88 431.08,493.3 431.39,493.71 431.71,494.12 432.02,494.3 432.34,494.27 432.65,493.66 432.97,493.19 433.29,493.71 433.6,494.3 433.92,494.3 434.23,494.3 434.55,494.3 434.86,494.3 435.18,493.75 435.5,493.23 435.81,492.51 436.13,492.89 436.44,493.35 436.76,493.92 437.07,494.21 437.39,493.8 437.71,493.31 438.02,492.98 438.34,493.23 438.65,493.63 438.97,494.04 439.28,494.3 439.6,494.3 439.92,494.3 440.23,493.94 440.55,493.03 440.86,492.76 441.18,493.66 441.49,494.3" fill="none" stroke="#2f6f82" stroke-width="1.2" stroke-linejoin="round" stroke-linecap="round" />
<polyline points="273.2,494.3 273.52,494.3 273.83,494.3 274.15,494.3 274.46,494.3 274.78,494.3 275.09,494.3 275.41,494.3 275.73,494.3 276.04,494.3 276.36,494.3 276.67,494.3 276.99,494.3 277.3,494.3 277.62,494.3 277.94,494.3 278.25,494.3 278.57,494.3 278.88,494.3 279.2,494.3 279.51,494.3 279.83,494.3 280.15,494.3 280.46,494.3 280.78,494.3 281.09,494.3 281.41,494.3 281.73,494.3 282.04,494.3 282.36,494.3 282.67,494.3 282.99,494.3 283.3,494.3 283.62,494.3 283.94,494.3 284.25,494.3 284.57,494.3 284.88,494.3 285.2,494.3 285.51,494.3 285.83,494.3 286.15,494.3 286.46,494.3 286.78,494.3 287.09,494.3 287.41,494.3 287.72,494.3 288.04,494.3 288.36,494.3 288.67,494.3 288.99,494.3 289.3,494.3 289.62,494.3 289.93,494.3 290.25,494.3 290.57,494.3 290.88,494.3 291.2,494.3 291.51,494.3 291.83,494.3 292.14,494.3 292.46,494.3 292.78,494.3 293.09,494.3 293.41,494.3 293.72,494.3 294.04,494.3 294.36,494.3 294.67,494.3 294.99,494.3 295.3,494.3 295.62,494.3 295.93,494.3 296.25,494.3 296.57,494.3 296.88,496.56 297.2,499.48 297.51,496.18 297.83,494.3 298.14,494.3 298.46,494.57 298.78,495.68 299.09,496.86 299.41,497.31 299.72,495.99 300.04,495 300.35,494.3 300.67,494.3 300.99,494.3 301.3,494.3 301.62,494.3 301.93,494.3 302.25,494.7 302.56,495.56 302.88,496.57 303.2,497.62 303.51,496.89 303.83,495.97 304.14,494.97 304.46,494.3 304.77,494.3 305.09,494.3 305.41,494.3 305.72,495.66 306.04,497.92 306.35,499.25 306.67,498.64 306.99,496.89 307.3,494.99 307.62,494.3 307.93,494.3 308.25,494.3 308.56,494.3 308.88,494.42 309.2,495.48 309.51,496.76 309.83,497.65 310.14,497.52 310.46,496.13 310.77,495.08 311.09,494.3 311.41,494.56 311.72,495.86 312.04,496.75 312.35,498.27 312.67,497.03 312.98,496.02 313.3,494.89 313.62,494.3 313.93,494.3 314.25,494.3 314.56,494.3 314.88,494.3 315.19,495.12 315.51,498.43 315.83,501.71 316.14,501.56 316.46,498.33 316.77,495.4 317.09,494.3 317.4,494.3 317.72,494.3 318.04,494.3 318.35,495.46 318.67,497.1 318.98,498.23 319.3,499.48 319.62,497.74 319.93,496.51 320.25,494.84 320.56,494.3 320.88,494.3 321.19,494.3 321.51,494.3 321.83,494.3 322.14,495.52 322.46,497.93 322.77,500.11 323.09,499.53 323.4,497 323.72,495.02 324.04,494.3 324.35,494.3 324.67,494.3 324.98,494.3 325.3,494.3 325.61,494.3 325.93,494.3 326.25,496.21 326.56,498.75 326.88,497.84 327.19,495.21 327.51,494.3 327.82,494.3 328.14,494.3 328.46,494.3 328.77,495.3 329.09,496.84 329.4,498.35 329.72,499.77 330.03,498.04 330.35,496.7 330.67,494.93 330.98,494.3 331.3,494.3 331.61,494.3 331.93,496.18 332.25,498.67 332.56,502.33 332.88,501.6 333.19,498 333.51,495.28 333.82,494.3 334.14,494.3 334.46,495.59 334.77,497.66 335.09,499.6 335.4,498.37 335.72,496.17 336.03,494.61 336.35,495.65 336.67,497.02 336.98,497.68 337.3,496.27 337.61,495.21 337.93,494.3 338.24,495.31 338.56,496.7 338.88,497.88 339.19,496.34 339.51,494.58 339.82,494.3 340.14,494.3 340.45,494.56 340.77,495.6 341.09,496.96 341.4,497.84 341.72,497.63 342.03,496.41 342.35,495.35 342.66,494.3 342.98,494.3 343.3,494.64 343.61,495.32 343.93,496.01 344.24,496.53 344.56,495.71 344.88,495.1 345.19,494.53 345.51,494.3 345.82,494.3 346.14,494.3 346.45,494.3 346.77,495.24 347.09,496.55 347.4,496.67 347.72,495.45 348.03,494.3 348.35,494.3 348.66,494.65 348.98,495.88 349.3,497.21 349.61,497.3 349.93,495.97 350.24,494.56 350.56,494.3 350.87,494.3 351.19,494.3 351.51,494.3 351.82,494.3 352.14,494.3 352.45,494.3 352.77,494.3 353.08,494.3 353.4,494.3 353.72,494.3 354.03,494.3 354.35,494.3 354.66,494.3 354.98,494.3 355.3,495.12 355.61,496.19 355.93,495.35 356.24,494.3 356.56,494.3 356.87,494.3 357.19,494.3 357.51,494.3 357.82,494.3 358.14,494.3 358.45,494.3 358.77,494.88 359.08,495.92 359.4,497.08 359.72,495.99 360.03,494.96 360.35,495.73 360.66,496.98 360.98,497.86 361.29,497.63 361.61,496.69 361.93,495.51 362.24,494.33 362.56,494.3 362.87,494.3 363.19,494.81 363.5,495.88 363.82,496.95 364.14,497.31 364.45,495.89 364.77,494.82 365.08,494.3 365.4,494.3 365.71,494.3 366.03,494.3 366.35,494.3 366.66,494.3 366.98,495.54 367.29,497.45 367.61,499.18 367.93,497.83 368.24,495.97 368.56,494.65 368.87,495.66 369.19,496.59 369.5,496.75 369.82,495.83 370.14,494.85 370.45,494.3 370.77,494.59 371.08,495.89 371.4,497.08 371.71,496.38 372.03,495.37 372.35,494.3 372.66,494.81 372.98,496.25 373.29,497.16 373.61,496.14 373.92,494.71 374.24,494.3 374.56,494.55 374.87,495.29 375.19,496.08 375.5,496.6 375.82,495.91 376.13,495.35 376.45,494.59 376.77,494.3 377.08,494.34 377.4,495.25 377.71,496.15 378.03,496.27 378.34,495.41 378.66,494.44 378.98,494.3 379.29,494.3 379.61,495.34 379.92,496.83 380.24,498.01 380.56,498.12 380.87,497.09 381.19,495.85 381.5,495.03 381.82,495.69 382.13,496.46 382.45,496.06 382.77,495.37 383.08,494.72 383.4,494.3 383.71,494.61 384.03,496.33 384.34,497.85 384.66,497.17 384.98,495.47 385.29,494.3 385.61,494.3 385.92,494.3 386.24,494.3 386.55,494.3 386.87,494.3 387.19,494.3 387.5,495.29 387.82,496.57 388.13,496.33 388.45,494.93 388.76,494.3 389.08,494.3 389.4,494.44 389.71,495.11 390.03,495.75 390.34,496.14 390.66,495.66 390.97,494.86 391.29,494.3 391.61,494.3 391.92,494.3 392.24,494.3 392.55,494.3 392.87,494.3 393.19,494.3 393.5,494.3 393.82,495.45 394.13,497.23 394.45,496.5 394.76,494.35 395.08,494.3 395.4,494.3 395.71,494.3 396.03,494.3 396.34,494.3 396.66,494.3 396.97,494.3 397.29,494.3 397.61,494.3 397.92,494.3 398.24,494.3 398.55,494.3 398.87,494.3 399.18,494.3 399.5,494.3 399.82,494.3 400.13,494.3 400.45,494.3 400.76,494.3 401.08,494.3 401.39,494.3 401.71,494.3 402.03,494.3 402.34,494.3 402.66,494.3 402.97,494.3 403.29,494.3 403.6,494.3 403.92,494.3 404.24,494.3 404.55,494.3 404.87,494.3 405.18,494.3 405.5,494.3 405.81,494.3 406.13,494.3 406.45,494.3 406.76,494.3 407.08,494.3 407.39,494.3 407.71,494.3 408.03,494.3 408.34,494.3 408.66,494.3 408.97,494.3 409.29,494.3 409.6,494.3 409.92,494.3 410.24,494.3 410.55,494.3 410.87,494.3 411.18,494.3 411.5,494.3 411.81,494.3 412.13,494.3 412.45,494.3 412.76,494.3 413.08,494.3 413.39,494.3 413.71,494.3 414.02,494.3 414.34,494.3 414.66,494.3 414.97,494.3 415.29,494.3 415.6,494.3 415.92,494.3 416.23,495.02 416.55,496.11 416.87,495.19 417.18,494.4 417.5,494.96 417.81,495.49 418.13,495.93 418.44,496.04 418.76,495.4 419.08,494.87 419.39,494.35 419.71,494.3 420.02,494.5 420.34,495.24 420.66,495.45 420.97,494.73 421.29,494.3 421.6,494.3 421.92,494.3 422.23,494.3 422.55,494.3 422.87,494.3 423.18,494.3 423.5,494.3 423.81,494.3 424.13,495.02 424.44,495.82 424.76,494.8 425.08,494.3 425.39,494.3 425.71,494.3 426.02,494.3 426.34,494.3 426.65,494.3 426.97,494.81 427.29,495.33 427.6,495.76 427.92,495.77 428.23,495.18 428.55,494.64 428.86,494.3 429.18,494.3 429.5,494.3 429.81,494.41 430.13,494.83 430.44,495.27 430.76,495.8 431.08,495.36 431.39,494.97 431.71,494.49 432.02,494.3 432.34,494.35 432.65,495.22 432.97,496.02 433.29,495.12 433.6,494.3 433.92,494.3 434.23,494.3 434.55,494.3 434.86,494.3 435.18,494.94 435.5,495.58 435.81,496.27 436.13,496.05 436.44,495.41 436.76,494.74 437.07,494.4 437.39,494.87 437.71,495.36 438.02,495.97 438.34,495.57 438.65,495.09 438.97,494.63 439.28,494.3 439.6,494.3 439.92,494.3 440.23,494.56 440.55,495.17 440.86,495.39 441.18,494.7 441.49,494.3" fill="none" stroke="#2f6f82" stroke-width="1.2" stroke-linejoin="round" stroke-linecap="round" />
<line x1="357.4" y1="390.2" x2="357.4" y2="529.2" stroke="#333" stroke-width="1.2" stroke-dasharray="2 1.6"/>
<ellipse cx="357.2" cy="426.7" rx="4.6" ry="17" fill="none" stroke="#666" stroke-width="1.3"/>
<ellipse cx="357.4" cy="491.8" rx="4.6" ry="17.5" fill="none" stroke="#666" stroke-width="1.3"/>
<line x1="273.2" y1="459.4" x2="441.6" y2="459.4" stroke="#333" stroke-width="0.9"/>
<rect x="273.2" y="390.2" width="168.4" height="139" fill="none" stroke="#111" stroke-width="1.1"/>
<path d="M273.2,450.57 h1.3 M273.2,441.95 h2.2 M273.2,433.32 h1.3 M273.2,424.7 h2.2 M273.2,416.07 h1.3 M273.2,407.45 h2.2 M273.2,398.82 h1.3 M273.2,390.2 h2.2 M273.2,528.8 h2.2 M273.2,520.17 h1.3 M273.2,511.55 h2.2 M273.2,502.93 h1.3 M273.2,494.3 h2.2 M273.2,485.68 h1.3 M273.2,477.05 h2.2 M273.2,468.43 h1.3 M273.2,459.8 h2.2 M273.2,529.2 v-2.2 M283.72,529.2 v-1.3 M294.25,529.2 v-2.2 M304.77,529.2 v-1.3 M315.3,529.2 v-2.2 M325.82,529.2 v-1.3 M336.35,529.2 v-2.2 M346.88,529.2 v-1.3 M357.4,529.2 v-2.2 M367.93,529.2 v-1.3 M378.45,529.2 v-2.2 M388.98,529.2 v-1.3 M399.5,529.2 v-2.2 M410.02,529.2 v-1.3 M420.55,529.2 v-2.2 M431.08,529.2 v-1.3 M441.6,529.2 v-2.2" stroke="#111" stroke-width="0.8"/>
<text x="271" y="393.6" font-family="Liberation Serif" font-size="10" font-weight="bold" fill="#111" text-anchor="end" textLength="14.2" lengthAdjust="spacingAndGlyphs">100</text>
<text x="271" y="410.85" font-family="Liberation Serif" font-size="10" font-weight="bold" fill="#111" text-anchor="end" textLength="9.6" lengthAdjust="spacingAndGlyphs">50</text>
<text x="271" y="428.1" font-family="Liberation Serif" font-size="10" font-weight="bold" fill="#111" text-anchor="end" textLength="4.8" lengthAdjust="spacingAndGlyphs">0</text>
<text x="271" y="445.35" font-family="Liberation Serif" font-size="10" font-weight="bold" fill="#111" text-anchor="end" textLength="13.0" lengthAdjust="spacingAndGlyphs">-50</text>
<text x="271" y="462.6" font-family="Liberation Serif" font-size="10" font-weight="bold" fill="#111" text-anchor="end" textLength="17.599999999999998" lengthAdjust="spacingAndGlyphs">-100</text>
<text x="271" y="480.45" font-family="Liberation Serif" font-size="10" font-weight="bold" fill="#111" text-anchor="end" textLength="9.6" lengthAdjust="spacingAndGlyphs">50</text>
<text x="271" y="497.7" font-family="Liberation Serif" font-size="10" font-weight="bold" fill="#111" text-anchor="end" textLength="4.8" lengthAdjust="spacingAndGlyphs">0</text>
<text x="271" y="514.95" font-family="Liberation Serif" font-size="10" font-weight="bold" fill="#111" text-anchor="end" textLength="13.0" lengthAdjust="spacingAndGlyphs">-50</text>
<text x="271" y="532.2" font-family="Liberation Serif" font-size="10" font-weight="bold" fill="#111" text-anchor="end" textLength="17.599999999999998" lengthAdjust="spacingAndGlyphs">-100</text>
<text x="271.6" y="538.2" font-family="Liberation Serif" font-size="10.2" font-weight="bold" fill="#111" text-anchor="middle">-8</text>
<text x="292.65" y="538.2" font-family="Liberation Serif" font-size="10.2" font-weight="bold" fill="#111" text-anchor="middle">-6</text>
<text x="313.7" y="538.2" font-family="Liberation Serif" font-size="10.2" font-weight="bold" fill="#111" text-anchor="middle">-4</text>
<text x="334.75" y="538.2" font-family="Liberation Serif" font-size="10.2" font-weight="bold" fill="#111" text-anchor="middle">-2</text>
<text x="357.4" y="538.2" font-family="Liberation Serif" font-size="10.2" font-weight="bold" fill="#111" text-anchor="middle">0</text>
<text x="378.45" y="538.2" font-family="Liberation Serif" font-size="10.2" font-weight="bold" fill="#111" text-anchor="middle">2</text>
<text x="399.5" y="538.2" font-family="Liberation Serif" font-size="10.2" font-weight="bold" fill="#111" text-anchor="middle">4</text>
<text x="420.55" y="538.2" font-family="Liberation Serif" font-size="10.2" font-weight="bold" fill="#111" text-anchor="middle">6</text>
<text x="441.6" y="538.2" font-family="Liberation Serif" font-size="10.2" font-weight="bold" fill="#111" text-anchor="middle">8</text>
<line x1="413" y1="401" x2="427" y2="401" stroke="#ee1c1c" stroke-width="1.5"/>
<text x="431.2" y="404.8" font-family="Liberation Serif" font-size="10.5" font-weight="bold" fill="#111" text-anchor="start" >V</text>
<line x1="410" y1="469" x2="423.5" y2="469" stroke="#2f6f82" stroke-width="1.5"/>
<text x="428" y="472.8" font-family="Liberation Serif" font-size="10" font-weight="bold" fill="#111" text-anchor="start" >Se</text>
<text x="278" y="521.9" font-family="Liberation Serif" font-size="9" font-weight="bold" fill="#111" text-anchor="start" >1T-VSe<tspan font-size="6.5" dy="2">2</tspan></text>
<text x="357.5" y="552" font-family="Liberation Serif" font-size="12" font-weight="bold" fill="#111" text-anchor="middle" >Energy (eV)</text>
<path d="M9.1,394.4 L9.1,382.2 C9.1,378.7 11,377.6 13.8,377.9 M5.7,384.2 L13.9,384.2" fill="none" stroke="#000" stroke-width="1.8" stroke-linecap="round" stroke-linejoin="round"/>
<path d="M234.4,391.6 C233,388.9 229.2,388.8 227.2,390.8 C225.1,393 225.1,397.3 227.9,398.3 C231,399.2 233.6,396.6 234.4,391.6 M235,389.7 L233.2,400.8 C232.7,403.3 229.2,404.1 225.7,403.4" fill="none" stroke="#000" stroke-width="1.65" stroke-linecap="round" stroke-linejoin="round"/>
<path d="M463.1,386.8 L463.1,402.6 M463.2,396.6 C464,393.6 465.8,392.3 467.4,392.4 C469.5,392.5 470.4,394.3 470.6,397 L470.8,401.4 L471.4,402.8" fill="none" stroke="#000" stroke-width="1.65" stroke-linecap="round" stroke-linejoin="round"/>
<polyline points="504.9,476.73 505.29,476.73 505.69,476.73 506.08,476.73 506.47,476.73 506.87,476.73 507.26,476.73 507.65,476.73 508.05,476.73 508.44,476.73 508.83,476.73 509.23,476.73 509.62,476.73 510.02,476.73 510.41,476.73 510.8,476.73 511.2,476.73 511.59,476.73 511.98,476.73 512.38,476.73 512.77,476.73 513.16,476.73 513.56,476.73 513.95,476.73 514.34,476.73 514.74,476.73 515.13,476.73 515.52,476.73 515.92,476.73 516.31,476.73 516.7,476.73 517.1,476.73 517.49,476.73 517.89,476.73 518.28,476.73 518.67,476.73 519.07,476.73 519.46,476.73 519.85,476.73 520.25,476.73 520.64,476.73 521.03,476.73 521.43,476.73 521.82,476.73 522.21,476.73 522.61,476.73 523,476.73 523.39,476.73 523.79,476.73 524.18,476.73 524.57,476.73 524.97,476.73 525.36,476.73 525.76,476.73 526.15,476.73 526.54,476.73 526.94,476.73 527.33,476.73 527.72,476.73 528.12,476.73 528.51,476.73 528.9,476.73 529.3,476.73 529.69,476.73 530.08,476.74 530.48,476.74 530.87,476.74 531.26,476.74 531.66,476.74 532.05,476.74 532.44,476.74 532.84,476.74 533.23,476.75 533.63,476.75 534.02,476.75 534.41,476.76 534.81,476.76 535.2,476.76 535.59,476.77 535.99,476.78 536.38,476.78 536.77,476.79 537.17,476.8 537.56,476.81 537.95,476.82 538.35,476.84 538.74,476.85 539.13,476.87 539.53,476.89 539.92,476.91 540.31,476.94 540.71,476.96 541.1,476.99 541.5,477.03 541.89,477.06 542.28,477.1 542.68,477.15 543.07,477.19 543.46,477.24 543.86,477.3 544.25,477.36 544.64,477.43 545.04,477.5 545.43,477.57 545.82,477.65 546.22,477.74 546.61,477.83 547,477.92 547.4,478.02 547.79,478.13 548.18,478.24 548.58,478.36 548.97,478.48 549.37,478.6 549.76,478.73 550.15,478.86 550.55,479 550.94,479.13 551.33,479.27 551.73,479.41 552.12,479.55 552.51,479.69 552.91,479.84 553.3,479.98 553.69,480.11 554.09,480.25 554.48,480.38 554.87,480.52 555.27,480.65 555.66,480.78 556.05,480.91 556.45,481.04 556.84,481.18 557.24,481.34 557.63,481.51 558.02,481.7 558.42,481.94 558.81,482.22 559.2,482.57 559.6,483 559.99,483.53 560.38,484.18 560.78,484.97 561.17,485.93 561.56,487.07 561.96,488.41 562.35,489.96 562.74,491.73 563.14,493.7 563.53,495.87 563.92,498.21 564.32,500.68 564.71,503.23 565.11,505.8 565.5,508.31 565.89,510.71 566.29,512.9 566.68,514.82 567.07,516.38 567.47,517.54 567.86,518.24 568.25,518.45 568.65,517.78 569.04,515.52 569.43,511.92 569.83,507.39 570.22,502.39 570.61,497.39 571.01,492.76 571.4,488.75 571.79,485.47 572.19,482.94 572.58,481.08 572.98,479.77 573.37,478.87 573.76,478.29 574.16,477.9 574.55,477.65 574.94,477.47 575.34,477.34 575.73,477.24 576.12,477.15 576.52,477.07 576.91,477 577.3,476.92 577.7,476.85 578.09,476.79 578.48,476.72 578.88,476.65 579.27,476.59 579.66,476.52 580.06,476.46 580.45,476.39 580.85,476.32 581.24,476.26 581.63,476.19 582.03,476.12 582.42,476.05 582.81,475.99 583.21,475.92 583.6,475.85 583.99,475.79 584.39,475.73 584.78,475.67 585.17,475.61 585.57,475.56 585.96,475.51 586.35,475.48 586.75,475.46 587.14,475.45 587.53,475.47 587.93,475.53 588.32,475.63 588.72,475.78 589.11,476 589.5,476.31 589.9,476.7 590.29,477.2 590.68,477.8 591.08,478.49 591.47,479.27 591.86,480.11 592.26,480.98 592.65,481.83 593.04,482.61 593.44,483.28 593.83,483.8 594.22,484.12 594.62,484.23 595.01,484.11 595.4,483.77 595.8,483.24 596.19,482.56 596.59,481.76 596.98,480.89 597.37,480.01 597.77,479.15 598.16,478.35 598.55,477.63 598.95,477.01 599.34,476.49 599.73,476.06 600.13,475.73 600.52,475.48 600.91,475.29 601.31,475.15 601.7,475.06 602.09,474.99 602.49,474.95 602.88,474.92 603.27,474.9 603.67,474.89 604.06,474.88 604.46,474.88 604.85,474.88 605.24,474.88 605.64,474.87 606.03,474.87 606.42,474.87 606.82,474.87 607.21,474.87 607.6,474.87 608,474.87 608.39,474.87 608.78,474.87 609.18,474.87 609.57,474.87 609.96,474.87 610.36,474.87 610.75,474.87 611.14,474.87 611.54,474.87 611.93,474.87 612.33,474.87 612.72,474.87 613.11,474.87 613.51,474.87 613.9,474.87 614.29,474.87 614.69,474.87 615.08,474.87 615.47,474.87 615.87,474.87 616.26,474.87 616.65,474.87 617.05,474.87 617.44,474.87 617.83,474.87 618.23,474.87 618.62,474.87 619.01,474.87 619.41,474.87 619.8,474.87 620.2,474.87 620.59,474.87 620.98,474.87 621.38,474.87 621.77,474.87 622.16,474.87 622.56,474.87 622.95,474.87 623.34,474.87 623.74,474.87 624.13,474.87 624.52,474.87 624.92,474.87 625.31,474.87 625.7,474.87 626.1,474.87 626.49,474.87 626.88,474.87 627.28,474.87 627.67,474.87 628.07,474.87 628.46,474.87 628.85,474.87 629.25,474.87 629.64,474.87 630.03,474.87 630.43,474.87 630.82,474.87 631.21,474.87 631.61,474.87 632,474.87 632.39,474.87 632.79,474.87 633.18,474.87 633.57,474.87 633.97,474.87 634.36,474.87 634.75,474.87 635.15,474.87 635.54,474.87 635.94,474.87 636.33,474.87 636.72,474.87 637.12,474.87 637.51,474.87 637.9,474.87 638.3,474.87 638.69,474.87 639.08,474.87 639.48,474.87 639.87,474.87 640.26,474.87 640.66,474.87 641.05,474.87 641.44,474.87 641.84,474.87 642.23,474.87 642.62,474.87 643.02,474.87 643.41,474.87 643.81,474.87 644.2,474.87 644.59,474.87 644.99,474.87 645.38,474.87 645.77,474.87 646.17,474.87 646.56,474.87 646.95,474.87 647.35,474.87 647.74,474.87 648.13,474.87 648.53,474.87 648.92,474.87 649.31,474.87 649.71,474.87 650.1,474.87 650.5,474.87 650.89,474.87 651.28,474.87 651.68,474.87 652.07,474.87 652.46,474.87 652.86,474.87 653.25,474.87 653.64,474.87 654.04,474.87 654.43,474.87 654.82,474.87 655.22,474.87 655.61,474.87 656,474.87 656.4,474.87 656.79,474.87 657.18,474.87 657.58,474.87 657.97,474.87 658.37,474.87 658.76,474.87 659.15,474.87 659.55,474.87 659.94,474.87 660.33,474.87 660.73,474.87 661.12,474.87 661.51,474.87 661.91,474.87 662.3,474.87 662.69,474.87 663.09,474.87 663.48,474.87 663.87,474.87 664.27,474.87 664.66,474.87 665.05,474.87 665.45,474.87 665.84,474.87 666.23,474.87 666.63,474.87 667.02,474.87 667.42,474.87 667.81,474.87 668.2,474.87 668.6,474.87 668.99,474.87 669.38,474.87 669.78,474.87 670.17,474.87 670.56,474.87 670.96,474.87 671.35,474.87 671.74,474.87 672.14,474.87 672.53,474.87 672.92,474.87 673.32,474.87 673.71,474.87 674.11,474.87 674.5,474.87 674.89,474.87 675.29,474.87 675.68,474.87 676.07,474.87 676.47,474.87 676.86,474.87 677.25,474.87 677.65,474.87 678.04,474.87" fill="none" stroke="#e61e1e" stroke-width="1.6" stroke-linejoin="round" stroke-linecap="round" />
<polyline points="504.9,476.73 505.29,476.73 505.69,476.73 506.08,476.73 506.47,476.73 506.87,476.73 507.26,476.73 507.65,476.73 508.05,476.73 508.44,476.73 508.83,476.73 509.23,476.73 509.62,476.73 510.02,476.73 510.41,476.73 510.8,476.73 511.2,476.73 511.59,476.73 511.98,476.73 512.38,476.73 512.77,476.73 513.16,476.73 513.56,476.73 513.95,476.73 514.34,476.73 514.74,476.73 515.13,476.73 515.52,476.73 515.92,476.73 516.31,476.73 516.7,476.73 517.1,476.73 517.49,476.73 517.89,476.73 518.28,476.73 518.67,476.73 519.07,476.73 519.46,476.73 519.85,476.73 520.25,476.73 520.64,476.73 521.03,476.73 521.43,476.73 521.82,476.73 522.21,476.73 522.61,476.73 523,476.73 523.39,476.73 523.79,476.73 524.18,476.73 524.57,476.73 524.97,476.73 525.36,476.74 525.76,476.74 526.15,476.74 526.54,476.74 526.94,476.74 527.33,476.74 527.72,476.74 528.12,476.74 528.51,476.75 528.9,476.75 529.3,476.75 529.69,476.76 530.08,476.76 530.48,476.77 530.87,476.78 531.26,476.79 531.66,476.8 532.05,476.81 532.44,476.82 532.84,476.84 533.23,476.85 533.63,476.88 534.02,476.9 534.41,476.93 534.81,476.96 535.2,477 535.59,477.04 535.99,477.08 536.38,477.14 536.77,477.2 537.17,477.27 537.56,477.34 537.95,477.43 538.35,477.52 538.74,477.63 539.13,477.75 539.53,477.88 539.92,478.03 540.31,478.18 540.71,478.36 541.1,478.55 541.5,478.76 541.89,478.99 542.28,479.23 542.68,479.5 543.07,479.79 543.46,480.1 543.86,480.43 544.25,480.78 544.64,481.16 545.04,481.56 545.43,481.98 545.82,482.42 546.22,482.89 546.61,483.37 547,483.88 547.4,484.41 547.79,484.96 548.18,485.52 548.58,486.1 548.97,486.69 549.37,487.29 549.76,487.9 550.15,488.52 550.55,489.14 550.94,489.76 551.33,490.38 551.73,490.99 552.12,491.59 552.51,492.18 552.91,492.75 553.3,493.3 553.69,493.82 554.09,494.32 554.48,494.79 554.87,495.22 555.27,495.62 555.66,495.98 556.05,496.29 556.45,496.56 556.84,496.79 557.24,496.96 557.63,497.09 558.02,497.17 558.42,497.19 558.81,497.16 559.2,497.07 559.6,496.91 559.99,496.69 560.38,496.42 560.78,496.08 561.17,495.7 561.56,495.27 561.96,494.79 562.35,494.26 562.74,493.7 563.14,493.11 563.53,492.49 563.92,491.85 564.32,491.19 564.71,490.51 565.11,489.82 565.5,489.13 565.89,488.44 566.29,487.76 566.68,487.08 567.07,486.41 567.47,485.76 567.86,485.13 568.25,484.51 568.65,483.92 569.04,483.35 569.43,482.81 569.83,482.29 570.22,481.8 570.61,481.34 571.01,480.91 571.4,480.5 571.79,480.12 572.19,479.76 572.58,479.44 572.98,479.13 573.37,478.85 573.76,478.6 574.16,478.36 574.55,478.14 574.94,477.95 575.34,477.76 575.73,477.6 576.12,477.45 576.52,477.31 576.91,477.19 577.3,477.07 577.7,476.97 578.09,476.88 578.48,476.8 578.88,476.72 579.27,476.66 579.66,476.61 580.06,476.57 580.45,476.55 580.85,476.54 581.24,476.55 581.63,476.58 582.03,476.63 582.42,476.71 582.81,476.82 583.21,476.95 583.6,477.13 583.99,477.33 584.39,477.57 584.78,477.84 585.17,478.15 585.57,478.49 585.96,478.85 586.35,479.23 586.75,479.62 587.14,480.01 587.53,480.4 587.93,480.78 588.32,481.12 588.72,481.44 589.11,481.7 589.5,481.91 589.9,482.06 590.29,482.14 590.68,482.15 591.08,482.09 591.47,481.96 591.86,481.76 592.26,481.5 592.65,481.19 593.04,480.82 593.44,480.42 593.83,479.99 594.22,479.54 594.62,479.08 595.01,478.62 595.4,478.17 595.8,477.74 596.19,477.33 596.59,476.95 596.98,476.6 597.37,476.28 597.77,476 598.16,475.75 598.55,475.53 598.95,475.34 599.34,475.18 599.73,475.04 600.13,474.93 600.52,474.84 600.91,474.76 601.31,474.7 601.7,474.65 602.09,474.62 602.49,474.59 602.88,474.57 603.27,474.55 603.67,474.54 604.06,474.53 604.46,474.52 604.85,474.51 605.24,474.51 605.64,474.51 606.03,474.51 606.42,474.5 606.82,474.5 607.21,474.5 607.6,474.5 608,474.5 608.39,474.5 608.78,474.5 609.18,474.5 609.57,474.5 609.96,474.5 610.36,474.5 610.75,474.5 611.14,474.5 611.54,474.5 611.93,474.5 612.33,474.5 612.72,474.5 613.11,474.5 613.51,474.5 613.9,474.5 614.29,474.5 614.69,474.5 615.08,474.5 615.47,474.5 615.87,474.5 616.26,474.5 616.65,474.5 617.05,474.5 617.44,474.5 617.83,474.5 618.23,474.5 618.62,474.5 619.01,474.5 619.41,474.5 619.8,474.5 620.2,474.5 620.59,474.5 620.98,474.5 621.38,474.5 621.77,474.5 622.16,474.5 622.56,474.5 622.95,474.5 623.34,474.5 623.74,474.5 624.13,474.5 624.52,474.5 624.92,474.5 625.31,474.5 625.7,474.5 626.1,474.5 626.49,474.5 626.88,474.5 627.28,474.5 627.67,474.5 628.07,474.5 628.46,474.5 628.85,474.5 629.25,474.5 629.64,474.5 630.03,474.5 630.43,474.5 630.82,474.5 631.21,474.5 631.61,474.5 632,474.5 632.39,474.5 632.79,474.5 633.18,474.5 633.57,474.5 633.97,474.5 634.36,474.5 634.75,474.5 635.15,474.5 635.54,474.5 635.94,474.5 636.33,474.5 636.72,474.5 637.12,474.5 637.51,474.5 637.9,474.5 638.3,474.5 638.69,474.5 639.08,474.5 639.48,474.5 639.87,474.5 640.26,474.5 640.66,474.5 641.05,474.5 641.44,474.5 641.84,474.5 642.23,474.5 642.62,474.5 643.02,474.5 643.41,474.5 643.81,474.5 644.2,474.5 644.59,474.5 644.99,474.5 645.38,474.5 645.77,474.5 646.17,474.5 646.56,474.5 646.95,474.5 647.35,474.5 647.74,474.5 648.13,474.5 648.53,474.5 648.92,474.5 649.31,474.5 649.71,474.5 650.1,474.5 650.5,474.5 650.89,474.5 651.28,474.5 651.68,474.5 652.07,474.5 652.46,474.5 652.86,474.5 653.25,474.5 653.64,474.5 654.04,474.5 654.43,474.5 654.82,474.5 655.22,474.5 655.61,474.5 656,474.5 656.4,474.5 656.79,474.5 657.18,474.5 657.58,474.5 657.97,474.5 658.37,474.5 658.76,474.5 659.15,474.5 659.55,474.5 659.94,474.5 660.33,474.5 660.73,474.5 661.12,474.5 661.51,474.5 661.91,474.5 662.3,474.5 662.69,474.5 663.09,474.5 663.48,474.5 663.87,474.5 664.27,474.5 664.66,474.5 665.05,474.5 665.45,474.5 665.84,474.5 666.23,474.5 666.63,474.5 667.02,474.5 667.42,474.5 667.81,474.5 668.2,474.5 668.6,474.5 668.99,474.5 669.38,474.5 669.78,474.5 670.17,474.5 670.56,474.5 670.96,474.5 671.35,474.5 671.74,474.5 672.14,474.5 672.53,474.5 672.92,474.5 673.32,474.5 673.71,474.5 674.11,474.5 674.5,474.5 674.89,474.5 675.29,474.5 675.68,474.5 676.07,474.5 676.47,474.5 676.86,474.5 677.25,474.5 677.65,474.5 678.04,474.5" fill="none" stroke="#3a78b0" stroke-width="1.6" stroke-linejoin="round" stroke-linecap="round" />
<polyline points="504.9,476.73 505.29,476.73 505.69,476.73 506.08,476.73 506.47,476.73 506.87,476.73 507.26,476.73 507.65,476.73 508.05,476.73 508.44,476.73 508.83,476.73 509.23,476.73 509.62,476.73 510.02,476.73 510.41,476.73 510.8,476.73 511.2,476.73 511.59,476.73 511.98,476.73 512.38,476.73 512.77,476.73 513.16,476.73 513.56,476.73 513.95,476.73 514.34,476.73 514.74,476.73 515.13,476.73 515.52,476.73 515.92,476.73 516.31,476.73 516.7,476.73 517.1,476.73 517.49,476.73 517.89,476.73 518.28,476.73 518.67,476.73 519.07,476.73 519.46,476.73 519.85,476.73 520.25,476.73 520.64,476.73 521.03,476.73 521.43,476.73 521.82,476.73 522.21,476.73 522.61,476.73 523,476.74 523.39,476.74 523.79,476.74 524.18,476.74 524.57,476.74 524.97,476.74 525.36,476.75 525.76,476.75 526.15,476.75 526.54,476.76 526.94,476.76 527.33,476.77 527.72,476.78 528.12,476.79 528.51,476.8 528.9,476.81 529.3,476.83 529.69,476.84 530.08,476.86 530.48,476.89 530.87,476.92 531.26,476.95 531.66,476.99 532.05,477.03 532.44,477.09 532.84,477.14 533.23,477.21 533.63,477.29 534.02,477.37 534.41,477.47 534.81,477.58 535.2,477.7 535.59,477.83 535.99,477.98 536.38,478.15 536.77,478.33 537.17,478.53 537.56,478.76 537.95,479 538.35,479.26 538.74,479.54 539.13,479.85 539.53,480.18 539.92,480.53 540.31,480.91 540.71,481.3 541.1,481.72 541.5,482.17 541.89,482.63 542.28,483.11 542.68,483.61 543.07,484.13 543.46,484.66 543.86,485.21 544.25,485.76 544.64,486.32 545.04,486.89 545.43,487.45 545.82,488.01 546.22,488.56 546.61,489.1 547,489.63 547.4,490.14 547.79,490.62 548.18,491.08 548.58,491.5 548.97,491.9 549.37,492.25 549.76,492.57 550.15,492.84 550.55,493.06 550.94,493.24 551.33,493.37 551.73,493.45 552.12,493.47 552.51,493.45 552.91,493.4 553.3,493.32 553.69,493.2 554.09,493.05 554.48,492.86 554.87,492.65 555.27,492.4 555.66,492.13 556.05,491.83 556.45,491.5 556.84,491.16 557.24,490.79 557.63,490.4 558.02,490 558.42,489.58 558.81,489.15 559.2,488.71 559.6,488.26 559.99,487.8 560.38,487.35 560.78,486.88 561.17,486.42 561.56,485.96 561.96,485.51 562.35,485.06 562.74,484.61 563.14,484.18 563.53,483.75 563.92,483.33 564.32,482.93 564.71,482.54 565.11,482.16 565.5,481.8 565.89,481.45 566.29,481.11 566.68,480.79 567.07,480.49 567.47,480.2 567.86,479.92 568.25,479.66 568.65,479.42 569.04,479.19 569.43,478.98 569.83,478.77 570.22,478.59 570.61,478.41 571.01,478.25 571.4,478.1 571.79,477.96 572.19,477.83 572.58,477.71 572.98,477.6 573.37,477.5 573.76,477.41 574.16,477.33 574.55,477.25 574.94,477.19 575.34,477.13 575.73,477.08 576.12,477.03 576.52,477 576.91,476.97 577.3,476.95 577.7,476.93 578.09,476.93 578.48,476.93 578.88,476.94 579.27,476.96 579.66,477 580.06,477.04 580.45,477.09 580.85,477.16 581.24,477.23 581.63,477.33 582.03,477.43 582.42,477.55 582.81,477.68 583.21,477.83 583.6,477.99 583.99,478.16 584.39,478.34 584.78,478.54 585.17,478.74 585.57,478.95 585.96,479.17 586.35,479.39 586.75,479.61 587.14,479.83 587.53,480.05 587.93,480.25 588.32,480.44 588.72,480.61 589.11,480.77 589.5,480.91 589.9,481.02 590.29,481.1 590.68,481.16 591.08,481.18 591.47,481.18 591.86,481.14 592.26,481.08 592.65,480.98 593.04,480.86 593.44,480.7 593.83,480.52 594.22,480.32 594.62,480.09 595.01,479.85 595.4,479.6 595.8,479.33 596.19,479.05 596.59,478.77 596.98,478.48 597.37,478.19 597.77,477.91 598.16,477.64 598.55,477.37 598.95,477.11 599.34,476.86 599.73,476.63 600.13,476.41 600.52,476.2 600.91,476.01 601.31,475.83 601.7,475.67 602.09,475.52 602.49,475.39 602.88,475.27 603.27,475.16 603.67,475.06 604.06,474.98 604.46,474.91 604.85,474.84 605.24,474.79 605.64,474.74 606.03,474.7 606.42,474.67 606.82,474.64 607.21,474.61 607.6,474.59 608,474.57 608.39,474.56 608.78,474.55 609.18,474.54 609.57,474.53 609.96,474.52 610.36,474.52 610.75,474.51 611.14,474.51 611.54,474.51 611.93,474.51 612.33,474.51 612.72,474.5 613.11,474.5 613.51,474.5 613.9,474.5 614.29,474.5 614.69,474.5 615.08,474.5 615.47,474.5 615.87,474.5 616.26,474.5 616.65,474.5 617.05,474.5 617.44,474.5 617.83,474.5 618.23,474.5 618.62,474.5 619.01,474.5 619.41,474.5 619.8,474.5 620.2,474.5 620.59,474.5 620.98,474.5 621.38,474.5 621.77,474.5 622.16,474.5 622.56,474.5 622.95,474.5 623.34,474.5 623.74,474.5 624.13,474.5 624.52,474.5 624.92,474.5 625.31,474.5 625.7,474.5 626.1,474.5 626.49,474.5 626.88,474.5 627.28,474.5 627.67,474.5 628.07,474.5 628.46,474.5 628.85,474.5 629.25,474.5 629.64,474.5 630.03,474.5 630.43,474.5 630.82,474.5 631.21,474.5 631.61,474.5 632,474.5 632.39,474.5 632.79,474.5 633.18,474.5 633.57,474.5 633.97,474.5 634.36,474.5 634.75,474.5 635.15,474.5 635.54,474.5 635.94,474.5 636.33,474.5 636.72,474.5 637.12,474.5 637.51,474.5 637.9,474.5 638.3,474.5 638.69,474.5 639.08,474.5 639.48,474.5 639.87,474.5 640.26,474.5 640.66,474.5 641.05,474.5 641.44,474.5 641.84,474.5 642.23,474.5 642.62,474.5 643.02,474.5 643.41,474.5 643.81,474.5 644.2,474.5 644.59,474.5 644.99,474.5 645.38,474.5 645.77,474.5 646.17,474.5 646.56,474.5 646.95,474.5 647.35,474.5 647.74,474.5 648.13,474.5 648.53,474.5 648.92,474.5 649.31,474.5 649.71,474.5 650.1,474.5 650.5,474.5 650.89,474.5 651.28,474.5 651.68,474.5 652.07,474.5 652.46,474.5 652.86,474.5 653.25,474.5 653.64,474.5 654.04,474.5 654.43,474.5 654.82,474.5 655.22,474.5 655.61,474.5 656,474.5 656.4,474.5 656.79,474.5 657.18,474.5 657.58,474.5 657.97,474.5 658.37,474.5 658.76,474.5 659.15,474.5 659.55,474.5 659.94,474.5 660.33,474.5 660.73,474.5 661.12,474.5 661.51,474.5 661.91,474.5 662.3,474.5 662.69,474.5 663.09,474.5 663.48,474.5 663.87,474.5 664.27,474.5 664.66,474.5 665.05,474.5 665.45,474.5 665.84,474.5 666.23,474.5 666.63,474.5 667.02,474.5 667.42,474.5 667.81,474.5 668.2,474.5 668.6,474.5 668.99,474.5 669.38,474.5 669.78,474.5 670.17,474.5 670.56,474.5 670.96,474.5 671.35,474.5 671.74,474.5 672.14,474.5 672.53,474.5 672.92,474.5 673.32,474.5 673.71,474.5 674.11,474.5 674.5,474.5 674.89,474.5 675.29,474.5 675.68,474.5 676.07,474.5 676.47,474.5 676.86,474.5 677.25,474.5 677.65,474.5 678.04,474.5" fill="none" stroke="#111" stroke-width="1.6" stroke-linejoin="round" stroke-linecap="round" />
<polyline points="504.9,474.5 505.29,474.5 505.69,474.5 506.08,474.5 506.47,474.5 506.87,474.5 507.26,474.5 507.65,474.5 508.05,474.5 508.44,474.5 508.83,474.5 509.23,474.5 509.62,474.5 510.02,474.5 510.41,474.5 510.8,474.5 511.2,474.5 511.59,474.5 511.98,474.5 512.38,474.5 512.77,474.5 513.16,474.5 513.56,474.5 513.95,474.5 514.34,474.5 514.74,474.5 515.13,474.5 515.52,474.5 515.92,474.5 516.31,474.5 516.7,474.5 517.1,474.5 517.49,474.5 517.89,474.5 518.28,474.5 518.67,474.5 519.07,474.5 519.46,474.5 519.85,474.5 520.25,474.5 520.64,474.5 521.03,474.5 521.43,474.5 521.82,474.5 522.21,474.5 522.61,474.5 523,474.5 523.39,474.5 523.79,474.5 524.18,474.5 524.57,474.5 524.97,474.5 525.36,474.5 525.76,474.5 526.15,474.5 526.54,474.5 526.94,474.5 527.33,474.5 527.72,474.5 528.12,474.5 528.51,474.5 528.9,474.5 529.3,474.5 529.69,474.5 530.08,474.5 530.48,474.5 530.87,474.5 531.26,474.5 531.66,474.5 532.05,474.5 532.44,474.5 532.84,474.5 533.23,474.5 533.63,474.5 534.02,474.5 534.41,474.5 534.81,474.5 535.2,474.5 535.59,474.5 535.99,474.5 536.38,474.5 536.77,474.5 537.17,474.5 537.56,474.5 537.95,474.5 538.35,474.5 538.74,474.5 539.13,474.5 539.53,474.5 539.92,474.5 540.31,474.5 540.71,474.5 541.1,474.5 541.5,474.5 541.89,474.5 542.28,474.5 542.68,474.5 543.07,474.5 543.46,474.5 543.86,474.5 544.25,474.5 544.64,474.5 545.04,474.5 545.43,474.5 545.82,474.5 546.22,474.5 546.61,474.5 547,474.5 547.4,474.5 547.79,474.5 548.18,474.5 548.58,474.5 548.97,474.5 549.37,474.49 549.76,474.49 550.15,474.49 550.55,474.49 550.94,474.49 551.33,474.49 551.73,474.49 552.12,474.49 552.51,474.49 552.91,474.49 553.3,474.49 553.69,474.49 554.09,474.49 554.48,474.48 554.87,474.48 555.27,474.48 555.66,474.48 556.05,474.48 556.45,474.48 556.84,474.47 557.24,474.47 557.63,474.47 558.02,474.47 558.42,474.46 558.81,474.46 559.2,474.46 559.6,474.45 559.99,474.45 560.38,474.45 560.78,474.44 561.17,474.44 561.56,474.43 561.96,474.42 562.35,474.42 562.74,474.41 563.14,474.4 563.53,474.4 563.92,474.39 564.32,474.38 564.71,474.37 565.11,474.36 565.5,474.34 565.89,474.33 566.29,474.32 566.68,474.3 567.07,474.29 567.47,474.27 567.86,474.25 568.25,474.23 568.65,474.21 569.04,474.19 569.43,474.17 569.83,474.14 570.22,474.12 570.61,474.09 571.01,474.06 571.4,474.03 571.79,474 572.19,473.96 572.58,473.93 572.98,473.89 573.37,473.85 573.76,473.81 574.16,473.77 574.55,473.73 574.94,473.68 575.34,473.64 575.73,473.59 576.12,473.54 576.52,473.49 576.91,473.43 577.3,473.38 577.7,473.33 578.09,473.27 578.48,473.21 578.88,473.15 579.27,473.09 579.66,473.03 580.06,472.97 580.45,472.9 580.85,472.84 581.24,472.77 581.63,472.7 582.03,472.63 582.42,472.56 582.81,472.49 583.21,472.42 583.6,472.34 583.99,472.27 584.39,472.19 584.78,472.11 585.17,472.03 585.57,471.95 585.96,471.87 586.35,471.78 586.75,471.69 587.14,471.6 587.53,471.51 587.93,471.41 588.32,471.32 588.72,471.21 589.11,471.11 589.5,471 589.9,470.89 590.29,470.78 590.68,470.66 591.08,470.54 591.47,470.42 591.86,470.29 592.26,470.16 592.65,470.02 593.04,469.88 593.44,469.74 593.83,469.59 594.22,469.44 594.62,469.28 595.01,469.12 595.4,468.95 595.8,468.78 596.19,468.61 596.59,468.43 596.98,468.25 597.37,468.06 597.77,467.87 598.16,467.67 598.55,467.47 598.95,467.27 599.34,467.06 599.73,466.85 600.13,466.63 600.52,466.41 600.91,466.19 601.31,465.97 601.7,465.74 602.09,465.51 602.49,465.27 602.88,465.03 603.27,464.8 603.67,464.55 604.06,464.31 604.46,464.06 604.85,463.82 605.24,463.57 605.64,463.32 606.03,463.07 606.42,462.82 606.82,462.56 607.21,462.31 607.6,462.06 608,461.8 608.39,461.55 608.78,461.3 609.18,461.05 609.57,460.8 609.96,460.55 610.36,460.3 610.75,460.06 611.14,459.81 611.54,459.57 611.93,459.34 612.33,459.1 612.72,458.87 613.11,458.64 613.51,458.41 613.9,458.19 614.29,457.98 614.69,457.76 615.08,457.55 615.47,457.35 615.87,457.15 616.26,456.96 616.65,456.77 617.05,456.59 617.44,456.41 617.83,456.25 618.23,456.08 618.62,455.93 619.01,455.78 619.41,455.63 619.8,455.5 620.2,455.37 620.59,455.25 620.98,455.14 621.38,455.03 621.77,454.93 622.16,454.84 622.56,454.76 622.95,454.69 623.34,454.62 623.74,454.57 624.13,454.52 624.52,454.48 624.92,454.45 625.31,454.43 625.7,454.42 626.1,454.41 626.49,454.43 626.88,454.48 627.28,454.59 627.67,454.74 628.07,454.95 628.46,455.21 628.85,455.53 629.25,455.91 629.64,456.36 630.03,456.87 630.43,457.44 630.82,458.08 631.21,458.78 631.61,459.56 632,460.4 632.39,461.32 632.79,462.3 633.18,463.36 633.57,464.49 633.97,465.69 634.36,466.97 634.75,468.32 635.15,469.75 635.54,471.26 635.94,472.84 636.33,474.5 636.72,474.5 637.12,474.5 637.51,474.5 637.9,474.5 638.3,474.5 638.69,474.5 639.08,474.5 639.48,474.5 639.87,474.5 640.26,474.5 640.66,474.5 641.05,474.5 641.44,474.5 641.84,474.5 642.23,474.5 642.62,474.5 643.02,474.5 643.41,474.5 643.81,474.5 644.2,474.5 644.59,474.5 644.99,474.5 645.38,474.5 645.77,474.5 646.17,474.5 646.56,474.5 646.95,474.5 647.35,474.5 647.74,474.5 648.13,474.5 648.53,474.5 648.92,474.5 649.31,474.5 649.71,474.5 650.1,474.5 650.5,474.5 650.89,474.5 651.28,474.5 651.68,474.5 652.07,474.5 652.46,474.5 652.86,474.5 653.25,474.5 653.64,474.5 654.04,474.5 654.43,474.5 654.82,474.5 655.22,474.5 655.61,474.5 656,474.5 656.4,474.5 656.79,474.5 657.18,474.5 657.58,474.5 657.97,474.5 658.37,474.5 658.76,474.5 659.15,474.5 659.55,474.5 659.94,474.5 660.33,474.5 660.73,474.5 661.12,474.5 661.51,474.5 661.91,474.5 662.3,474.5 662.69,474.5 663.09,474.5 663.48,474.5 663.87,474.5 664.27,474.5 664.66,474.5 665.05,474.5 665.45,474.5 665.84,474.5 666.23,474.5 666.63,474.5 667.02,474.5 667.42,474.5 667.81,474.5 668.2,474.5 668.6,474.5 668.99,474.5 669.38,474.5 669.78,474.5 670.17,474.5 670.56,474.5 670.96,474.5 671.35,474.5 671.74,474.5 672.14,474.5 672.53,474.5 672.92,474.5 673.32,474.5 673.71,474.5 674.11,474.5 674.5,474.5 674.89,474.5 675.29,474.5 675.68,474.5 676.07,474.5 676.47,474.5 676.86,474.5 677.25,474.5 677.65,474.5 678.04,474.5" fill="none" stroke="#111" stroke-width="1.6" stroke-linejoin="round" stroke-linecap="round" />
<polyline points="504.9,474.5 505.29,474.5 505.69,474.5 506.08,474.5 506.47,474.5 506.87,474.5 507.26,474.5 507.65,474.5 508.05,474.5 508.44,474.5 508.83,474.5 509.23,474.5 509.62,474.5 510.02,474.5 510.41,474.5 510.8,474.5 511.2,474.5 511.59,474.5 511.98,474.5 512.38,474.5 512.77,474.5 513.16,474.5 513.56,474.5 513.95,474.5 514.34,474.5 514.74,474.5 515.13,474.5 515.52,474.5 515.92,474.5 516.31,474.5 516.7,474.5 517.1,474.5 517.49,474.5 517.89,474.5 518.28,474.5 518.67,474.5 519.07,474.5 519.46,474.5 519.85,474.5 520.25,474.5 520.64,474.5 521.03,474.5 521.43,474.5 521.82,474.5 522.21,474.5 522.61,474.5 523,474.5 523.39,474.5 523.79,474.5 524.18,474.5 524.57,474.5 524.97,474.5 525.36,474.5 525.76,474.5 526.15,474.5 526.54,474.5 526.94,474.5 527.33,474.5 527.72,474.5 528.12,474.5 528.51,474.5 528.9,474.5 529.3,474.5 529.69,474.5 530.08,474.5 530.48,474.5 530.87,474.5 531.26,474.5 531.66,474.5 532.05,474.5 532.44,474.5 532.84,474.5 533.23,474.5 533.63,474.5 534.02,474.5 534.41,474.5 534.81,474.5 535.2,474.5 535.59,474.5 535.99,474.5 536.38,474.5 536.77,474.5 537.17,474.5 537.56,474.5 537.95,474.5 538.35,474.5 538.74,474.5 539.13,474.5 539.53,474.5 539.92,474.5 540.31,474.5 540.71,474.5 541.1,474.5 541.5,474.5 541.89,474.5 542.28,474.5 542.68,474.5 543.07,474.5 543.46,474.5 543.86,474.5 544.25,474.5 544.64,474.5 545.04,474.5 545.43,474.5 545.82,474.5 546.22,474.5 546.61,474.5 547,474.5 547.4,474.5 547.79,474.5 548.18,474.5 548.58,474.5 548.97,474.5 549.37,474.5 549.76,474.5 550.15,474.5 550.55,474.5 550.94,474.5 551.33,474.5 551.73,474.5 552.12,474.5 552.51,474.5 552.91,474.5 553.3,474.5 553.69,474.5 554.09,474.5 554.48,474.5 554.87,474.5 555.27,474.5 555.66,474.5 556.05,474.5 556.45,474.5 556.84,474.5 557.24,474.5 557.63,474.5 558.02,474.5 558.42,474.5 558.81,474.5 559.2,474.5 559.6,474.5 559.99,474.5 560.38,474.5 560.78,474.5 561.17,474.5 561.56,474.5 561.96,474.5 562.35,474.5 562.74,474.5 563.14,474.5 563.53,474.5 563.92,474.5 564.32,474.5 564.71,474.5 565.11,474.5 565.5,474.5 565.89,474.5 566.29,474.5 566.68,474.5 567.07,474.5 567.47,474.5 567.86,474.5 568.25,474.5 568.65,474.5 569.04,474.5 569.43,474.5 569.83,474.5 570.22,474.5 570.61,474.5 571.01,474.5 571.4,474.5 571.79,474.5 572.19,474.5 572.58,474.5 572.98,474.5 573.37,474.5 573.76,474.5 574.16,474.5 574.55,474.5 574.94,474.5 575.34,474.5 575.73,474.5 576.12,474.5 576.52,474.5 576.91,474.5 577.3,474.5 577.7,474.5 578.09,474.5 578.48,474.5 578.88,474.5 579.27,474.5 579.66,474.5 580.06,474.5 580.45,474.5 580.85,474.5 581.24,474.5 581.63,474.5 582.03,474.5 582.42,474.5 582.81,474.5 583.21,474.5 583.6,474.5 583.99,474.5 584.39,474.5 584.78,474.5 585.17,474.5 585.57,474.5 585.96,474.5 586.35,474.5 586.75,474.5 587.14,474.5 587.53,474.49 587.93,474.49 588.32,474.49 588.72,474.49 589.11,474.49 589.5,474.48 589.9,474.48 590.29,474.48 590.68,474.47 591.08,474.47 591.47,474.46 591.86,474.45 592.26,474.44 592.65,474.43 593.04,474.41 593.44,474.39 593.83,474.37 594.22,474.35 594.62,474.32 595.01,474.29 595.4,474.25 595.8,474.2 596.19,474.15 596.59,474.09 596.98,474.03 597.37,473.95 597.77,473.86 598.16,473.76 598.55,473.64 598.95,473.52 599.34,473.37 599.73,473.21 600.13,473.03 600.52,472.82 600.91,472.6 601.31,472.35 601.7,472.08 602.09,471.77 602.49,471.44 602.88,471.08 603.27,470.69 603.67,470.26 604.06,469.8 604.46,469.31 604.85,468.77 605.24,468.2 605.64,467.6 606.03,466.95 606.42,466.27 606.82,465.56 607.21,464.81 607.6,464.02 608,463.21 608.39,462.36 608.78,461.49 609.18,460.6 609.57,459.68 609.96,458.75 610.36,457.81 610.75,456.86 611.14,455.92 611.54,454.97 611.93,454.04 612.33,453.12 612.72,452.23 613.11,451.36 613.51,450.53 613.9,449.74 614.29,448.99 614.69,448.29 615.08,447.66 615.47,447.08 615.87,446.57 616.26,446.13 616.65,445.77 617.05,445.48 617.44,445.28 617.83,445.15 618.23,445.11 618.62,445.14 619.01,445.23 619.41,445.38 619.8,445.59 620.2,445.86 620.59,446.18 620.98,446.56 621.38,446.99 621.77,447.47 622.16,448 622.56,448.57 622.95,449.17 623.34,449.82 623.74,450.5 624.13,451.21 624.52,451.94 624.92,452.7 625.31,453.47 625.7,454.26 626.1,455.06 626.49,455.87 626.88,456.68 627.28,457.48 627.67,458.29 628.07,459.09 628.46,459.88 628.85,460.66 629.25,461.43 629.64,462.17 630.03,462.9 630.43,463.61 630.82,464.3 631.21,464.96 631.61,465.6 632,466.21 632.39,466.8 632.79,467.36 633.18,467.89 633.57,468.39 633.97,468.87 634.36,469.32 634.75,469.75 635.15,470.15 635.54,470.52 635.94,470.87 636.33,471.2 636.72,471.5 637.12,471.78 637.51,472.04 637.9,472.28 638.3,472.5 638.69,472.7 639.08,472.89 639.48,473.05 639.87,473.21 640.26,473.35 640.66,473.48 641.05,473.59 641.44,473.69 641.84,473.79 642.23,473.87 642.62,473.95 643.02,474.01 643.41,474.07 643.81,474.13 644.2,474.17 644.59,474.22 644.99,474.25 645.38,474.29 645.77,474.31 646.17,474.34 646.56,474.36 646.95,474.38 647.35,474.4 647.74,474.41 648.13,474.42 648.53,474.44 648.92,474.45 649.31,474.45 649.71,474.46 650.1,474.47 650.5,474.47 650.89,474.48 651.28,474.48 651.68,474.48 652.07,474.49 652.46,474.49 652.86,474.49 653.25,474.49 653.64,474.49 654.04,474.49 654.43,474.5 654.82,474.5 655.22,474.5 655.61,474.5 656,474.5 656.4,474.5 656.79,474.5 657.18,474.5 657.58,474.5 657.97,474.5 658.37,474.5 658.76,474.5 659.15,474.5 659.55,474.5 659.94,474.5 660.33,474.5 660.73,474.5 661.12,474.5 661.51,474.5 661.91,474.5 662.3,474.5 662.69,474.5 663.09,474.5 663.48,474.5 663.87,474.5 664.27,474.5 664.66,474.5 665.05,474.5 665.45,474.5 665.84,474.5 666.23,474.5 666.63,474.5 667.02,474.5 667.42,474.5 667.81,474.5 668.2,474.5 668.6,474.5 668.99,474.5 669.38,474.5 669.78,474.5 670.17,474.5 670.56,474.5 670.96,474.5 671.35,474.5 671.74,474.5 672.14,474.5 672.53,474.5 672.92,474.5 673.32,474.5 673.71,474.5 674.11,474.5 674.5,474.5 674.89,474.5 675.29,474.5 675.68,474.5 676.07,474.5 676.47,474.5 676.86,474.5 677.25,474.5 677.65,474.5 678.04,474.5" fill="none" stroke="#3a78b0" stroke-width="1.6" stroke-linejoin="round" stroke-linecap="round" />
<polyline points="504.9,474.5 505.23,474.5 505.56,474.5 505.89,474.5 506.22,474.5 506.55,474.5 506.87,474.5 507.2,474.5 507.53,474.5 507.86,474.5 508.19,474.5 508.52,474.5 508.85,474.5 509.18,474.5 509.51,474.5 509.84,474.5 510.17,474.5 510.49,474.5 510.82,474.5 511.15,474.5 511.48,474.5 511.81,474.5 512.14,474.5 512.47,474.5 512.8,474.5 513.13,474.5 513.46,474.5 513.79,474.5 514.12,474.5 514.44,474.5 514.77,474.5 515.1,474.5 515.43,474.5 515.76,474.5 516.09,474.5 516.42,474.5 516.75,474.5 517.08,474.5 517.41,474.5 517.74,474.5 518.06,474.5 518.39,474.5 518.72,474.5 519.05,474.5 519.38,474.5 519.71,474.5 520.04,474.5 520.37,474.5 520.7,474.5 521.03,474.5 521.36,474.5 521.68,474.5 522.01,474.5 522.34,474.5 522.67,474.5 523,474.5 523.33,474.5 523.66,474.5 523.99,474.5 524.32,474.5 524.65,474.5 524.98,474.5 525.3,474.5 525.63,474.5 525.96,474.5 526.29,474.5 526.62,474.5 526.95,474.5 527.28,474.5 527.61,474.5 527.94,474.5 528.27,474.5 528.6,474.5 528.92,474.5 529.25,474.5 529.58,474.5 529.91,474.5 530.24,474.5 530.57,474.5 530.9,474.5 531.23,474.5 531.56,474.5 531.89,474.5 532.22,474.5 532.55,474.5 532.87,474.5 533.2,474.5 533.53,474.5 533.86,474.5 534.19,474.5 534.52,474.5 534.85,474.5 535.18,474.5 535.51,474.5 535.84,474.5 536.17,474.5 536.49,474.5 536.82,474.5 537.15,474.5 537.48,474.5 537.81,474.5 538.14,474.5 538.47,474.5 538.8,474.5 539.13,474.5 539.46,474.5 539.79,474.5 540.11,474.5 540.44,474.5 540.77,474.5 541.1,474.5 541.43,474.5 541.76,474.5 542.09,474.5 542.42,474.5 542.75,474.5 543.08,474.5 543.41,474.5 543.73,474.5 544.06,474.5 544.39,474.5 544.72,474.5 545.05,474.5 545.38,474.5 545.71,474.5 546.04,474.5 546.37,474.5 546.7,474.5 547.03,474.5 547.36,474.5 547.68,474.5 548.01,474.5 548.34,474.5 548.67,474.5 549,474.5 549.33,474.5 549.66,474.5 549.99,474.5 550.32,474.5 550.65,474.5 550.98,474.5 551.3,474.5 551.63,474.5 551.96,474.5 552.29,474.5 552.62,474.5 552.95,474.5 553.28,474.5 553.61,474.5 553.94,474.5 554.27,474.5 554.6,474.5 554.92,474.5 555.25,474.5 555.58,474.5 555.91,474.5 556.24,474.5 556.57,474.5 556.9,474.5 557.23,474.5 557.56,474.5 557.89,474.5 558.22,474.5 558.54,474.5 558.87,474.5 559.2,474.5 559.53,474.5 559.86,474.5 560.19,474.5 560.52,474.5 560.85,474.5 561.18,474.5 561.51,474.5 561.84,474.5 562.16,474.5 562.49,474.5 562.82,474.5 563.15,474.5 563.48,474.5 563.81,474.5 564.14,474.5 564.47,474.5 564.8,474.5 565.13,474.5 565.46,474.5 565.79,474.5 566.11,474.5 566.44,474.5 566.77,474.5 567.1,474.5 567.43,474.5 567.76,474.5 568.09,474.5 568.42,474.5 568.75,474.5 569.08,474.5 569.41,474.5 569.73,474.5 570.06,474.5 570.39,474.5 570.72,474.5 571.05,474.5 571.38,474.5 571.71,474.5 572.04,474.5 572.37,474.5 572.7,474.5 573.03,474.5 573.35,474.5 573.68,474.5 574.01,474.5 574.34,474.5 574.67,474.5 575,474.5 575.33,474.5 575.66,474.5 575.99,474.5 576.32,474.5 576.65,474.5 576.97,474.5 577.3,474.5 577.63,474.5 577.96,474.5 578.29,474.5 578.62,474.5 578.95,474.5 579.28,474.5 579.61,474.5 579.94,474.5 580.27,474.5 580.6,474.5 580.92,474.5 581.25,474.5 581.58,474.5 581.91,474.49 582.24,474.49 582.57,474.49 582.9,474.49 583.23,474.49 583.56,474.48 583.89,474.48 584.22,474.48 584.54,474.47 584.87,474.47 585.2,474.46 585.53,474.45 585.86,474.45 586.19,474.44 586.52,474.43 586.85,474.41 587.18,474.4 587.51,474.38 587.84,474.37 588.16,474.35 588.49,474.32 588.82,474.3 589.15,474.27 589.48,474.24 589.81,474.21 590.14,474.17 590.47,474.13 590.8,474.09 591.13,474.04 591.46,473.99 591.78,473.93 592.11,473.88 592.44,473.82 592.77,473.75 593.1,473.68 593.43,473.61 593.76,473.54 594.09,473.46 594.42,473.38 594.75,473.3 595.08,473.22 595.4,473.13 595.73,473.04 596.06,472.95 596.39,472.85 596.72,472.75 597.05,472.63 597.38,472.51 597.71,472.36 598.04,472.18 598.37,471.97 598.7,471.71 599.03,471.38 599.35,470.97 599.68,470.45 600.01,469.8 600.34,468.99 600.67,467.98 601,466.75 601.33,465.26 601.66,463.48 601.99,461.39 602.32,458.95 602.65,456.16 602.97,453.02 603.3,449.54 603.63,445.75 603.96,441.7 604.29,437.45 604.62,433.08 604.95,428.69 605.28,424.4 605.61,420.31 605.94,416.56 606.27,413.25 606.59,410.51 606.92,408.43 607.25,407.07 607.58,406.5 607.91,406.86 608.24,408.46 608.57,411.25 608.9,415.08 609.23,419.74 609.56,424.99 609.89,430.59 610.21,436.3 610.54,441.9 610.87,447.2 611.2,452.07 611.53,456.42 611.86,460.2 612.19,463.4 612.52,466.04 612.85,468.17 613.18,469.85 613.51,471.14 613.84,472.11 614.16,472.83 614.49,473.35 614.82,473.72 615.15,473.97 615.48,474.15 615.81,474.26 616.14,474.34 616.47,474.39 616.8,474.43 617.13,474.45 617.46,474.46 617.78,474.47 618.11,474.48 618.44,474.48 618.77,474.49 619.1,474.49 619.43,474.49 619.76,474.49 620.09,474.49 620.42,474.5 620.75,474.5 621.08,474.5 621.4,474.5 621.73,474.5 622.06,474.5 622.39,474.5 622.72,474.5 623.05,474.5 623.38,474.5 623.71,474.5 624.04,474.5 624.37,474.5 624.7,474.5 625.02,474.5 625.35,474.5 625.68,474.5 626.01,474.5 626.34,474.5 626.67,474.5 627,474.5 627.33,474.5 627.66,474.5 627.99,474.5 628.32,474.5 628.65,474.5 628.97,474.5 629.3,474.5 629.63,474.5 629.96,474.5 630.29,474.5 630.62,474.5 630.95,474.5 631.28,474.5 631.61,474.5 631.94,474.5 632.27,474.5 632.59,474.5 632.92,474.5 633.25,474.5 633.58,474.5 633.91,474.5 634.24,474.5 634.57,474.5 634.9,474.5 635.23,474.5 635.56,474.5 635.89,474.5 636.21,474.5 636.54,474.5 636.87,474.5 637.2,474.5 637.53,474.5 637.86,474.5 638.19,474.5 638.52,474.5 638.85,474.5 639.18,474.5 639.51,474.5 639.83,474.5 640.16,474.5 640.49,474.5 640.82,474.5 641.15,474.5 641.48,474.5 641.81,474.5 642.14,474.5 642.47,474.5 642.8,474.5 643.13,474.5 643.45,474.5 643.78,474.5 644.11,474.5 644.44,474.5 644.77,474.5 645.1,474.5 645.43,474.5 645.76,474.5 646.09,474.5 646.42,474.5 646.75,474.5 647.08,474.5 647.4,474.5 647.73,474.5 648.06,474.5 648.39,474.5 648.72,474.5 649.05,474.5 649.38,474.5 649.71,474.5" fill="none" stroke="#e61e1e" stroke-width="1.6" stroke-linejoin="round" stroke-linecap="round" />
<line x1="504.9" y1="474.4" x2="678.4" y2="474.4" stroke="#111" stroke-width="1.4"/>
<rect x="504.9" y="391" width="173.5" height="139.2" fill="none" stroke="#111" stroke-width="1.3"/>
<path d="M504.9,390.8 h1.4 M504.9,400.1 h2.4 M504.9,409.4 h1.4 M504.9,418.7 h2.4 M504.9,428 h1.4 M504.9,437.3 h2.4 M504.9,446.6 h1.4 M504.9,455.9 h2.4 M504.9,465.2 h1.4 M504.9,474.5 h2.4 M504.9,483.8 h1.4 M504.9,493.1 h2.4 M504.9,502.4 h1.4 M504.9,511.7 h2.4 M504.9,521 h1.4 M504.9,530.2 v-1.4 M520.64,530.2 v-2.4 M536.38,530.2 v-1.4 M552.12,530.2 v-2.4 M567.86,530.2 v-1.4 M583.6,530.2 v-2.4 M599.34,530.2 v-1.4 M615.08,530.2 v-2.4 M630.82,530.2 v-1.4 M646.56,530.2 v-2.4 M662.3,530.2 v-1.4 M678.04,530.2 v-2.4" stroke="#111" stroke-width="0.9"/>
<text x="501.5" y="403.7" font-family="Liberation Serif" font-size="10.5" font-weight="bold" fill="#111" text-anchor="end">4</text>
<text x="501.5" y="422.3" font-family="Liberation Serif" font-size="10.5" font-weight="bold" fill="#111" text-anchor="end">3</text>
<text x="501.5" y="440.9" font-family="Liberation Serif" font-size="10.5" font-weight="bold" fill="#111" text-anchor="end">2</text>
<text x="501.5" y="459.5" font-family="Liberation Serif" font-size="10.5" font-weight="bold" fill="#111" text-anchor="end">1</text>
<text x="501.5" y="478.1" font-family="Liberation Serif" font-size="10.5" font-weight="bold" fill="#111" text-anchor="end">0</text>
<text x="501.5" y="496.7" font-family="Liberation Serif" font-size="10.5" font-weight="bold" fill="#111" text-anchor="end">-1</text>
<text x="501.5" y="515.3" font-family="Liberation Serif" font-size="10.5" font-weight="bold" fill="#111" text-anchor="end">-2</text>
<text x="501.5" y="533.9" font-family="Liberation Serif" font-size="10.5" font-weight="bold" fill="#111" text-anchor="end">-3</text>
<text x="520.64" y="540.5" font-family="Liberation Serif" font-size="10.5" font-weight="bold" fill="#111" text-anchor="middle" >1.8</text>
<text x="552.12" y="540.5" font-family="Liberation Serif" font-size="10.5" font-weight="bold" fill="#111" text-anchor="middle" >2.0</text>
<text x="583.6" y="540.5" font-family="Liberation Serif" font-size="10.5" font-weight="bold" fill="#111" text-anchor="middle" >2.2</text>
<text x="615.08" y="540.5" font-family="Liberation Serif" font-size="10.5" font-weight="bold" fill="#111" text-anchor="middle" >2.4</text>
<text x="646.56" y="540.5" font-family="Liberation Serif" font-size="10.5" font-weight="bold" fill="#111" text-anchor="middle" >2.6</text>
<text x="678.04" y="540.5" font-family="Liberation Serif" font-size="10.5" font-weight="bold" fill="#111" text-anchor="middle" >2.8</text>
<text transform="translate(488.1,528.8) rotate(-90)" font-family="Liberation Serif" font-size="12.4" font-weight="bold" fill="#111" textLength="135" lengthAdjust="spacingAndGlyphs">Current density (mA mg<tspan font-size="8" dy="-4">-1</tspan><tspan dy="4">)</tspan></text>
<text x="591.5" y="555" font-family="Liberation Serif" font-size="12" font-weight="bold" fill="#111" text-anchor="middle" >Potential (V vs. Li/Li<tspan font-size="8" dy="-4">+</tspan><tspan dy="4">)</tspan></text>
<line x1="510.7" y1="398.9" x2="523.3" y2="398.9" stroke="#e61e1e" stroke-width="1.6"/>
<text x="525" y="402.3" font-family="Liberation Serif" font-size="9.4" font-weight="bold" fill="#111" text-anchor="start" >S/1T-VSe<tspan font-size="7" dy="2">2</tspan><tspan dy="-2">-MXene</tspan></text>
<line x1="510.7" y1="412" x2="523.3" y2="412" stroke="#3a78b0" stroke-width="1.6"/>
<text x="525" y="415.4" font-family="Liberation Serif" font-size="9.4" font-weight="bold" fill="#111" text-anchor="start" >S/1T-VSe<tspan font-size="7" dy="2">2</tspan></text>
<line x1="510.7" y1="425.9" x2="523.3" y2="425.9" stroke="#111" stroke-width="1.6"/>
<text x="525" y="429.3" font-family="Liberation Serif" font-size="9.4" font-weight="bold" fill="#111" text-anchor="start" >S/MXene</text>
<text x="611.6" y="407.7" font-family="Liberation Serif" font-size="10" font-weight="bold" fill="#111" text-anchor="start" >A: Li<tspan font-size="7" dy="2">2</tspan><tspan dy="-2">S</tspan></text>
<line x1="643" y1="404.3" x2="656" y2="404.3" stroke="#111" stroke-width="0.9"/><path d="M656,402.3 l4,2 l-4,2 z" fill="#111"/>
<text x="660.2" y="407.7" font-family="Liberation Serif" font-size="10" font-weight="bold" fill="#111" text-anchor="start" >S<tspan font-size="7" dy="2">8</tspan></text>
<text x="593.7" y="496.3" font-family="Liberation Serif" font-size="10" font-weight="bold" fill="#111" text-anchor="start" >C: S<tspan font-size="7" dy="2">8</tspan></text>
<line x1="618.5" y1="492.9" x2="631.5" y2="492.9" stroke="#111" stroke-width="0.9"/><path d="M631.5,490.9 l4,2 l-4,2 z" fill="#111"/>
<text x="635.6" y="496.3" font-family="Liberation Serif" font-size="10" font-weight="bold" fill="#111" text-anchor="start" >Li<tspan font-size="7" dy="2">2</tspan><tspan dy="-2">S</tspan><tspan font-size="7" dy="2">n</tspan></text>
<text x="572.8" y="519.8" font-family="Liberation Serif" font-size="10" font-weight="bold" fill="#111" text-anchor="start" >B: Li<tspan font-size="7" dy="2">2</tspan><tspan dy="-2">S</tspan><tspan font-size="7" dy="2">n</tspan></text>
<line x1="603.5" y1="516.4" x2="616" y2="516.4" stroke="#111" stroke-width="0.9"/><path d="M616,514.4 l4,2 l-4,2 z" fill="#111"/>
<text x="620" y="519.8" font-family="Liberation Serif" font-size="10" font-weight="bold" fill="#111" text-anchor="start" >Li<tspan font-size="7" dy="2">2</tspan><tspan dy="-2">S</tspan></text>
<text x="510.6" y="525.6" font-family="Liberation Serif" font-size="10" font-weight="bold" fill="#111" text-anchor="start" >0.1 mV s<tspan font-size="7" dy="-3.5">-1</tspan></text>
</svg>
</body></html>
